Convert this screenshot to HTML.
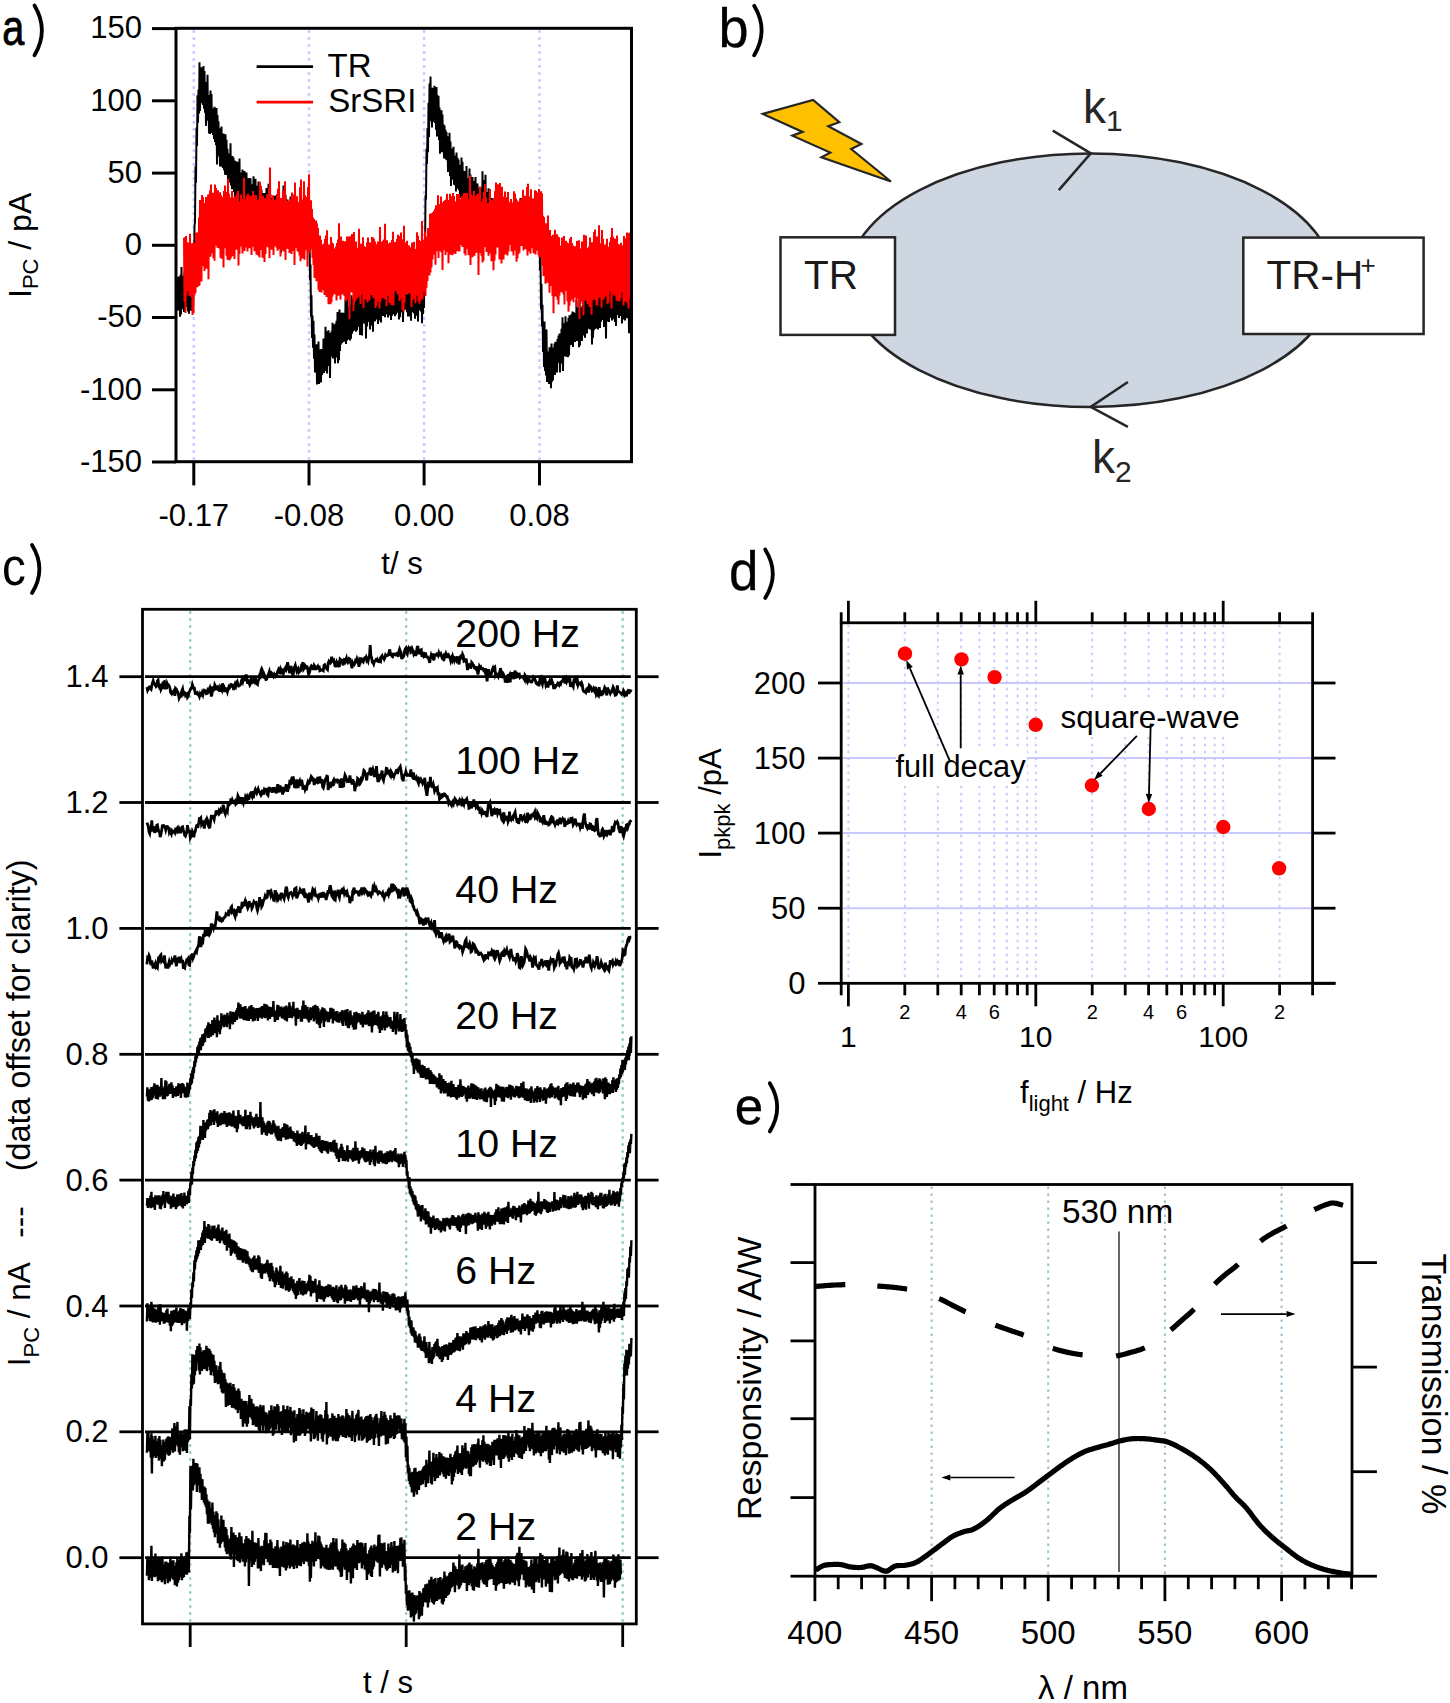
<!DOCTYPE html>
<html><head><meta charset="utf-8"><style>
html,body{margin:0;padding:0;background:#fff;}
svg{display:block;font-family:"Liberation Sans",sans-serif;}
</style></head><body>
<svg width="1450" height="1703" viewBox="0 0 1450 1703">
<rect width="1450" height="1703" fill="#fff"/>
<line x1="193.8" y1="30.3" x2="193.8" y2="459.7" stroke="#c4c4ff" stroke-width="2.5" stroke-dasharray="2.5 4.5"/>
<line x1="309" y1="30.3" x2="309" y2="459.7" stroke="#c4c4ff" stroke-width="2.5" stroke-dasharray="2.5 4.5"/>
<line x1="424.1" y1="30.3" x2="424.1" y2="459.7" stroke="#c4c4ff" stroke-width="2.5" stroke-dasharray="2.5 4.5"/>
<line x1="539.5" y1="30.3" x2="539.5" y2="459.7" stroke="#c4c4ff" stroke-width="2.5" stroke-dasharray="2.5 4.5"/>
<path d="M177.5 277.3l0.5 33.2l0.5 -34.1l0.5 31.7l0.5 -31l0.5 39.7l0.5 -42.1l0.5 39.8l0.5 -47.4l0.5 42.2l0.5 -24.5l0.5 23.4l0.5 -32.4l0.5 36.2l0.5 -39.6l0.5 39.6l0.5 -37.4l0.5 32.2l0.5 -45.5l0.5 45.8l0.5 -24.2l0.5 28.5l0.5 -27.2l0.5 29.6l0.5 -57.1l0.5 53.4l0.5 -32.3l0.5 32.9l0.5 -35.2l0.5 35.3l0.5 -31.8l0.5 30.6l0.5 -29.1l0.5 9.6l0.5 -64.4l0.5 -3.5l0.5 -55.6l0.5 16.2l0.5 -55.1l0.5 18.4l0.5 -50.9l0.5 27.6l0.5 -33.4l0.5 24.2l0.5 -51.4l0.5 48.8l0.5 -36.4l0.5 28.6l0.5 -36l0.5 35.4l0.5 -31.5l0.5 34l0.5 -39l0.5 42.6l0.5 -37.8l0.5 41.8l0.5 -28.3l0.5 41.7l0.5 -44.2l0.5 37.3l0.5 -44.4l0.5 46l0.5 -24.9l0.5 37.5l0.5 -38.4l0.5 38.9l0.5 -43.3l0.5 41.8l0.5 -38.4l0.5 39.1l0.5 -24.8l0.5 26.6l0.5 -24.3l0.5 28.5l0.5 -32.3l0.5 35.1l0.5 -29.9l0.5 33.2l0.5 -37.2l0.5 56.4l0.5 -49.5l0.5 36l0.5 -29.6l0.5 35.3l0.5 -25.4l0.5 35.2l0.5 -38.1l0.5 38.3l0.5 -40.2l0.5 40.4l0.5 -31.8l0.5 32.9l0.5 -34.5l0.5 36.9l0.5 -26.5l0.5 30.9l0.5 -40.4l0.5 40.6l0.5 -35.2l0.5 34.2l0.5 -25.1l0.5 33.4l0.5 -28.7l0.5 23.8l0.5 -23l0.5 28.1l0.5 -39.1l0.5 42.3l0.5 -28.6l0.5 32.3l0.5 -33.2l0.5 32.6l0.5 -31.2l0.5 34.4l0.5 -31.4l0.5 43.9l0.5 -43.5l0.5 29.7l0.5 -28.5l0.5 34.3l0.5 -34.7l0.5 38.2l0.5 -30.3l0.5 25.4l0.5 -36.4l0.5 48.2l0.5 -34.4l0.5 24.4l0.5 -22.9l0.5 25.5l0.5 -30l0.5 37.2l0.5 -30.6l0.5 28.6l0.5 -33.6l0.5 31l0.5 -22.6l0.5 29.8l0.5 -36.8l0.5 39.4l0.5 -31.7l0.5 26.5l0.5 -28.3l0.5 33.5l0.5 -33.7l0.5 35.5l0.5 -35.3l0.5 32.5l0.5 -26.3l0.5 37.6l0.5 -37.8l0.5 40.7l0.5 -48.7l0.5 37.5l0.5 -28.3l0.5 31.5l0.5 -38.2l0.5 46.4l0.5 -34.8l0.5 25.5l0.5 -30.2l0.5 39.5l0.5 -43.8l0.5 34.8l0.5 -30.4l0.5 32.8l0.5 -25.7l0.5 32.3l0.5 -35.7l0.5 34.4l0.5 -30.7l0.5 31.2l0.5 -31.5l0.5 39.3l0.5 -39.3l0.5 28.4l0.5 -24.8l0.5 24.4l0.5 -33l0.5 40.1l0.5 -29.9l0.5 25.4l0.5 -39.7l0.5 42.1l0.5 -31.1l0.5 32.8l0.5 -33.1l0.5 29.1l0.5 -25.8l0.5 34.6l0.5 -32.5l0.5 28.6l0.5 -32.5l0.5 36l0.5 -35.5l0.5 34.1l0.5 -35.1l0.5 31l0.5 -27.1l0.5 26.9l0.5 -28l0.5 34.4l0.5 -31.5l0.5 29.2l0.5 -30.7l0.5 30.6l0.5 -30.2l0.5 52.3l0.5 -47.6l0.5 34.3l0.5 -36.9l0.5 32.2l0.5 -49l0.5 49.1l0.5 -34.4l0.5 42.9l0.5 -48.2l0.5 34.5l0.5 -23l0.5 33.4l0.5 -40.3l0.5 32.8l0.5 -26.2l0.5 28.2l0.5 -28.9l0.5 26.2l0.5 -34.9l0.5 36.6l0.5 -32.1l0.5 37.1l0.5 -33.4l0.5 39.3l0.5 -35.3l0.5 29.6l0.5 -30.1l0.5 23.1l0.5 -25.7l0.5 39.6l0.5 -42.2l0.5 33.7l0.5 -27.4l0.5 38.5l0.5 -40.4l0.5 31.5l0.5 -32.5l0.5 39.8l0.5 -33.6l0.5 24.9l0.5 -31.1l0.5 29l0.5 -24l0.5 40.9l0.5 -43.9l0.5 34.7l0.5 -39.9l0.5 32.1l0.5 -23.2l0.5 23.5l0.5 -22.1l0.5 29.3l0.5 -31.2l0.5 26.3l0.5 -32.1l0.5 35.5l0.5 -12.2l0.5 51.2l0.5 -15.9l0.5 52.3l0.5 -21.6l0.5 42.7l0.5 -22.3l0.5 32.2l0.5 -27l0.5 37.9l0.5 -24.2l0.5 38.1l0.5 -26.7l0.5 25.8l0.5 -27.4l0.5 40.3l0.5 -30.2l0.5 25.3l0.5 -38.2l0.5 42.4l0.5 -34.5l0.5 27.4l0.5 -24.7l0.5 30.3l0.5 -33.3l0.5 25.9l0.5 -25.4l0.5 23.7l0.5 -34.9l0.5 34.5l0.5 -33l0.5 31l0.5 -44.2l0.5 38.9l0.5 -34.4l0.5 42.2l0.5 -36.3l0.5 28.9l0.5 -35.7l0.5 35l0.5 -28.3l0.5 41.1l0.5 -45.2l0.5 23.9l0.5 -25.6l0.5 25.6l0.5 -34.1l0.5 35.7l0.5 -33.8l0.5 32.5l0.5 -28.8l0.5 35.1l0.5 -39.8l0.5 34l0.5 -36.8l0.5 28.5l0.5 -37.3l0.5 51.2l0.5 -40.7l0.5 37.7l0.5 -50.7l0.5 41.6l0.5 -38.4l0.5 31.9l0.5 -26l0.5 24.4l0.5 -30.5l0.5 29.4l0.5 -26l0.5 25.8l0.5 -28.6l0.5 26.2l0.5 -39.8l0.5 44.5l0.5 -32.6l0.5 29l0.5 -42.1l0.5 41.3l0.5 -32.8l0.5 30.9l0.5 -30.4l0.5 33.1l0.5 -35.7l0.5 34l0.5 -43.5l0.5 38.6l0.5 -35.1l0.5 32.8l0.5 -25.5l0.5 24.6l0.5 -27.1l0.5 25.3l0.5 -32.3l0.5 35.3l0.5 -30.5l0.5 28.9l0.5 -38.6l0.5 35.2l0.5 -34.3l0.5 34l0.5 -26.2l0.5 34.6l0.5 -38.1l0.5 35.8l0.5 -39.1l0.5 42l0.5 -46.3l0.5 34.3l0.5 -27.2l0.5 26.9l0.5 -27l0.5 27.5l0.5 -30l0.5 44.8l0.5 -48.2l0.5 36.2l0.5 -36.3l0.5 31.9l0.5 -28.3l0.5 25.5l0.5 -23.7l0.5 33.9l0.5 -35.7l0.5 29.2l0.5 -30.7l0.5 33.3l0.5 -31.3l0.5 37.5l0.5 -54.3l0.5 44.1l0.5 -43.9l0.5 43.6l0.5 -35.9l0.5 31.6l0.5 -34.6l0.5 37.1l0.5 -35.2l0.5 39.7l0.5 -33.5l0.5 27.4l0.5 -31.3l0.5 33.8l0.5 -29.2l0.5 31.4l0.5 -44.2l0.5 35.1l0.5 -27l0.5 29.4l0.5 -32.7l0.5 30.5l0.5 -26.6l0.5 30.1l0.5 -29.3l0.5 25.8l0.5 -31.8l0.5 32.4l0.5 -26.6l0.5 29.7l0.5 -38.8l0.5 35.1l0.5 -29.8l0.5 31.7l0.5 -40.9l0.5 45.4l0.5 -32.3l0.5 28l0.5 -49.2l0.5 45.3l0.5 -27.7l0.5 30l0.5 -27.7l0.5 29.7l0.5 -28.2l0.5 26.6l0.5 -35.3l0.5 33.4l0.5 -26.4l0.5 25.9l0.5 -29.5l0.5 36.7l0.5 -37l0.5 34.9l0.5 -32.1l0.5 26.8l0.5 -31.6l0.5 31.9l0.5 -26.8l0.5 36.4l0.5 -36.2l0.5 23.3l0.5 -35l0.5 35.7l0.5 -29.7l0.5 28.8l0.5 -28l0.5 31.5l0.5 -30.6l0.5 34.9l0.5 -38l0.5 34.3l0.5 -34.1l0.5 37.6l0.5 -33.6l0.5 38l0.5 -38.5l0.5 28.4l0.5 -35l0.5 36.6l0.5 -32l0.5 32.9l0.5 -38.2l0.5 43.7l0.5 -38.7l0.5 29l0.5 -27.9l0.5 34.6l0.5 -34.4l0.5 40.3l0.5 -38.9l0.5 27.9l0.5 -30.2l0.5 27l0.5 -26l0.5 30.2l0.5 -34l0.5 45.7l0.5 -41.2l0.5 31.8l0.5 -33.4l0.5 27.5l0.5 -55.5l0.5 4.7l0.5 -62l0.5 4.6l0.5 -51l0.5 15.2l0.5 -36l0.5 24.2l0.5 -49.5l0.5 34.4l0.5 -53.7l0.5 37.8l0.5 -44.6l0.5 41.8l0.5 -30.6l0.5 39.7l0.5 -36.4l0.5 28.9l0.5 -32.2l0.5 34.2l0.5 -36.3l0.5 37.4l0.5 -26.1l0.5 32.7l0.5 -42.6l0.5 49.4l0.5 -41.4l0.5 41.2l0.5 -40.3l0.5 44.1l0.5 -32.7l0.5 46.4l0.5 -36.7l0.5 29.7l0.5 -36.5l0.5 41.9l0.5 -37.7l0.5 34l0.5 -24.2l0.5 34.2l0.5 -32.9l0.5 28.9l0.5 -24.8l0.5 29.8l0.5 -27.5l0.5 28.3l0.5 -24.1l0.5 35.8l0.5 -33.3l0.5 27.3l0.5 -33.2l0.5 43.3l0.5 -34.6l0.5 44.6l0.5 -37.6l0.5 30l0.5 -28.8l0.5 29.9l0.5 -32.8l0.5 37.9l0.5 -29.1l0.5 29.6l0.5 -28.4l0.5 34.6l0.5 -39l0.5 34.1l0.5 -28.7l0.5 30.9l0.5 -29.2l0.5 30.7l0.5 -25.5l0.5 33.2l0.5 -31.6l0.5 24.5l0.5 -33.4l0.5 46l0.5 -41.6l0.5 35.8l0.5 -26.3l0.5 32.8l0.5 -33l0.5 34l0.5 -29.8l0.5 27.5l0.5 -36.8l0.5 38.5l0.5 -26.3l0.5 31.4l0.5 -31.2l0.5 24.2l0.5 -34.2l0.5 42l0.5 -36l0.5 31.7l0.5 -23.1l0.5 36.2l0.5 -42.2l0.5 34.2l0.5 -28.7l0.5 31l0.5 -32.5l0.5 34.7l0.5 -38.6l0.5 40.6l0.5 -34.2l0.5 37.4l0.5 -37.4l0.5 31.8l0.5 -26l0.5 24.6l0.5 -25.7l0.5 26.5l0.5 -26.8l0.5 28.6l0.5 -27.3l0.5 30.6l0.5 -48.5l0.5 50.7l0.5 -27.1l0.5 28.2l0.5 -43.1l0.5 42.4l0.5 -47.6l0.5 45.4l0.5 -23.9l0.5 25.5l0.5 -29.7l0.5 35.6l0.5 -39.5l0.5 41.5l0.5 -31.4l0.5 29.9l0.5 -30.4l0.5 28.7l0.5 -28.4l0.5 32.1l0.5 -31.9l0.5 28.8l0.5 -27.5l0.5 41.1l0.5 -40.5l0.5 29.4l0.5 -27.8l0.5 28.8l0.5 -33.3l0.5 30.8l0.5 -25.3l0.5 23.9l0.5 -35.2l0.5 42.3l0.5 -31.3l0.5 24.6l0.5 -25.7l0.5 34l0.5 -32.5l0.5 31.8l0.5 -30l0.5 28.7l0.5 -29.8l0.5 28.7l0.5 -31.3l0.5 31.8l0.5 -27.3l0.5 30l0.5 -37.9l0.5 33.4l0.5 -29.1l0.5 28.8l0.5 -24.8l0.5 35l0.5 -35.9l0.5 29.3l0.5 -31.9l0.5 31.5l0.5 -28.7l0.5 33.2l0.5 -35.7l0.5 33.3l0.5 -26.5l0.5 25.2l0.5 -30.3l0.5 35.1l0.5 -29.8l0.5 23.8l0.5 -29.8l0.5 31.4l0.5 -31.4l0.5 33l0.5 -32.4l0.5 29.4l0.5 -23.4l0.5 33.3l0.5 -45.7l0.5 47.1l0.5 -45.1l0.5 37.8l0.5 -32.3l0.5 32.1l0.5 -30.7l0.5 41.2l0.5 -41.5l0.5 33.8l0.5 -32.1l0.5 26.4l0.5 -32.2l0.5 36.6l0.5 -30.6l0.5 29.3l0.5 -34.6l0.5 34.4l0.5 -31l0.5 29.4l0.5 -27.3l0.5 36.8l0.5 -45.3l0.5 37.9l0.5 -33.9l0.5 31.5l0.5 -22.2l0.5 30.7l0.5 -32.5l0.5 27.8l0.5 -28.2l0.5 25.3l0.5 -28.7l0.5 32.9l0.5 -34.3l0.5 41.6l0.5 -34.1l0.5 30.5l0.5 -23.7l0.5 49.9l0.5 -14.8l0.5 53.8l0.5 -25.9l0.5 42.7l0.5 -21.6l0.5 47.3l0.5 -28.8l0.5 43.7l0.5 -45.4l0.5 49.3l0.5 -29.9l0.5 34.5l0.5 -46l0.5 52.4l0.5 -30.3l0.5 26.2l0.5 -25.7l0.5 31.8l0.5 -36.7l0.5 31.3l0.5 -28.7l0.5 38.4l0.5 -44.7l0.5 38.3l0.5 -34l0.5 32.4l0.5 -32.6l0.5 25.3l0.5 -29.3l0.5 31.3l0.5 -33.2l0.5 26l0.5 -25.4l0.5 30.1l0.5 -33.4l0.5 24.1l0.5 -27.5l0.5 27l0.5 -29.1l0.5 39l0.5 -39l0.5 30.1l0.5 -34.9l0.5 34.8l0.5 -46.2l0.5 53.6l0.5 -47.6l0.5 33l0.5 -29l0.5 24.9l0.5 -36l0.5 40.6l0.5 -31.5l0.5 22.3l0.5 -25.8l0.5 35.4l0.5 -39.5l0.5 37.7l0.5 -40.2l0.5 30.2l0.5 -25.9l0.5 23.2l0.5 -28.4l0.5 30.8l0.5 -33.6l0.5 35.6l0.5 -35.2l0.5 29.9l0.5 -26.1l0.5 26.4l0.5 -29.1l0.5 27.1l0.5 -40l0.5 41l0.5 -33.6l0.5 30.1l0.5 -30l0.5 39.6l0.5 -53l0.5 51.2l0.5 -37l0.5 29.9l0.5 -30.9l0.5 33.5l0.5 -35.6l0.5 30.2l0.5 -33l0.5 31.2l0.5 -38.6l0.5 42.6l0.5 -41.5l0.5 31l0.5 -25.3l0.5 31.6l0.5 -33.3l0.5 28.6l0.5 -27.3l0.5 23.4l0.5 -30.3l0.5 34.8l0.5 -49.7l0.5 48.1l0.5 -28.3l0.5 44.9l0.5 -59l0.5 52.3l0.5 -43.2l0.5 35.8l0.5 -33.3l0.5 32.1l0.5 -38l0.5 37.5l0.5 -38.8l0.5 32.5l0.5 -26.4l0.5 33.6l0.5 -34.1l0.5 31.5l0.5 -37.7l0.5 38.9l0.5 -33l0.5 26.6l0.5 -32.3l0.5 29.4l0.5 -26.8l0.5 28l0.5 -36.5l0.5 43.4l0.5 -35.1l0.5 34l0.5 -35.1l0.5 47.7l0.5 -48l0.5 30.2l0.5 -36.1l0.5 37.1l0.5 -31.4l0.5 31.9l0.5 -38.7l0.5 34.3l0.5 -36.5l0.5 33l0.5 -25l0.5 31.2l0.5 -40.7l0.5 39.6l0.5 -45.2l0.5 39.5l0.5 -23.5l0.5 31.9l0.5 -34.5l0.5 38.6l0.5 -42.2l0.5 31l0.5 -27.2l0.5 24.9l0.5 -39.4l0.5 44.8l0.5 -30.9l0.5 28.9l0.5 -30.9l0.5 29.2l0.5 -31.2l0.5 40.3l0.5 -46.9l0.5 43l0.5 -38.9l0.5 37.9l0.5 -59.1l0.5 61.2l0.5 -39l0.5 29.6l0.5 -27.8l0.5 34.9l0.5 -37.6l0.5 29.1l0.5 -29.7l0.5 53.1l0.5 -54.3l0.5 36.3" fill="none" stroke="#000" stroke-width="2" />
<path d="M184 237.7l0.5 64l0.5 -64.4l0.5 75.6l0.5 -77l0.5 59.3l0.5 -53l0.5 49.3l0.5 -48.9l0.5 48.1l0.5 -41.7l0.5 47l0.5 -62.3l0.5 59.9l0.5 -45.8l0.5 49.1l0.5 -53.6l0.5 71.8l0.5 -72.2l0.5 70.3l0.5 -70.3l0.5 52.4l0.5 -47.9l0.5 45.6l0.5 -60.4l0.5 51.8l0.5 -49.5l0.5 52.4l0.5 -55.1l0.5 53.7l0.5 -68.3l0.5 67.8l0.5 -85.5l0.5 71.9l0.5 -62.7l0.5 72.4l0.5 -86.5l0.5 71.3l0.5 -69.2l0.5 59.4l0.5 -50l0.5 64.6l0.5 -68.1l0.5 52.5l0.5 -58.4l0.5 71.6l0.5 -63l0.5 48.4l0.5 -59.4l0.5 84.5l0.5 -85l0.5 53.7l0.5 -57.5l0.5 66.4l0.5 -72.3l0.5 69.1l0.5 -51.2l0.5 47.6l0.5 -57.3l0.5 65.5l0.5 -65.1l0.5 67.6l0.5 -76.1l0.5 60.2l0.5 -56.9l0.5 57.9l0.5 -46.4l0.5 48.3l0.5 -57.5l0.5 57.7l0.5 -50.9l0.5 51.5l0.5 -56.2l0.5 65.5l0.5 -62.9l0.5 63.9l0.5 -57.4l0.5 54.1l0.5 -58.5l0.5 70.5l0.5 -76.6l0.5 54l0.5 -59.5l0.5 62.9l0.5 -53.2l0.5 60.7l0.5 -63.8l0.5 67.7l0.5 -81.3l0.5 69.3l0.5 -53.9l0.5 66.7l0.5 -62.9l0.5 61.3l0.5 -58l0.5 56.1l0.5 -66l0.5 65.1l0.5 -58.6l0.5 47.4l0.5 -44.5l0.5 58.6l0.5 -62.7l0.5 48.8l0.5 -44.3l0.5 48.9l0.5 -56l0.5 52.3l0.5 -55.2l0.5 74.8l0.5 -64.1l0.5 52.6l0.5 -52.6l0.5 44.3l0.5 -51.2l0.5 51.8l0.5 -47.4l0.5 54.4l0.5 -53.8l0.5 48.3l0.5 -70.1l0.5 73.1l0.5 -47.9l0.5 41.1l0.5 -44.9l0.5 48.3l0.5 -51.7l0.5 55.6l0.5 -57.7l0.5 51.8l0.5 -48.6l0.5 51.4l0.5 -52.6l0.5 52.6l0.5 -47.5l0.5 54.3l0.5 -59.6l0.5 51.3l0.5 -55.8l0.5 53.9l0.5 -43l0.5 49.4l0.5 -56.3l0.5 49.4l0.5 -49.5l0.5 59.8l0.5 -51.9l0.5 49.6l0.5 -52.6l0.5 55.9l0.5 -52.7l0.5 54.4l0.5 -75.7l0.5 68.3l0.5 -64.1l0.5 59.5l0.5 -45.7l0.5 58l0.5 -61.9l0.5 54.7l0.5 -52.6l0.5 64.2l0.5 -62.4l0.5 54.3l0.5 -55.4l0.5 48.2l0.5 -52.5l0.5 49.7l0.5 -42.1l0.5 45.5l0.5 -59.9l0.5 70.8l0.5 -90.8l0.5 81.2l0.5 -49.2l0.5 50.3l0.5 -47.7l0.5 47l0.5 -53.9l0.5 59.9l0.5 -53.9l0.5 44.7l0.5 -45.6l0.5 45.1l0.5 -45.9l0.5 48.1l0.5 -53.7l0.5 56.8l0.5 -62l0.5 60.5l0.5 -68l0.5 63.5l0.5 -42.4l0.5 54.3l0.5 -58.6l0.5 46.4l0.5 -41.5l0.5 47.3l0.5 -59.7l0.5 61l0.5 -54.3l0.5 50.8l0.5 -66.7l0.5 78.7l0.5 -62.1l0.5 47.9l0.5 -43.3l0.5 46.3l0.5 -47.8l0.5 47.9l0.5 -46.4l0.5 50.4l0.5 -53.6l0.5 48.1l0.5 -47.6l0.5 54.2l0.5 -61.6l0.5 58.7l0.5 -49.9l0.5 44.1l0.5 -50.8l0.5 70.6l0.5 -82.6l0.5 65.3l0.5 -48.9l0.5 45.9l0.5 -48.5l0.5 54.6l0.5 -47.7l0.5 48.8l0.5 -49.7l0.5 53.1l0.5 -68.2l0.5 74.1l0.5 -81.9l0.5 68.8l0.5 -48.7l0.5 59l0.5 -55.8l0.5 43.3l0.5 -64.8l0.5 78.5l0.5 -64.4l0.5 50.2l0.5 -46l0.5 50.8l0.5 -53.4l0.5 69.8l0.5 -79.6l0.5 63.3l0.5 -76.2l0.5 78.8l0.5 -52.8l0.5 45.8l0.5 -45.7l0.5 49.3l0.5 -40.7l0.5 49.1l0.5 -40.5l0.5 47.6l0.5 -46l0.5 58.9l0.5 -56.7l0.5 54.4l0.5 -55.1l0.5 60.6l0.5 -58l0.5 55.6l0.5 -50.7l0.5 61.6l0.5 -53.3l0.5 55.6l0.5 -56.6l0.5 53.6l0.5 -49.3l0.5 52.7l0.5 -48l0.5 45.3l0.5 -44.4l0.5 44.6l0.5 -46.3l0.5 51.3l0.5 -55.8l0.5 52.6l0.5 -56.1l0.5 61.3l0.5 -66.6l0.5 64.7l0.5 -49.1l0.5 58.3l0.5 -59.8l0.5 48.1l0.5 -45.1l0.5 56.9l0.5 -67.3l0.5 65.2l0.5 -59.8l0.5 54l0.5 -52.9l0.5 50.8l0.5 -45.9l0.5 42.7l0.5 -42.5l0.5 45.6l0.5 -47.7l0.5 53.9l0.5 -57.5l0.5 52.9l0.5 -56.4l0.5 54.9l0.5 -71l0.5 72.1l0.5 -50.1l0.5 54.3l0.5 -63.1l0.5 56.2l0.5 -48.7l0.5 50.4l0.5 -53.6l0.5 52.8l0.5 -48.6l0.5 51.1l0.5 -54.8l0.5 60.1l0.5 -57.6l0.5 56.5l0.5 -63.8l0.5 62.9l0.5 -52.4l0.5 51.6l0.5 -62l0.5 82.6l0.5 -83l0.5 54.8l0.5 -42.4l0.5 43.6l0.5 -58.2l0.5 58.4l0.5 -52l0.5 70.7l0.5 -79.1l0.5 62.2l0.5 -49.9l0.5 56.9l0.5 -59.7l0.5 53.5l0.5 -47.3l0.5 50.8l0.5 -49.7l0.5 45.1l0.5 -65.1l0.5 67l0.5 -47.2l0.5 55.3l0.5 -60.2l0.5 50.9l0.5 -45.6l0.5 41.6l0.5 -53.4l0.5 70.7l0.5 -62l0.5 47.3l0.5 -45.7l0.5 52.1l0.5 -52.7l0.5 50.7l0.5 -55.1l0.5 60l0.5 -64.9l0.5 57.5l0.5 -46.9l0.5 52.3l0.5 -58l0.5 52.4l0.5 -51.6l0.5 48.1l0.5 -54.5l0.5 58.4l0.5 -57.8l0.5 60.7l0.5 -59.4l0.5 55.7l0.5 -53.1l0.5 66.6l0.5 -60.4l0.5 58l0.5 -61.3l0.5 49.7l0.5 -52.5l0.5 60l0.5 -53.5l0.5 60.6l0.5 -81.5l0.5 74.6l0.5 -55.8l0.5 47l0.5 -51.2l0.5 56.3l0.5 -57.3l0.5 54.5l0.5 -55.7l0.5 59.8l0.5 -75.6l0.5 67.1l0.5 -42.2l0.5 57.6l0.5 -66l0.5 51.1l0.5 -47.9l0.5 52.3l0.5 -49.3l0.5 56.5l0.5 -60.3l0.5 57.5l0.5 -51.6l0.5 56.5l0.5 -64.9l0.5 56.5l0.5 -64.8l0.5 73.7l0.5 -56.3l0.5 41.8l0.5 -49l0.5 48.9l0.5 -44.6l0.5 44.1l0.5 -51.5l0.5 55.2l0.5 -59.3l0.5 59.6l0.5 -58.5l0.5 65.1l0.5 -63.3l0.5 60.8l0.5 -66l0.5 60.2l0.5 -53.4l0.5 70.8l0.5 -61.3l0.5 62.6l0.5 -85.7l0.5 77.1l0.5 -60.3l0.5 51.4l0.5 -46.9l0.5 47.6l0.5 -53.8l0.5 53.7l0.5 -45.5l0.5 42.9l0.5 -46.7l0.5 48.1l0.5 -46l0.5 43.7l0.5 -43.2l0.5 59.1l0.5 -64.3l0.5 57.4l0.5 -54.5l0.5 47.2l0.5 -50.9l0.5 56.7l0.5 -49.6l0.5 54.3l0.5 -54.2l0.5 46.5l0.5 -63.2l0.5 58.7l0.5 -55.2l0.5 65.8l0.5 -61.7l0.5 63.9l0.5 -57.4l0.5 54.2l0.5 -59.5l0.5 58l0.5 -78.1l0.5 78.4l0.5 -53.5l0.5 45.9l0.5 -52l0.5 52.1l0.5 -60.3l0.5 64.5l0.5 -59.5l0.5 51.2l0.5 -49l0.5 42.3l0.5 -53.2l0.5 46.7l0.5 -45.2l0.5 46.2l0.5 -61.5l0.5 58.5l0.5 -59.3l0.5 54.2l0.5 -51.8l0.5 43.8l0.5 -47.2l0.5 42.5l0.5 -43.7l0.5 43.6l0.5 -45.9l0.5 55.9l0.5 -59.5l0.5 46.1l0.5 -45.7l0.5 45.1l0.5 -55.5l0.5 62.7l0.5 -53.8l0.5 47.2l0.5 -45.1l0.5 40.8l0.5 -50.5l0.5 56.1l0.5 -49.3l0.5 66.7l0.5 -67.5l0.5 46.1l0.5 -47.6l0.5 49.1l0.5 -49.9l0.5 54.8l0.5 -55.6l0.5 51.6l0.5 -57.3l0.5 58.4l0.5 -52.2l0.5 63.3l0.5 -59.9l0.5 50.5l0.5 -60l0.5 60.9l0.5 -52.1l0.5 50.6l0.5 -57l0.5 59l0.5 -62.3l0.5 60.7l0.5 -57.6l0.5 52.9l0.5 -47.5l0.5 52.7l0.5 -52.6l0.5 48.5l0.5 -56.1l0.5 57.3l0.5 -48.1l0.5 43.1l0.5 -52.2l0.5 57.5l0.5 -52.7l0.5 46.1l0.5 -45.6l0.5 45.6l0.5 -48.9l0.5 51l0.5 -49.8l0.5 49.7l0.5 -54l0.5 60.7l0.5 -54.8l0.5 56.6l0.5 -62.5l0.5 55.2l0.5 -55.3l0.5 56.4l0.5 -46.2l0.5 52.2l0.5 -56.3l0.5 50l0.5 -73.5l0.5 89.5l0.5 -70.8l0.5 55.6l0.5 -54.4l0.5 61.9l0.5 -53.9l0.5 50l0.5 -62.3l0.5 64.8l0.5 -59.9l0.5 56.9l0.5 -51.2l0.5 51.2l0.5 -58.6l0.5 54.7l0.5 -55.1l0.5 81.3l0.5 -79.9l0.5 51.7l0.5 -60.5l0.5 66.6l0.5 -51l0.5 53.8l0.5 -54.1l0.5 60.8l0.5 -63.5l0.5 61.7l0.5 -68.6l0.5 54.3l0.5 -62.5l0.5 63.1l0.5 -49.4l0.5 54.3l0.5 -48.7l0.5 42.1l0.5 -42.4l0.5 52.9l0.5 -53.3l0.5 51.1l0.5 -64.7l0.5 60.2l0.5 -48.8l0.5 60.9l0.5 -58.3l0.5 45.7l0.5 -49l0.5 70.7l0.5 -71.8l0.5 61.9l0.5 -69.1l0.5 63.1l0.5 -71.8l0.5 63.9l0.5 -51.5l0.5 52.6l0.5 -63.4l0.5 63.4l0.5 -49.3l0.5 61.1l0.5 -76.5l0.5 67.1l0.5 -55.7l0.5 69.2l0.5 -76.7l0.5 61.8l0.5 -52.2l0.5 63.1l0.5 -58.9l0.5 53.4l0.5 -62.5l0.5 63.1l0.5 -54.8l0.5 50.8l0.5 -51.7l0.5 56.6l0.5 -63.5l0.5 59.6l0.5 -48.5l0.5 41.9l0.5 -42.5l0.5 42l0.5 -45.6l0.5 52.7l0.5 -48.9l0.5 42.1l0.5 -41.9l0.5 52.5l0.5 -64.1l0.5 59.3l0.5 -57l0.5 55.1l0.5 -50.5l0.5 63.5l0.5 -61.1l0.5 57.9l0.5 -56.4l0.5 52l0.5 -52.3l0.5 50.6l0.5 -53.2l0.5 45.1l0.5 -42.8l0.5 44.5l0.5 -48l0.5 47.9l0.5 -56.2l0.5 60.7l0.5 -54.2l0.5 52.3l0.5 -52.8l0.5 53.4l0.5 -49.5l0.5 50l0.5 -62.6l0.5 68.5l0.5 -71.7l0.5 66l0.5 -48.2l0.5 50l0.5 -55.1l0.5 57.2l0.5 -64.4l0.5 59l0.5 -49.7l0.5 47.6l0.5 -46.1l0.5 52.8l0.5 -54.5l0.5 55.2l0.5 -63.4l0.5 64.4l0.5 -63.6l0.5 59.8l0.5 -58.3l0.5 53.7l0.5 -47l0.5 56l0.5 -66.2l0.5 68.2l0.5 -59.8l0.5 59.3l0.5 -65.5l0.5 66.4l0.5 -64.4l0.5 72.5l0.5 -49.9l0.5 60.2l0.5 -58.7l0.5 57.1l0.5 -47.8l0.5 57.2l0.5 -60.6l0.5 52.5l0.5 -45.3l0.5 52.4l0.5 -67.3l0.5 63.9l0.5 -47.2l0.5 60.5l0.5 -62.8l0.5 56l0.5 -50l0.5 50.1l0.5 -43.9l0.5 53.9l0.5 -61.3l0.5 78.5l0.5 -71.8l0.5 47.3l0.5 -59l0.5 66.8l0.5 -53.3l0.5 51.6l0.5 -60.6l0.5 65.6l0.5 -63.4l0.5 68.2l0.5 -67.3l0.5 58.3l0.5 -47.7l0.5 43.9l0.5 -46.1l0.5 46.4l0.5 -54.5l0.5 54.9l0.5 -51l0.5 52.9l0.5 -58.5l0.5 68.6l0.5 -56.1l0.5 42.4l0.5 -50.1l0.5 49.4l0.5 -47.6l0.5 58.8l0.5 -58.1l0.5 68.6l0.5 -67l0.5 60.9l0.5 -66.9l0.5 62.4l0.5 -64.1l0.5 55.6l0.5 -49.7l0.5 56.4l0.5 -54l0.5 56.9l0.5 -55.9l0.5 51.2l0.5 -51.4l0.5 48.1l0.5 -46.3l0.5 58.8l0.5 -65.7l0.5 49l0.5 -45.9l0.5 54.5l0.5 -58.4l0.5 78.6l0.5 -70.4l0.5 49.7l0.5 -49.1l0.5 52.5l0.5 -60l0.5 62.5l0.5 -57.7l0.5 68.8l0.5 -80.5l0.5 55.8l0.5 -50.3l0.5 60.2l0.5 -64.9l0.5 61.7l0.5 -49.3l0.5 56l0.5 -54.5l0.5 47.9l0.5 -50.7l0.5 60.4l0.5 -69.6l0.5 57.3l0.5 -50.8l0.5 70.8l0.5 -72.4l0.5 58l0.5 -57.7l0.5 56.8l0.5 -67.4l0.5 62.8l0.5 -65.2l0.5 70.5l0.5 -59.2l0.5 64.2l0.5 -68.6l0.5 69l0.5 -67.7l0.5 52.8l0.5 -65.4l0.5 72.6l0.5 -54.5l0.5 48.5l0.5 -47.7l0.5 63.6l0.5 -77.7l0.5 69l0.5 -60.3l0.5 61l0.5 -55.3l0.5 52.7l0.5 -52.2l0.5 51.3l0.5 -51.6l0.5 46.1l0.5 -52l0.5 65.3l0.5 -55.6l0.5 54.3l0.5 -55.9l0.5 44.3l0.5 -49.3l0.5 48.4l0.5 -52.9l0.5 71.2l0.5 -80.5l0.5 66.8l0.5 -58l0.5 54.3l0.5 -52.5l0.5 56.9l0.5 -56.8l0.5 55.1l0.5 -44.6l0.5 51.5l0.5 -65.2l0.5 54.8l0.5 -46.4l0.5 57l0.5 -56.3l0.5 57l0.5 -56.2l0.5 52.8l0.5 -55.5l0.5 47.7l0.5 -44.7l0.5 46.2l0.5 -46.4l0.5 60l0.5 -69.6l0.5 60l0.5 -53.3l0.5 59.1l0.5 -63.4l0.5 56.6l0.5 -62.5l0.5 70.9l0.5 -70l0.5 75.1l0.5 -65.2l0.5 52.4l0.5 -63.1l0.5 66.4" fill="none" stroke="#ff0000" stroke-width="2" />
<rect x="176" y="28.3" width="455.5" height="433.4" fill="none" stroke="#000" stroke-width="3"/>
<line x1="152" y1="28.6" x2="176" y2="28.6" stroke="#000" stroke-width="3" />
<text x="142" y="38.4" font-size="31" text-anchor="end" fill="#000" >150</text>
<line x1="152" y1="100.8" x2="176" y2="100.8" stroke="#000" stroke-width="3" />
<text x="142" y="110.6" font-size="31" text-anchor="end" fill="#000" >100</text>
<line x1="152" y1="173.1" x2="176" y2="173.1" stroke="#000" stroke-width="3" />
<text x="142" y="182.9" font-size="31" text-anchor="end" fill="#000" >50</text>
<line x1="152" y1="245.3" x2="176" y2="245.3" stroke="#000" stroke-width="3" />
<text x="142" y="255.1" font-size="31" text-anchor="end" fill="#000" >0</text>
<line x1="152" y1="317.5" x2="176" y2="317.5" stroke="#000" stroke-width="3" />
<text x="142" y="327.3" font-size="31" text-anchor="end" fill="#000" >-50</text>
<line x1="152" y1="389.8" x2="176" y2="389.8" stroke="#000" stroke-width="3" />
<text x="142" y="399.6" font-size="31" text-anchor="end" fill="#000" >-100</text>
<line x1="152" y1="462" x2="176" y2="462" stroke="#000" stroke-width="3" />
<text x="142" y="471.8" font-size="31" text-anchor="end" fill="#000" >-150</text>
<line x1="193.8" y1="461.7" x2="193.8" y2="485.4" stroke="#000" stroke-width="3" />
<text x="193.8" y="525.7" font-size="31" text-anchor="middle" fill="#000" >-0.17</text>
<line x1="309" y1="461.7" x2="309" y2="485.4" stroke="#000" stroke-width="3" />
<text x="309" y="525.7" font-size="31" text-anchor="middle" fill="#000" >-0.08</text>
<line x1="424.1" y1="461.7" x2="424.1" y2="485.4" stroke="#000" stroke-width="3" />
<text x="424.1" y="525.7" font-size="31" text-anchor="middle" fill="#000" >0.00</text>
<line x1="539.5" y1="461.7" x2="539.5" y2="485.4" stroke="#000" stroke-width="3" />
<text x="539.5" y="525.7" font-size="31" text-anchor="middle" fill="#000" >0.08</text>
<text x="402" y="574" font-size="31" text-anchor="middle" fill="#000" >t/ s</text>
<text transform="translate(30.6 298) rotate(-90)" font-size="32">I<tspan font-size="22" dy="7.6">PC</tspan><tspan dy="-7.6"> / pA</tspan></text>
<line x1="256.6" y1="66.6" x2="313.1" y2="66.6" stroke="#000" stroke-width="2.8" />
<line x1="256.6" y1="102.1" x2="313.1" y2="102.1" stroke="#ff0000" stroke-width="2.8" />
<text x="327.6" y="76.6" font-size="33" text-anchor="start" fill="#000" >TR</text>
<text x="328.3" y="112.4" font-size="33" text-anchor="start" fill="#000" >SrSRI</text>
<path d="M762.9 113.9 L813.1 99.9 L839.3 122.2 L828.3 126.1 L861.4 144.0 L851.2 149.0 L890.9 181.5 L821.4 157.2 L830.2 152.6 L792.4 135.7 L802.6 131.9 Z" fill="#ffc000" stroke="#262626" stroke-width="2.2" stroke-linejoin="miter"/>
<ellipse cx="1090.5" cy="280.2" rx="243" ry="126.8" fill="#cdd6e1" stroke="#262626" stroke-width="2.5"/>
<rect x="780.5" y="237.3" width="114.5" height="97.6" fill="#fff" stroke="#262626" stroke-width="2.5"/>
<rect x="1243.3" y="237.6" width="180.3" height="96.4" fill="#fff" stroke="#262626" stroke-width="2.5"/>
<path d="M1052.8 130.6 L1090.8 153.4 L1058.8 190.1" fill="none" stroke="#262626" stroke-width="2.5"/>
<path d="M1127.9 382 L1090.7 406.9 L1127.9 426.8" fill="none" stroke="#262626" stroke-width="2.5"/>
<text x="804" y="288.6" font-size="40.5" text-anchor="start" fill="#1a1a1a" >TR</text>
<text x="1266.5" y="288.6" font-size="40.5" fill="#1a1a1a">TR-H<tspan font-size="26" dx="-2.7" dy="-14.3">+</tspan></text>
<text x="1083" y="123.1" font-size="46" fill="#262626">k<tspan font-size="30" dy="8">1</tspan></text>
<text x="1092" y="473.1" font-size="46" fill="#262626">k<tspan font-size="30" dy="9">2</tspan></text>
<text transform="translate(2.17 45.05) scale(0.396 0.495)" font-size="100" stroke="#000" stroke-width="1.77" stroke-linejoin="round">a</text>
<path d="M34.5 5.5 Q49.3 30.4 34.5 55.3" fill="none" stroke="#000" stroke-width="3.8" stroke-linecap="round"/>
<text transform="translate(718.46 46.51) scale(0.541 0.558)" font-size="100" stroke="#000" stroke-width="0.55" stroke-linejoin="round">b</text>
<path d="M754.2 5.8 Q769.0 30.5 754.2 55.3" fill="none" stroke="#000" stroke-width="3.8" stroke-linecap="round"/>
<text transform="translate(1.89 585.00) scale(0.477 0.520)" font-size="100" stroke="#000" stroke-width="0.00" stroke-linejoin="round">c</text>
<path d="M32.0 544.9 Q46.8 569.0 32.0 593.0" fill="none" stroke="#000" stroke-width="3.8" stroke-linecap="round"/>
<text transform="translate(728.93 589.55) scale(0.529 0.557)" font-size="100" stroke="#000" stroke-width="0.57" stroke-linejoin="round">d</text>
<path d="M765.2 549.4 Q780.4 573.7 765.2 597.9" fill="none" stroke="#000" stroke-width="3.8" stroke-linecap="round"/>
<text transform="translate(734.81 1123.55) scale(0.511 0.522)" font-size="100" stroke="#000" stroke-width="0.59" stroke-linejoin="round">e</text>
<path d="M769.8 1083.2 Q784.6 1107.3 769.8 1131.4" fill="none" stroke="#000" stroke-width="3.8" stroke-linecap="round"/>
<line x1="190.2" y1="611.3" x2="190.2" y2="1621.9" stroke="#8cc4c4" stroke-width="2.2" stroke-dasharray="2.5 4.5"/>
<line x1="406.2" y1="611.3" x2="406.2" y2="1621.9" stroke="#8cc4c4" stroke-width="2.2" stroke-dasharray="2.5 4.5"/>
<line x1="622.7" y1="611.3" x2="622.7" y2="1621.9" stroke="#8cc4c4" stroke-width="2.2" stroke-dasharray="2.5 4.5"/>
<line x1="145" y1="1557.7" x2="630.8" y2="1557.7" stroke="#000" stroke-width="2.8" />
<line x1="119.4" y1="1557.7" x2="142.5" y2="1557.7" stroke="#000" stroke-width="2.8" />
<line x1="636.3" y1="1557.7" x2="658.6" y2="1557.7" stroke="#000" stroke-width="2.8" />
<text x="108.5" y="1568.2" font-size="31" text-anchor="end" fill="#000" >0.0</text>
<line x1="145" y1="1431.8" x2="630.8" y2="1431.8" stroke="#000" stroke-width="2.8" />
<line x1="119.4" y1="1431.8" x2="142.5" y2="1431.8" stroke="#000" stroke-width="2.8" />
<line x1="636.3" y1="1431.8" x2="658.6" y2="1431.8" stroke="#000" stroke-width="2.8" />
<text x="108.5" y="1442.3" font-size="31" text-anchor="end" fill="#000" >0.2</text>
<line x1="145" y1="1306" x2="630.8" y2="1306" stroke="#000" stroke-width="2.8" />
<line x1="119.4" y1="1306" x2="142.5" y2="1306" stroke="#000" stroke-width="2.8" />
<line x1="636.3" y1="1306" x2="658.6" y2="1306" stroke="#000" stroke-width="2.8" />
<text x="108.5" y="1316.5" font-size="31" text-anchor="end" fill="#000" >0.4</text>
<line x1="145" y1="1180.1" x2="630.8" y2="1180.1" stroke="#000" stroke-width="2.8" />
<line x1="119.4" y1="1180.1" x2="142.5" y2="1180.1" stroke="#000" stroke-width="2.8" />
<line x1="636.3" y1="1180.1" x2="658.6" y2="1180.1" stroke="#000" stroke-width="2.8" />
<text x="108.5" y="1190.6" font-size="31" text-anchor="end" fill="#000" >0.6</text>
<line x1="145" y1="1054.3" x2="630.8" y2="1054.3" stroke="#000" stroke-width="2.8" />
<line x1="119.4" y1="1054.3" x2="142.5" y2="1054.3" stroke="#000" stroke-width="2.8" />
<line x1="636.3" y1="1054.3" x2="658.6" y2="1054.3" stroke="#000" stroke-width="2.8" />
<text x="108.5" y="1064.8" font-size="31" text-anchor="end" fill="#000" >0.8</text>
<line x1="145" y1="928.4" x2="630.8" y2="928.4" stroke="#000" stroke-width="2.8" />
<line x1="119.4" y1="928.4" x2="142.5" y2="928.4" stroke="#000" stroke-width="2.8" />
<line x1="636.3" y1="928.4" x2="658.6" y2="928.4" stroke="#000" stroke-width="2.8" />
<text x="108.5" y="938.9" font-size="31" text-anchor="end" fill="#000" >1.0</text>
<line x1="145" y1="802.5" x2="630.8" y2="802.5" stroke="#000" stroke-width="2.8" />
<line x1="119.4" y1="802.5" x2="142.5" y2="802.5" stroke="#000" stroke-width="2.8" />
<line x1="636.3" y1="802.5" x2="658.6" y2="802.5" stroke="#000" stroke-width="2.8" />
<text x="108.5" y="813" font-size="31" text-anchor="end" fill="#000" >1.2</text>
<line x1="145" y1="676.7" x2="630.8" y2="676.7" stroke="#000" stroke-width="2.8" />
<line x1="119.4" y1="676.7" x2="142.5" y2="676.7" stroke="#000" stroke-width="2.8" />
<line x1="636.3" y1="676.7" x2="658.6" y2="676.7" stroke="#000" stroke-width="2.8" />
<text x="108.5" y="687.2" font-size="31" text-anchor="end" fill="#000" >1.4</text>
<rect x="142.5" y="609.3" width="493.79999999999995" height="1014.6000000000001" fill="none" stroke="#000" stroke-width="2.8"/>
<line x1="190.2" y1="1623.9" x2="190.2" y2="1647" stroke="#000" stroke-width="2.8" />
<line x1="406.2" y1="1623.9" x2="406.2" y2="1647" stroke="#000" stroke-width="2.8" />
<line x1="622.7" y1="1623.9" x2="622.7" y2="1647" stroke="#000" stroke-width="2.8" />
<text x="388" y="1693" font-size="31" text-anchor="middle" fill="#000" >t / s</text>
<path d="M146.9 687.1l0.7 3.2l0.7 -1.4l0.7 -2l0.7 -0.1l0.7 2l0.7 0.7l0.7 -3.7l0.7 -2.9l0.7 -2.1l0.7 2.4l0.7 0.9l0.7 1.1l0.7 1.4l0.7 -0.8l0.7 -4.7l0.7 -1l0.7 6l0.7 1.4l0.7 -1l0.7 3.1l0.7 -1.6l0.7 -2.9l0.7 1l0.7 -4.2l0.7 -0.3l0.7 7.7l0.7 -6.9l0.7 6.8l0.7 -5.6l0.7 1.7l0.7 -0.3l0.7 1.4l0.7 2l0.7 4.3l0.7 0.9l0.7 -3.1l0.7 3.9l0.7 -2.6l0.7 -1.3l0.7 5.3l0.7 -7.4l0.7 0.7l0.7 1.8l0.7 1l0.7 2.3l0.7 3.9l0.7 -1.5l0.7 -0l0.7 -3.5l0.7 -2.5l0.7 -1.8l0.7 4.7l0.7 -1.4l0.7 0.6l0.7 2.5l0.7 -1.2l0.7 -0.4l0.7 3.6l0.7 -1.1l0.7 -3.1l0.7 -1.7l0.7 -1.7l0.7 -1.3l0.7 -0.5l0.7 -3.2l0.7 2.2l0.7 1.9l0.7 -0.1l0.7 4.8l0.7 0.2l0.7 -0.7l0.7 -0.4l0.7 2l0.7 0.5l0.7 1.7l0.7 -2.7l0.7 1.5l0.7 -0.3l0.7 -2.5l0.7 2l0.7 -3l0.7 -1.5l0.7 0.4l0.7 1.3l0.7 1.8l0.7 -0.2l0.7 -3.3l0.7 1l0.7 -2.1l0.7 -1.6l0.7 2.7l0.7 6.3l0.7 -2.6l0.7 -7.6l0.7 4.1l0.7 -0.5l0.7 -5.1l0.7 1.4l0.7 3.6l0.7 -2.3l0.7 -0.6l0.7 3.9l0.7 -3.5l0.7 4.6l0.7 -4.8l0.7 1.2l0.7 1.5l0.7 -6.5l0.7 4.7l0.7 -0.7l0.7 4.8l0.7 -3.7l0.7 0.3l0.7 0.8l0.7 2.3l0.7 -2.8l0.7 -2l0.7 1.1l0.7 -0.9l0.7 -3.8l0.7 2.3l0.7 0.4l0.7 -0.5l0.7 4.3l0.7 -3.6l0.7 -2.2l0.7 1.8l0.7 -3.3l0.7 -1.1l0.7 3l0.7 1.5l0.7 -0.2l0.7 -0.7l0.7 -0.8l0.7 -3.5l0.7 -1.8l0.7 2.2l0.7 -3.4l0.7 3.5l0.7 -4l0.7 0.8l0.7 -3.6l0.7 5.2l0.7 4l0.7 -4.3l0.7 3.7l0.7 1.9l0.7 -1.4l0.7 -5.5l0.7 4.6l0.7 -0.2l0.7 -1.4l0.7 -1.8l0.7 1.8l0.7 -2.8l0.7 3.7l0.7 1.7l0.7 0.7l0.7 -4l0.7 -0.9l0.7 -4l0.7 0.8l0.7 -5.7l0.7 -1.7l0.7 1.6l0.7 2.7l0.7 5.1l0.7 -2.7l0.7 2.1l0.7 1.8l0.7 -0.2l0.7 -1.7l0.7 -2.6l0.7 -1.4l0.7 -2.2l0.7 2.7l0.7 -0.7l0.7 3.2l0.7 -2.7l0.7 0.9l0.7 1.4l0.7 -1.9l0.7 1.3l0.7 -2.3l0.7 3.7l0.7 -3.7l0.7 -2l0.7 -1.8l0.7 1.5l0.7 -1.6l0.7 5l0.7 -4.8l0.7 1.2l0.7 1.5l0.7 -3.6l0.7 2.5l0.7 -2.4l0.7 -1.2l0.7 1.6l0.7 -2.6l0.7 -4.4l0.7 4.2l0.7 3.3l0.7 3.5l0.7 -6l0.7 -0.1l0.7 3.5l0.7 3.5l0.7 0.5l0.7 -6.2l0.7 -1.4l0.7 -1.8l0.7 2.9l0.7 2.9l0.7 -1.7l0.7 -0.8l0.7 4l0.7 -0.7l0.7 -2l0.7 0.2l0.7 -4.9l0.7 -1l0.7 -1.8l0.7 6.7l0.7 -1.1l0.7 -2l0.7 1.3l0.7 -0.8l0.7 0.3l0.7 3.3l0.7 4.3l0.7 -1.3l0.7 -2.6l0.7 -3.5l0.7 -1.2l0.7 0.7l0.7 2.4l0.7 -0.1l0.7 -3.4l0.7 1.1l0.7 3.4l0.7 -2.6l0.7 0.4l0.7 -1.1l0.7 3l0.7 -3.7l0.7 5l0.7 -0.3l0.7 -0.5l0.7 -0.4l0.7 0.6l0.7 0.5l0.7 -5.5l0.7 -0.5l0.7 2.1l0.7 0.6l0.7 1.6l0.7 0.7l0.7 -6.6l0.7 -1.8l0.7 1.1l0.7 0.7l0.7 -0.8l0.7 -5.6l0.7 3.6l0.7 0.7l0.7 -0.7l0.7 3.2l0.7 3.6l0.7 -2.8l0.7 -2.1l0.7 2.1l0.7 -1l0.7 2.7l0.7 -0.2l0.7 -6.8l0.7 0.6l0.7 1.2l0.7 -0.2l0.7 4.8l0.7 -2.9l0.7 2.2l0.7 -6.6l0.7 2.1l0.7 -2l0.7 3.4l0.7 1l0.7 -1.3l0.7 -2.8l0.7 0.5l0.7 3.9l0.7 1.8l0.7 3.6l0.7 -5.3l0.7 1.5l0.7 0.3l0.7 -1.6l0.7 -2.6l0.7 0.6l0.7 -2.3l0.7 2.2l0.7 1.4l0.7 4.3l0.7 -6.7l0.7 1.1l0.7 -3.8l0.7 3.6l0.7 -0l0.7 0.8l0.7 -2.4l0.7 -1.3l0.7 0.6l0.7 -1.4l0.7 3.2l0.7 -1.1l0.7 1.7l0.7 -3.9l0.7 -1.7l0.7 -10.4l0.7 11l0.7 1.8l0.7 4.3l0.7 0l0.7 1.7l0.7 -2.6l0.7 -0.3l0.7 -1.1l0.7 0.6l0.7 -1.1l0.7 1.7l0.7 0.6l0.7 0.1l0.7 -2.2l0.7 1.1l0.7 -4l0.7 -1l0.7 2l0.7 -0.2l0.7 1.6l0.7 -1.4l0.7 -2.8l0.7 0.8l0.7 -0.1l0.7 -0.1l0.7 -0.8l0.7 -2.7l0.7 -2.5l0.7 6.1l0.7 -2.7l0.7 3.3l0.7 0.5l0.7 -2.1l0.7 -0.7l0.7 0.1l0.7 0.7l0.7 -0.8l0.7 -0.5l0.7 0.5l0.7 2.9l0.7 -5.5l0.7 -2.2l0.7 1.9l0.7 1.5l0.7 6.5l0.7 -2.1l0.7 0.2l0.7 -0.9l0.7 -4.8l0.7 -2.4l0.7 -0.9l0.7 4.5l0.7 1.3l0.7 -4.1l0.7 -2l0.7 1l0.7 -0.5l0.7 4l0.7 -0.6l0.7 -2.7l0.7 1.8l0.7 2.8l0.7 -1.8l0.7 0.5l0.7 3.7l0.7 -3.6l0.7 -4.7l0.7 -1.8l0.7 8.2l0.7 -2.5l0.7 0.8l0.7 -2.5l0.7 -0.3l0.7 7.3l0.7 -2.1l0.7 -2.9l0.7 4.8l0.7 -0.4l0.7 -3.7l0.7 4l0.7 0.5l0.7 -0.1l0.7 1.2l0.7 1.8l0.7 2.8l0.7 -4.4l0.7 -2.8l0.7 2.3l0.7 -4.5l0.7 4.7l0.7 2.3l0.7 -5.3l0.7 0.3l0.7 -0.2l0.7 -1.2l0.7 0.5l0.7 1.1l0.7 -2.6l0.7 2.2l0.7 0.1l0.7 -1.3l0.7 2.2l0.7 2.2l0.7 0.7l0.7 -2.6l0.7 1.4l0.7 -2.9l0.7 -1.6l0.7 2l0.7 2.5l0.7 -4.8l0.7 2.1l0.7 1.7l0.7 1.2l0.7 2.7l0.7 -2.5l0.7 1.8l0.7 -3.6l0.7 2.1l0.7 1.9l0.7 -2.8l0.7 0.3l0.7 1.9l0.7 -2.4l0.7 0.1l0.7 4.4l0.7 2.4l0.7 -6.7l0.7 -1.2l0.7 0.9l0.7 0.6l0.7 -3.7l0.7 1.5l0.7 5.4l0.7 -0.3l0.7 -0.3l0.7 -2.3l0.7 5.7l0.7 6l0.7 -4.5l0.7 -0.7l0.7 1.4l0.7 1.2l0.7 0.1l0.7 -5l0.7 0.9l0.7 1.5l0.7 0.6l0.7 2.5l0.7 0.6l0.7 -1.2l0.7 0l0.7 3.9l0.7 3.2l0.7 -4.3l0.7 -3.8l0.7 1.4l0.7 -0.8l0.7 1.9l0.7 -0l0.7 -0.2l0.7 1.7l0.7 -0l0.7 1.7l0.7 -3.8l0.7 6.1l0.7 7l0.7 -7.5l0.7 -4.7l0.7 6.5l0.7 -1.7l0.7 -0.1l0.7 0.2l0.7 -3.8l0.7 -1.7l0.7 3.3l0.7 -4.3l0.7 -0.6l0.7 7.9l0.7 -1.5l0.7 0.5l0.7 1l0.7 1.6l0.7 -2.3l0.7 2.4l0.7 -8.5l0.7 3.2l0.7 0.5l0.7 3.7l0.7 2.7l0.7 -2.8l0.7 1.7l0.7 5.4l0.7 -3.7l0.7 -2.9l0.7 7l0.7 -7.2l0.7 0.3l0.7 -1.2l0.7 7.5l0.7 -7.7l0.7 -0l0.7 -2.3l0.7 3.5l0.7 3.3l0.7 -4.5l0.7 -4.1l0.7 8.1l0.7 -5.5l0.7 0.6l0.7 1.4l0.7 -1l0.7 -0.1l0.7 3.5l0.7 -0.7l0.7 0.2l0.7 -0.2l0.7 0.1l0.7 0.9l0.7 1.3l0.7 -4l0.7 1.1l0.7 4l0.7 -1.6l0.7 2.5l0.7 -2.2l0.7 0.2l0.7 2.2l0.7 0.2l0.7 0.6l0.7 -0.2l0.7 -1.9l0.7 -2.3l0.7 1.3l0.7 -0.1l0.7 1.6l0.7 2.8l0.7 0.6l0.7 -0.7l0.7 -0.5l0.7 3.5l0.7 -4.9l0.7 -4.4l0.7 -0.3l0.7 5.8l0.7 1.9l0.7 -4.2l0.7 0.6l0.7 -4.2l0.7 3.8l0.7 4.9l0.7 -1.5l0.7 -2.1l0.7 5.9l0.7 -3.9l0.7 -2l0.7 3.3l0.7 -4.2l0.7 -1.1l0.7 2.4l0.7 1.4l0.7 4.5l0.7 -0l0.7 -3.6l0.7 2.3l0.7 -1l0.7 -0.8l0.7 -1.7l0.7 0.7l0.7 1.3l0.7 -1.7l0.7 0.7l0.7 -2.4l0.7 -0.3l0.7 -1.1l0.7 -2l0.7 -0.6l0.7 4.3l0.7 -0.4l0.7 0.9l0.7 -3.2l0.7 1.9l0.7 0.1l0.7 -0.9l0.7 -3.5l0.7 9.9l0.7 -1.9l0.7 -2.9l0.7 3.3l0.7 1.4l0.7 -6.2l0.7 0.5l0.7 -2.6l0.7 0.5l0.7 3l0.7 -1.8l0.7 4.8l0.7 -1.8l0.7 0.4l0.7 -0.5l0.7 1.4l0.7 -1.4l0.7 1.8l0.7 5.1l0.7 1.5l0.7 0.5l0.7 -0.5l0.7 0.9l0.7 -2.8l0.7 -0.9l0.7 1.1l0.7 2.8l0.7 -7.1l0.7 0.6l0.7 1l0.7 2l0.7 1.8l0.7 -0.6l0.7 -1.6l0.7 1.8l0.7 -2.5l0.7 0.1l0.7 6l0.7 -1.6l0.7 2.8l0.7 0.7l0.7 -8.7l0.7 3.9l0.7 2.2l0.7 2.7l0.7 -5.5l0.7 4.4l0.7 -2.3l0.7 -2.8l0.7 -2.3l0.7 1.2l0.7 3.3l0.7 3.4l0.7 -7.8l0.7 1.9l0.7 0.7l0.7 1.6l0.7 1.8l0.7 -1.4l0.7 -0.1l0.7 -2.8l0.7 -2.3l0.7 1.4l0.7 4.2l0.7 2.7l0.7 -0.2l0.7 -1.1l0.7 -8.6l0.7 5.5l0.7 0.7l0.7 0.3l0.7 0.6l0.7 0.6l0.7 1l0.7 -0.9l0.7 0.7l0.7 -3.2l0.7 1.3l0.7 3.1l0.7 -0.7l0.7 1.9l0.7 -4.6l0.7 -0.9l0.7 1.5l0.7 0.3l0.7 -1.8l0.7 0.1l0.7 -1.3" fill="none" stroke="#000" stroke-width="2.8" />
<path d="M146.9 822.7l0.7 1.5l0.7 2.1l0.7 5.6l0.7 1.6l0.7 -4.4l0.7 -0.4l0.7 -8.3l0.7 11.2l0.7 -4.3l0.7 0.1l0.7 5.5l0.7 -3.9l0.7 3.4l0.7 -7.1l0.7 -0.4l0.7 4l0.7 1.9l0.7 1.3l0.7 4.9l0.7 -2.4l0.7 -3.5l0.7 -5.3l0.7 -0.1l0.7 -0.1l0.7 1.1l0.7 0.4l0.7 3l0.7 -2.4l0.7 -2.3l0.7 3.8l0.7 -2.3l0.7 5.2l0.7 -1.6l0.7 2l0.7 1.6l0.7 -3l0.7 1.2l0.7 -0.4l0.7 -0.8l0.7 1.4l0.7 -3.2l0.7 0.5l0.7 -1.2l0.7 3.6l0.7 -0.4l0.7 -3l0.7 1.7l0.7 2.7l0.7 -3.5l0.7 -2.5l0.7 -0.4l0.7 3.1l0.7 2.3l0.7 3.2l0.7 0.7l0.7 -2.1l0.7 -1.9l0.7 -7l0.7 5.3l0.7 1l0.7 -0.1l0.7 6.6l0.7 -1.5l0.7 -1l0.7 -4l0.7 1.5l0.7 4.4l0.7 -4.3l0.7 -1.2l0.7 -3.8l0.7 -2.1l0.7 0.6l0.7 0.1l0.7 -3.7l0.7 -4.3l0.7 0.1l0.7 -0.8l0.7 6.4l0.7 -1.4l0.7 -2.4l0.7 3.9l0.7 4.1l0.7 -5.5l0.7 -2.3l0.7 1.1l0.7 -2.7l0.7 1.8l0.7 5.1l0.7 1.4l0.7 -0.3l0.7 -6.3l0.7 -4.6l0.7 0l0.7 0.2l0.7 1.6l0.7 1.7l0.7 -4.3l0.7 -0.4l0.7 -4.6l0.7 2.7l0.7 -0.6l0.7 1.1l0.7 -2.7l0.7 1.5l0.7 -1.8l0.7 2.8l0.7 -4.2l0.7 -0.3l0.7 -4.1l0.7 2.7l0.7 4.8l0.7 1.7l0.7 -3.2l0.7 -0.9l0.7 1.4l0.7 -7.7l0.7 -0.6l0.7 1.4l0.7 -0.6l0.7 -5.4l0.7 4.6l0.7 -2.8l0.7 1.9l0.7 0.6l0.7 -0.9l0.7 -0.9l0.7 3.4l0.7 -0.8l0.7 -2.8l0.7 -4.9l0.7 1.6l0.7 0.5l0.7 2.6l0.7 -1.1l0.7 1.5l0.7 -3.7l0.7 3.5l0.7 2.3l0.7 -2.8l0.7 0.9l0.7 -4.4l0.7 1.2l0.7 -1.5l0.7 2.5l0.7 -1.5l0.7 0.6l0.7 -3.4l0.7 -1.1l0.7 1.2l0.7 1.6l0.7 -5.2l0.7 7.1l0.7 -3.7l0.7 -3.3l0.7 -1.9l0.7 1.7l0.7 1.9l0.7 -2l0.7 -1.9l0.7 2.3l0.7 0.7l0.7 2l0.7 1.3l0.7 -1.2l0.7 -4.3l0.7 2.1l0.7 2.7l0.7 -5.7l0.7 0.4l0.7 1.1l0.7 -0.6l0.7 4.6l0.7 0.8l0.7 -4.6l0.7 -2.5l0.7 0.3l0.7 1.8l0.7 0.2l0.7 2.3l0.7 -4.2l0.7 0l0.7 -0.1l0.7 2.3l0.7 -0.5l0.7 3.2l0.7 -5.8l0.7 -3.3l0.7 4.2l0.7 3.9l0.7 -7.1l0.7 3.9l0.7 -0.6l0.7 2.2l0.7 3.7l0.7 -7.5l0.7 4.2l0.7 -0.9l0.7 -1.8l0.7 -4.2l0.7 3.4l0.7 4l0.7 -3.9l0.7 -0.3l0.7 -5.5l0.7 0.6l0.7 -2.2l0.7 2.3l0.7 -1l0.7 -5.3l0.7 5.6l0.7 5.9l0.7 -5.3l0.7 5.8l0.7 -9l0.7 3.8l0.7 4.9l0.7 -6.2l0.7 -1.2l0.7 5.3l0.7 -3.1l0.7 -3.2l0.7 3.6l0.7 6.3l0.7 -3.4l0.7 0.5l0.7 3l0.7 -1.8l0.7 2.4l0.7 -6l0.7 -2.3l0.7 1.7l0.7 -0.6l0.7 -2.4l0.7 -2.4l0.7 2.8l0.7 -3.5l0.7 0.9l0.7 0.5l0.7 6l0.7 -3.7l0.7 -2.5l0.7 3.5l0.7 0l0.7 -5.3l0.7 5.6l0.7 -0.4l0.7 -5.8l0.7 4.9l0.7 0.9l0.7 -3.1l0.7 7.7l0.7 1l0.7 -2.9l0.7 -3.2l0.7 -2.6l0.7 -0.5l0.7 -2.4l0.7 0.3l0.7 13.5l0.7 -6.2l0.7 -0.3l0.7 4.3l0.7 -2.6l0.7 -3.3l0.7 4.3l0.7 -5l0.7 -1.4l0.7 2.2l0.7 -2.1l0.7 0.2l0.7 -0.1l0.7 1.6l0.7 -1.1l0.7 1l0.7 -0.4l0.7 6.8l0.7 -6.1l0.7 -3.2l0.7 3.6l0.7 4.1l0.7 -0.3l0.7 -7.2l0.7 -3.7l0.7 1.5l0.7 2.2l0.7 2.1l0.7 -0.7l0.7 1.3l0.7 -0.1l0.7 -5.9l0.7 4.9l0.7 -0.2l0.7 4.3l0.7 -5.1l0.7 2l0.7 0.7l0.7 9.1l0.7 -4.4l0.7 -3.2l0.7 3l0.7 -8.3l0.7 0.6l0.7 4l0.7 1.2l0.7 -1l0.7 -3.9l0.7 1l0.7 -1.4l0.7 -5.2l0.7 -3.2l0.7 0.7l0.7 3.5l0.7 1.7l0.7 4.1l0.7 -6.2l0.7 -0.8l0.7 0l0.7 -1.1l0.7 -4.5l0.7 7.9l0.7 -5.2l0.7 1.2l0.7 -2.5l0.7 2.1l0.7 5.8l0.7 -3.9l0.7 -0.5l0.7 -6.6l0.7 9.5l0.7 6.5l0.7 -5.9l0.7 -2.3l0.7 3.8l0.7 -1.8l0.7 -1.6l0.7 -3.8l0.7 8.4l0.7 1.6l0.7 -4l0.7 -0.7l0.7 -2.1l0.7 -5.4l0.7 0.2l0.7 4.8l0.7 0.1l0.7 -3.6l0.7 5.3l0.7 1.1l0.7 -4.6l0.7 1.3l0.7 4.8l0.7 -4.1l0.7 2.6l0.7 -2.2l0.7 -1.1l0.7 -1.8l0.7 -1.9l0.7 4.8l0.7 -3.6l0.7 -2.1l0.7 -0.6l0.7 -1.1l0.7 3.7l0.7 5.1l0.7 -1.6l0.7 7.6l0.7 -5.2l0.7 -1.1l0.7 -0.6l0.7 -3l0.7 2.4l0.7 1.6l0.7 -0.2l0.7 -0.3l0.7 -0.7l0.7 2.3l0.7 -7.1l0.7 5.9l0.7 1.2l0.7 -2.2l0.7 -1.8l0.7 7.2l0.7 -2l0.7 0.9l0.7 -1.4l0.7 1.9l0.7 2.3l0.7 1.7l0.7 -4.5l0.7 0.7l0.7 3.6l0.7 -3.1l0.7 1.4l0.7 2.1l0.7 -1.6l0.7 0l0.7 -4l0.7 10l0.7 3.6l0.7 4.4l0.7 -5.5l0.7 -8.4l0.7 4.3l0.7 -1.1l0.7 -8.3l0.7 8.9l0.7 0.9l0.7 -0.6l0.7 -1.9l0.7 3.2l0.7 4l0.7 -1.4l0.7 -3.4l0.7 2.4l0.7 -0.9l0.7 7.2l0.7 -2.7l0.7 6.6l0.7 -0.9l0.7 -0.3l0.7 -3.2l0.7 -0.1l0.7 1.5l0.7 -0.7l0.7 -1.5l0.7 0.3l0.7 1.6l0.7 1l0.7 -0.2l0.7 2.9l0.7 3.5l0.7 -1.7l0.7 1.1l0.7 1.4l0.7 -2.8l0.7 3.2l0.7 -2l0.7 1.6l0.7 -3.1l0.7 -2.2l0.7 0.9l0.7 1.6l0.7 2l0.7 -3l0.7 5.2l0.7 -2.9l0.7 -2.7l0.7 0.8l0.7 0.9l0.7 5.1l0.7 -5.9l0.7 1.5l0.7 2.1l0.7 -3.3l0.7 0.5l0.7 -1.5l0.7 -1l0.7 3.2l0.7 0.7l0.7 5.6l0.7 -0.3l0.7 -4.3l0.7 3.4l0.7 0.1l0.7 -1.8l0.7 -1.3l0.7 -4.6l0.7 7.3l0.7 -4l0.7 3.6l0.7 -1.6l0.7 -0.4l0.7 4.6l0.7 0.5l0.7 -0.7l0.7 5l0.7 -3.2l0.7 2.5l0.7 -2.8l0.7 1.2l0.7 2.3l0.7 0.1l0.7 -0.5l0.7 -2.1l0.7 4l0.7 1.6l0.7 -8l0.7 -5.2l0.7 0l0.7 -1.3l0.7 5.1l0.7 5.4l0.7 3.2l0.7 -6.1l0.7 0.4l0.7 -0.8l0.7 4.8l0.7 -2.9l0.7 -1.8l0.7 -0.2l0.7 4l0.7 -2l0.7 -1.3l0.7 -0.1l0.7 4.2l0.7 0.7l0.7 4.8l0.7 0.9l0.7 -6.3l0.7 -1.9l0.7 7.2l0.7 -1.6l0.7 -2.4l0.7 4.9l0.7 -4.1l0.7 5.1l0.7 -1.8l0.7 -8.1l0.7 9.3l0.7 -4.6l0.7 2.6l0.7 -1.4l0.7 1l0.7 -3.5l0.7 -1.1l0.7 -1.7l0.7 4.8l0.7 1.9l0.7 3.8l0.7 -4.7l0.7 5.8l0.7 -3.9l0.7 -1.5l0.7 -4.4l0.7 4.5l0.7 1l0.7 -2.1l0.7 -0.4l0.7 -1.1l0.7 4.2l0.7 1.7l0.7 -0.2l0.7 -3.9l0.7 -5.2l0.7 6.7l0.7 -1.5l0.7 0.6l0.7 -2.1l0.7 0.8l0.7 -2.3l0.7 -0.6l0.7 1l0.7 -1.6l0.7 -1.6l0.7 6l0.7 -0.7l0.7 1l0.7 -5.6l0.7 1.4l0.7 1.7l0.7 2.5l0.7 4l0.7 -2.8l0.7 1.4l0.7 1.2l0.7 -3.5l0.7 -3.3l0.7 5.1l0.7 4.1l0.7 -2.4l0.7 1.1l0.7 -0.8l0.7 0.1l0.7 2.3l0.7 -0.4l0.7 -4.5l0.7 -1.5l0.7 1.8l0.7 -3.2l0.7 0.6l0.7 4.6l0.7 0.9l0.7 1.8l0.7 -2.1l0.7 -1l0.7 1.8l0.7 0.4l0.7 -4.6l0.7 3.5l0.7 -5.3l0.7 6.6l0.7 -2.4l0.7 -1.5l0.7 -1.4l0.7 1.3l0.7 -0.3l0.7 6.9l0.7 -4.7l0.7 1.8l0.7 -0.3l0.7 -0.2l0.7 -2.4l0.7 1.6l0.7 -0.1l0.7 -0.9l0.7 -4.4l0.7 5.7l0.7 -2l0.7 4l0.7 -1.2l0.7 -1.6l0.7 -3.5l0.7 4.5l0.7 1.7l0.7 -1l0.7 0.4l0.7 -0.1l0.7 0.9l0.7 2.7l0.7 -2.1l0.7 -2.7l0.7 6l0.7 -7.5l0.7 -5.3l0.7 -2.6l0.7 7.4l0.7 3.7l0.7 2.2l0.7 1.3l0.7 -2.5l0.7 0.3l0.7 3.5l0.7 -5.5l0.7 0.2l0.7 2.5l0.7 2.9l0.7 0.2l0.7 -2.5l0.7 0.7l0.7 2.4l0.7 -0.4l0.7 -9.8l0.7 -1.9l0.7 9.1l0.7 6.7l0.7 -0l0.7 2l0.7 -0.1l0.7 -0.3l0.7 -5.2l0.7 -1.3l0.7 1.4l0.7 5.4l0.7 -1.4l0.7 -4.1l0.7 2.2l0.7 -2.4l0.7 3.2l0.7 -1.6l0.7 -0.6l0.7 1.4l0.7 2.5l0.7 -3.3l0.7 -1.8l0.7 -3.9l0.7 4.8l0.7 -0.3l0.7 -5.5l0.7 -2.5l0.7 0.9l0.7 -0.3l0.7 -1.3l0.7 1.5l0.7 5.5l0.7 1.3l0.7 2.8l0.7 -6.8l0.7 1.8l0.7 0.3l0.7 5.6l0.7 2.2l0.7 -3l0.7 -3.9l0.7 0.4l0.7 -4.6l0.7 -0.4l0.7 2.7l0.7 -2.3l0.7 -0.7l0.7 -2.9l0.7 -0.3l0.7 -1" fill="none" stroke="#000" stroke-width="2.8" />
<path d="M146.9 964.4l0.7 -6.9l0.7 0.5l0.7 -2.7l0.7 1.7l0.7 5.8l0.7 2.2l0.7 -4.4l0.7 4.2l0.7 3.6l0.7 -3.7l0.7 0.5l0.7 -1.7l0.7 3.8l0.7 -0.7l0.7 1l0.7 -6.7l0.7 -4.5l0.7 2.2l0.7 -3l0.7 -0.8l0.7 6.4l0.7 -1l0.7 0.2l0.7 1.1l0.7 -6l0.7 6.3l0.7 6.6l0.7 -3.6l0.7 0l0.7 3.7l0.7 -4.4l0.7 -2.9l0.7 2.1l0.7 -2.5l0.7 3.7l0.7 -4.6l0.7 1.2l0.7 -0.1l0.7 -1.3l0.7 -4.3l0.7 5.6l0.7 5.2l0.7 -4.4l0.7 -2.4l0.7 0.3l0.7 -3l0.7 5.1l0.7 -0.3l0.7 -2l0.7 3.6l0.7 -3.2l0.7 7.6l0.7 -0.1l0.7 0.6l0.7 -4.5l0.7 -1.2l0.7 -2.8l0.7 -0.1l0.7 -1l0.7 6.4l0.7 0.4l0.7 -5.8l0.7 -2.6l0.7 0.8l0.7 -4.2l0.7 4.8l0.7 -1.6l0.7 -2.9l0.7 -1.4l0.7 -1.4l0.7 1.1l0.7 -4.1l0.7 -1.1l0.7 -2.5l0.7 -7.9l0.7 2.9l0.7 7.7l0.7 -3l0.7 -4l0.7 1.1l0.7 -7.1l0.7 2.9l0.7 -5.6l0.7 1l0.7 -0.3l0.7 4l0.7 -7l0.7 4.4l0.7 1.5l0.7 -1.2l0.7 -2.2l0.7 -8l0.7 2.3l0.7 0.1l0.7 2.1l0.7 -3.6l0.7 3.9l0.7 -4.2l0.7 -6l0.7 -6.7l0.7 7.2l0.7 -0.1l0.7 1l0.7 -1.3l0.7 1.5l0.7 -0.6l0.7 2l0.7 -0.4l0.7 -1.5l0.7 -1.5l0.7 -0.3l0.7 -0.6l0.7 -3l0.7 0.6l0.7 0.3l0.7 0.2l0.7 -5.3l0.7 3.2l0.7 -1.5l0.7 -3.8l0.7 -0.9l0.7 5.6l0.7 -0.8l0.7 -0.7l0.7 4.1l0.7 1.8l0.7 -4.3l0.7 1l0.7 -3.5l0.7 -0.4l0.7 -3l0.7 4.4l0.7 2l0.7 -5.7l0.7 1.8l0.7 -7l0.7 4.4l0.7 -0.7l0.7 -2.4l0.7 -1.9l0.7 4.4l0.7 -2.2l0.7 2.7l0.7 2l0.7 -1.9l0.7 -5.2l0.7 4.3l0.7 -0.6l0.7 -1.8l0.7 5.3l0.7 -1.4l0.7 -2.8l0.7 -2.6l0.7 0.8l0.7 0.6l0.7 -0.3l0.7 5.3l0.7 2.5l0.7 -2.9l0.7 -2.3l0.7 -8l0.7 4.8l0.7 -2.5l0.7 7l0.7 -1.3l0.7 -3.1l0.7 -2.2l0.7 -1l0.7 -2.9l0.7 1.3l0.7 0.4l0.7 -0.6l0.7 -7.1l0.7 3.5l0.7 0.1l0.7 -1.3l0.7 3.1l0.7 -2.3l0.7 3l0.7 0.2l0.7 3.9l0.7 0.3l0.7 -9l0.7 0.1l0.7 4.5l0.7 2.8l0.7 -2.2l0.7 2.3l0.7 -1.4l0.7 -1.4l0.7 1.4l0.7 -4.8l0.7 2.6l0.7 -0.2l0.7 2.1l0.7 1.6l0.7 -4.2l0.7 -3.6l0.7 -4.5l0.7 2.3l0.7 6.8l0.7 1.8l0.7 -3l0.7 -1.2l0.7 -0.6l0.7 -0.2l0.7 1.2l0.7 2.1l0.7 -2.8l0.7 3.1l0.7 -7.2l0.7 -0.4l0.7 -0.5l0.7 10.3l0.7 -1.7l0.7 -2.3l0.7 -1.3l0.7 -0.7l0.7 -2.9l0.7 1l0.7 2.1l0.7 -0.1l0.7 1.2l0.7 -5.1l0.7 4.1l0.7 5.5l0.7 -5l0.7 3.5l0.7 -2.5l0.7 5.5l0.7 2.9l0.7 -8.5l0.7 -0l0.7 3.1l0.7 0.9l0.7 -5.7l0.7 -3.2l0.7 1l0.7 3.1l0.7 -1.9l0.7 3.6l0.7 1.1l0.7 0.5l0.7 -0.8l0.7 2.8l0.7 -2.4l0.7 -0.9l0.7 -2l0.7 4.5l0.7 -5.2l0.7 3.3l0.7 -3.8l0.7 4.5l0.7 0.2l0.7 -1l0.7 4.2l0.7 -3l0.7 -2.2l0.7 -4.6l0.7 3.7l0.7 -6.2l0.7 -2.3l0.7 3.3l0.7 7l0.7 1.2l0.7 1l0.7 -7.2l0.7 8.7l0.7 0.6l0.7 -6.2l0.7 1.2l0.7 -0.4l0.7 -4.9l0.7 6.1l0.7 1.8l0.7 -4.6l0.7 -1.7l0.7 -1l0.7 3.7l0.7 -2.4l0.7 -1.7l0.7 3.5l0.7 -2.1l0.7 0l0.7 2.7l0.7 -1.5l0.7 3.3l0.7 0.7l0.7 0.3l0.7 6.5l0.7 -3.4l0.7 -1.1l0.7 2.4l0.7 -10l0.7 -1l0.7 -2.5l0.7 4.6l0.7 -0.9l0.7 -0l0.7 0.8l0.7 -0.2l0.7 0.7l0.7 3.7l0.7 -4.4l0.7 -1l0.7 1.2l0.7 -4.7l0.7 4.9l0.7 -1.3l0.7 1.3l0.7 -3.4l0.7 0.6l0.7 4l0.7 -2.9l0.7 3.6l0.7 1.2l0.7 -0.6l0.7 -3.3l0.7 3.5l0.7 1l0.7 -2.6l0.7 0.2l0.7 -6.1l0.7 1.1l0.7 -2.9l0.7 2.1l0.7 4.5l0.7 -2.7l0.7 2.2l0.7 1.5l0.7 -1.6l0.7 -0l0.7 1.3l0.7 0.1l0.7 0l0.7 1.5l0.7 -1.6l0.7 2.6l0.7 2.5l0.7 -2.1l0.7 -1.4l0.7 -2.4l0.7 3.7l0.7 -3l0.7 1.7l0.7 -3.8l0.7 1.4l0.7 -2l0.7 -3.3l0.7 -3.2l0.7 7l0.7 -0.4l0.7 -4.4l0.7 0.7l0.7 2.6l0.7 -0.3l0.7 1.8l0.7 -1.9l0.7 5.9l0.7 -1.5l0.7 5.2l0.7 -2l0.7 -4.7l0.7 -1.3l0.7 1.1l0.7 -4.1l0.7 9l0.7 -3.3l0.7 -4.6l0.7 7.1l0.7 -6.9l0.7 0.1l0.7 5.9l0.7 -1.4l0.7 2.7l0.7 5.3l0.7 0.6l0.7 -3.5l0.7 1.8l0.7 6l0.7 0.2l0.7 3.3l0.7 0.5l0.7 1.1l0.7 2l0.7 -1.7l0.7 2.1l0.7 2.6l0.7 3.3l0.7 4.6l0.7 -5.6l0.7 0.5l0.7 0.3l0.7 3.1l0.7 3l0.7 -5.4l0.7 -0.6l0.7 5l0.7 -4.3l0.7 -1l0.7 1.1l0.7 -0.8l0.7 3.9l0.7 2l0.7 -1l0.7 -1.6l0.7 4.1l0.7 -1.2l0.7 2.2l0.7 -2.7l0.7 -5l0.7 11.8l0.7 2.2l0.7 -2.8l0.7 2.7l0.7 -4.1l0.7 2.6l0.7 5.5l0.7 -5.8l0.7 3l0.7 -2.9l0.7 5.4l0.7 1.2l0.7 2.5l0.7 -1.5l0.7 -2.3l0.7 -1.4l0.7 4.1l0.7 -0.8l0.7 -2.1l0.7 -2.6l0.7 0.1l0.7 6.9l0.7 -0.7l0.7 -1.1l0.7 -2.4l0.7 -2.1l0.7 4.9l0.7 2.6l0.7 5.4l0.7 -8l0.7 1.7l0.7 0.2l0.7 3.5l0.7 0.8l0.7 -2.5l0.7 3.4l0.7 -0.9l0.7 -0.1l0.7 1.6l0.7 3.7l0.7 -2.1l0.7 -2.4l0.7 -3.8l0.7 -3l0.7 -1.1l0.7 7l0.7 0l0.7 0.8l0.7 -2l0.7 -1.8l0.7 2.7l0.7 5.8l0.7 -0.5l0.7 -2.4l0.7 -5.5l0.7 0.5l0.7 1.3l0.7 3.2l0.7 4.8l0.7 -3.4l0.7 1.4l0.7 0.2l0.7 4l0.7 -2.1l0.7 -0.1l0.7 -0.4l0.7 1l0.7 1.2l0.7 2.4l0.7 1.8l0.7 -2l0.7 1.7l0.7 -0.8l0.7 -4l0.7 2.3l0.7 0.8l0.7 -4.6l0.7 0.1l0.7 3.1l0.7 -2.6l0.7 0.8l0.7 -3.3l0.7 1.2l0.7 -2.5l0.7 8l0.7 1.5l0.7 -1.7l0.7 -5.9l0.7 -0.4l0.7 0.1l0.7 2.5l0.7 3.7l0.7 3.3l0.7 -1.9l0.7 -2.8l0.7 -3.2l0.7 -0.5l0.7 -0.8l0.7 5.2l0.7 -5.2l0.7 1.6l0.7 -1.6l0.7 -1.9l0.7 3.6l0.7 -0.5l0.7 2.9l0.7 1.8l0.7 -3.9l0.7 -4.5l0.7 4.8l0.7 2.3l0.7 2.2l0.7 2.9l0.7 -2.7l0.7 -0l0.7 2.8l0.7 -2l0.7 -6.1l0.7 2l0.7 4l0.7 8.3l0.7 0.5l0.7 -3.1l0.7 -8.7l0.7 5.7l0.7 3.5l0.7 -1.5l0.7 -1.8l0.7 -6.5l0.7 -6.7l0.7 1.3l0.7 2.3l0.7 4.2l0.7 -0.1l0.7 2.3l0.7 2.6l0.7 -4.1l0.7 1.4l0.7 1.9l0.7 6.9l0.7 -4.4l0.7 -5.5l0.7 0.9l0.7 -0.8l0.7 7l0.7 0.5l0.7 1l0.7 -0.4l0.7 3.8l0.7 -5.7l0.7 0.6l0.7 -2.4l0.7 -3.1l0.7 3.8l0.7 2.4l0.7 -1.4l0.7 -1.2l0.7 1.4l0.7 0.8l0.7 -4.7l0.7 3.2l0.7 -0.8l0.7 8l0.7 -6.7l0.7 0.1l0.7 -3.9l0.7 1.6l0.7 0.2l0.7 -3.6l0.7 3l0.7 6.3l0.7 -1.6l0.7 -0.4l0.7 -4.7l0.7 -1.8l0.7 -4.8l0.7 -1.5l0.7 3.2l0.7 7l0.7 -1.4l0.7 0.4l0.7 -0.7l0.7 -4.2l0.7 2.2l0.7 -2.7l0.7 3.3l0.7 6.6l0.7 -2.1l0.7 4.9l0.7 -6.6l0.7 -0.6l0.7 1.1l0.7 -5.6l0.7 1.2l0.7 -0.2l0.7 8.2l0.7 0.8l0.7 -0.6l0.7 2l0.7 -2.9l0.7 -7.9l0.7 2.7l0.7 -0.8l0.7 6.4l0.7 -0.7l0.7 -0.4l0.7 -1.8l0.7 -3.2l0.7 0.1l0.7 3.3l0.7 0.6l0.7 3.1l0.7 -4l0.7 -3l0.7 2.7l0.7 -6.4l0.7 4.5l0.7 0.7l0.7 -0.1l0.7 -3.1l0.7 -4l0.7 5.3l0.7 6.2l0.7 1.8l0.7 -4l0.7 3.4l0.7 -5.5l0.7 1.2l0.7 2.5l0.7 -2.1l0.7 -1.5l0.7 -5.9l0.7 4.2l0.7 7.4l0.7 0.5l0.7 -0.6l0.7 -2.4l0.7 -3.1l0.7 2.1l0.7 2.2l0.7 1.7l0.7 1.3l0.7 -3.1l0.7 -3.7l0.7 5.2l0.7 -1.5l0.7 -0l0.7 3.1l0.7 1.1l0.7 -4.3l0.7 -6.2l0.7 4.4l0.7 -3l0.7 -0.8l0.7 3.8l0.7 -1.6l0.7 0.1l0.7 0.9l0.7 -2.6l0.7 1.8l0.7 -1.3l0.7 3.1l0.7 -4.6l0.7 4.6l0.7 0.1l0.7 -2l0.7 -1.8l0.7 -3.1l0.7 -8.4l0.7 0.5l0.7 4.9l0.7 -0.5l0.7 -7l0.7 -2.1l0.7 -1.8l0.7 -3.7l0.7 -1.5l0.7 1.2l0.7 -2.4l0.7 -0.3l0.7 -0.1" fill="none" stroke="#000" stroke-width="2.8" />
<path d="M146.9 1096.6l0.5 -9.2l0.5 13.4l0.5 -10.9l0.5 11.5l0.5 -9.7l0.5 6.2l0.5 -9l0.5 11.3l0.5 -13.2l0.5 12.6l0.5 -12.2l0.5 10.6l0.5 -11.4l0.5 8.1l0.5 -11.4l0.5 12.1l0.5 -9.3l0.5 12.9l0.5 -14.2l0.5 11.8l0.5 -11.7l0.5 14.5l0.5 -10.6l0.5 6.8l0.5 -9.1l0.5 10.3l0.5 -9.4l0.5 6.6l0.5 -16l0.5 17.1l0.5 -6.3l0.5 10.4l0.5 -11.1l0.5 7.2l0.5 -8.8l0.5 12.8l0.5 -19l0.5 13l0.5 -12.1l0.5 15.2l0.5 -10l0.5 9.4l0.5 -9.1l0.5 7.1l0.5 -10.1l0.5 10.3l0.5 -10l0.5 8.5l0.5 -10.1l0.5 11.3l0.5 -8.3l0.5 12.5l0.5 -10l0.5 8.3l0.5 -8.2l0.5 7.9l0.5 -7.5l0.5 8.4l0.5 -10.4l0.5 9.5l0.5 -8.6l0.5 8.7l0.5 -12.6l0.5 8.2l0.5 -5.7l0.5 8.1l0.5 -10.3l0.5 14.3l0.5 -13.8l0.5 8.9l0.5 -10l0.5 7.2l0.5 -6.3l0.5 9.1l0.5 -6.5l0.5 10.5l0.5 -9.3l0.5 10l0.5 -10.6l0.5 8l0.5 -12.7l0.5 14.6l0.5 -9.6l0.5 6.3l0.5 -10.2l0.5 5.8l0.5 -11.6l0.5 7.2l0.5 -11.6l0.5 10.1l0.5 -13.6l0.5 8.7l0.5 -11.7l0.5 6.1l0.5 -12l0.5 5.9l0.5 -10.7l0.5 6.3l0.5 -8.4l0.5 4.4l0.5 -11.4l0.5 8.3l0.5 -10.6l0.5 8.5l0.5 -11.8l0.5 7.5l0.5 -10.9l0.5 12.2l0.5 -13.1l0.5 8.9l0.5 -11.9l0.5 11.4l0.5 -8.5l0.5 5.6l0.5 -9.6l0.5 8.9l0.5 -13.2l0.5 6.8l0.5 -7.6l0.5 7.9l0.5 -10.4l0.5 12.4l0.5 -15.5l0.5 15.5l0.5 -14l0.5 11.5l0.5 -10l0.5 11.3l0.5 -12.6l0.5 9.2l0.5 -13.3l0.5 15.3l0.5 -10.8l0.5 7.4l0.5 -14.3l0.5 15.5l0.5 -10.9l0.5 10.9l0.5 -13l0.5 17.1l0.5 -21.9l0.5 16.7l0.5 -11.8l0.5 9.1l0.5 -6.4l0.5 11.4l0.5 -13l0.5 7.8l0.5 -15.9l0.5 12.4l0.5 -9.8l0.5 9.8l0.5 -8.9l0.5 10.6l0.5 -12.8l0.5 8.6l0.5 -7.7l0.5 10.4l0.5 -8.8l0.5 10.2l0.5 -14.4l0.5 10.9l0.5 -7.8l0.5 7.7l0.5 -7.6l0.5 13.3l0.5 -18l0.5 10.8l0.5 -9.9l0.5 11.2l0.5 -8.4l0.5 9.4l0.5 -12.7l0.5 9.7l0.5 -8.4l0.5 9l0.5 -9.4l0.5 7.1l0.5 -9.7l0.5 9.9l0.5 -11.8l0.5 8.3l0.5 -13.8l0.5 13.7l0.5 -8.7l0.5 10.9l0.5 -14.1l0.5 10.9l0.5 -6l0.5 9.4l0.5 -11.3l0.5 8.8l0.5 -9.5l0.5 13.4l0.5 -12.2l0.5 12.3l0.5 -14.1l0.5 12.6l0.5 -8.9l0.5 10.9l0.5 -12.1l0.5 11.5l0.5 -7.7l0.5 8.5l0.5 -14.7l0.5 10.1l0.5 -8.3l0.5 11l0.5 -13.9l0.5 12.8l0.5 -8.3l0.5 11.9l0.5 -14.1l0.5 11.6l0.5 -10.2l0.5 11.9l0.5 -12.4l0.5 8.8l0.5 -7.3l0.5 8.1l0.5 -9.8l0.5 12.8l0.5 -12.4l0.5 9.2l0.5 -10l0.5 9.8l0.5 -10l0.5 9.7l0.5 -10.4l0.5 11.9l0.5 -12.6l0.5 8.3l0.5 -7.5l0.5 10.1l0.5 -13.3l0.5 14.4l0.5 -10.2l0.5 6.2l0.5 -9.8l0.5 13.3l0.5 -12l0.5 14.8l0.5 -13.5l0.5 11.5l0.5 -10.9l0.5 11.5l0.5 -12.3l0.5 10.3l0.5 -9.5l0.5 9.3l0.5 -9.1l0.5 9.1l0.5 -15.8l0.5 14.9l0.5 -4.9l0.5 10.9l0.5 -11l0.5 9.4l0.5 -9.9l0.5 8l0.5 -13.5l0.5 15l0.5 -14.7l0.5 11.5l0.5 -8.4l0.5 7.4l0.5 -8.9l0.5 9.7l0.5 -9.9l0.5 11.5l0.5 -9.9l0.5 10.6l0.5 -10.3l0.5 9.5l0.5 -11.4l0.5 13.6l0.5 -13.3l0.5 11.7l0.5 -13l0.5 15.9l0.5 -14.1l0.5 8.3l0.5 -8.1l0.5 10.3l0.5 -15.5l0.5 15.3l0.5 -12l0.5 10.1l0.5 -7.1l0.5 9.4l0.5 -10.9l0.5 8.2l0.5 -13.5l0.5 14.4l0.5 -8l0.5 6.9l0.5 -6.5l0.5 17.1l0.5 -16l0.5 8.8l0.5 -10.7l0.5 11.1l0.5 -8.2l0.5 6.3l0.5 -7.3l0.5 7.7l0.5 -6.8l0.5 10.9l0.5 -11.5l0.5 11.7l0.5 -15.9l0.5 12.7l0.5 -18l0.5 17l0.5 -10.9l0.5 11.9l0.5 -13.5l0.5 13.6l0.5 -9l0.5 7.3l0.5 -10.2l0.5 13.3l0.5 -8.1l0.5 10.4l0.5 -12.4l0.5 8.9l0.5 -11.7l0.5 12.9l0.5 -12.2l0.5 10.2l0.5 -9.2l0.5 9.4l0.5 -12.6l0.5 15.8l0.5 -12.7l0.5 10.6l0.5 -14.6l0.5 14.6l0.5 -8.4l0.5 12.6l0.5 -17.6l0.5 16.4l0.5 -14l0.5 16.6l0.5 -12.9l0.5 15.8l0.5 -13.8l0.5 9l0.5 -13.5l0.5 10.8l0.5 -13l0.5 12.4l0.5 -8.7l0.5 15.8l0.5 -18.6l0.5 13.1l0.5 -11.2l0.5 9.9l0.5 -8.8l0.5 8.8l0.5 -6.4l0.5 8.6l0.5 -10.5l0.5 10.3l0.5 -9.3l0.5 6.3l0.5 -11.2l0.5 9.9l0.5 -9.9l0.5 10.4l0.5 -8.2l0.5 13.4l0.5 -14.7l0.5 10.4l0.5 -6.6l0.5 7.9l0.5 -8.4l0.5 8.6l0.5 -9.7l0.5 11.3l0.5 -10.9l0.5 10.7l0.5 -8.6l0.5 9.3l0.5 -9l0.5 7.2l0.5 -8.9l0.5 8.7l0.5 -9.2l0.5 11.9l0.5 -13.5l0.5 15.9l0.5 -12.8l0.5 8.2l0.5 -10.1l0.5 8.6l0.5 -9.9l0.5 15.8l0.5 -12.9l0.5 12.2l0.5 -15.9l0.5 18.6l0.5 -15.2l0.5 15.8l0.5 -12.6l0.5 9.6l0.5 -14.7l0.5 13l0.5 -8.6l0.5 9.5l0.5 -8.3l0.5 11l0.5 -10.1l0.5 12.6l0.5 -17.4l0.5 14.2l0.5 -12.8l0.5 15.7l0.5 -17.7l0.5 11.5l0.5 -10.1l0.5 8.6l0.5 -8l0.5 7.9l0.5 -8.2l0.5 9l0.5 -6.6l0.5 9l0.5 -10l0.5 9.1l0.5 -12l0.5 15.5l0.5 -12.9l0.5 9.9l0.5 -8.8l0.5 6.6l0.5 -7.3l0.5 9.7l0.5 -10.6l0.5 8.3l0.5 -9.5l0.5 11.7l0.5 -14.3l0.5 15.7l0.5 -12.9l0.5 13.1l0.5 -12l0.5 8.9l0.5 -11.3l0.5 20.7l0.5 -15.6l0.5 9.5l0.5 -15.6l0.5 13.9l0.5 -14.1l0.5 14.4l0.5 -8.9l0.5 8l0.5 -9.2l0.5 10.3l0.5 -11.2l0.5 12.2l0.5 -14.3l0.5 16.9l0.5 -12.4l0.5 16.6l0.5 -16.4l0.5 10.4l0.5 -9.3l0.5 12.5l0.5 -14.7l0.5 12.5l0.5 -16.5l0.5 14.9l0.5 -11.4l0.5 15.5l0.5 -15.2l0.5 8.6l0.5 -12.3l0.5 16.3l0.5 -12.4l0.5 10l0.5 -8.2l0.5 9.3l0.5 -7.8l0.5 8l0.5 -9.7l0.5 11.8l0.5 -8.2l0.5 6.8l0.5 -5.8l0.5 10.3l0.5 -10.8l0.5 8.4l0.5 -17.7l0.5 14l0.5 -11l0.5 19.6l0.5 -17.1l0.5 10.8l0.5 -16.1l0.5 15.4l0.5 -6.8l0.5 10.8l0.5 -11.4l0.5 11.3l0.5 -17.3l0.5 15.2l0.5 -9.9l0.5 12.6l0.5 -12.6l0.5 12.2l0.5 -11.7l0.5 10.7l0.5 -12.4l0.5 12.1l0.5 -6.1l0.5 13.8l0.5 -8l0.5 17l0.5 -12.3l0.5 16.1l0.5 -9.2l0.5 10.6l0.5 -8.9l0.5 11l0.5 -7.3l0.5 10.4l0.5 -5.7l0.5 10.9l0.5 -9.3l0.5 12.6l0.5 -7.1l0.5 15.2l0.5 -14.9l0.5 9.8l0.5 -9.8l0.5 9.9l0.5 -10.7l0.5 12.3l0.5 -11.5l0.5 13.8l0.5 -13.1l0.5 12.2l0.5 -12.1l0.5 14.4l0.5 -9.2l0.5 12.8l0.5 -12l0.5 11.2l0.5 -12.2l0.5 13.2l0.5 -11l0.5 10.1l0.5 -11.1l0.5 11.7l0.5 -9.3l0.5 11.1l0.5 -9.5l0.5 8.6l0.5 -10.4l0.5 10.9l0.5 -11.2l0.5 11.5l0.5 -8.4l0.5 12.9l0.5 -13.9l0.5 12.1l0.5 -10.1l0.5 11.9l0.5 -8.3l0.5 7.2l0.5 -8.6l0.5 10l0.5 -8.3l0.5 7.8l0.5 -7l0.5 6.6l0.5 -4.1l0.5 8.2l0.5 -9.7l0.5 9.1l0.5 -8.4l0.5 10.8l0.5 -15.8l0.5 13.9l0.5 -8.9l0.5 15.1l0.5 -18.1l0.5 15.9l0.5 -10.2l0.5 7.5l0.5 -9.5l0.5 14.3l0.5 -10.6l0.5 10.7l0.5 -12.4l0.5 11.4l0.5 -9.3l0.5 9.4l0.5 -6.8l0.5 10.7l0.5 -13.5l0.5 10.2l0.5 -10.7l0.5 13.6l0.5 -12.3l0.5 13.6l0.5 -16.6l0.5 13.2l0.5 -7.6l0.5 10.6l0.5 -12.9l0.5 12.8l0.5 -9.8l0.5 9.6l0.5 -8.8l0.5 10.4l0.5 -11.2l0.5 12.7l0.5 -12l0.5 8.5l0.5 -11.3l0.5 12.6l0.5 -13.1l0.5 12l0.5 -17.1l0.5 16.2l0.5 -10.2l0.5 11.6l0.5 -7.5l0.5 6.3l0.5 -9.8l0.5 7.9l0.5 -6.8l0.5 7.1l0.5 -6.4l0.5 11l0.5 -11.2l0.5 14l0.5 -11.6l0.5 7.8l0.5 -12.2l0.5 13.1l0.5 -10.3l0.5 10.3l0.5 -10.9l0.5 8.6l0.5 -13.2l0.5 13.9l0.5 -13.4l0.5 15.3l0.5 -15.3l0.5 15.1l0.5 -13.7l0.5 14l0.5 -13.7l0.5 10.1l0.5 -9.3l0.5 13.7l0.5 -12.8l0.5 10.5l0.5 -10l0.5 10.7l0.5 -9.1l0.5 10.3l0.5 -8.1l0.5 7.6l0.5 -10.7l0.5 10.5l0.5 -7.4l0.5 7.9l0.5 -6.6l0.5 7.9l0.5 -11.7l0.5 12.9l0.5 -14.3l0.5 13.3l0.5 -10.1l0.5 11.6l0.5 -11.9l0.5 7.3l0.5 -8.3l0.5 7.9l0.5 -9.5l0.5 9.3l0.5 -10.3l0.5 20.1l0.5 -18.7l0.5 9.1l0.5 -7.2l0.5 7.4l0.5 -6.3l0.5 7.5l0.5 -7.5l0.5 13.8l0.5 -15.9l0.5 11.9l0.5 -17.1l0.5 13.4l0.5 -11.4l0.5 10.3l0.5 -10.8l0.5 11.5l0.5 -10.2l0.5 11.1l0.5 -10.5l0.5 10.2l0.5 -11l0.5 14.9l0.5 -12.2l0.5 10.1l0.5 -12.4l0.5 14.9l0.5 -13.2l0.5 8.6l0.5 -8l0.5 7.3l0.5 -9.4l0.5 10.2l0.5 -10.6l0.5 11.4l0.5 -8.3l0.5 6.2l0.5 -11.4l0.5 12.3l0.5 -11.9l0.5 14.6l0.5 -11.2l0.5 7.3l0.5 -10l0.5 9.5l0.5 -7.6l0.5 9.4l0.5 -8l0.5 8.4l0.5 -8l0.5 6.2l0.5 -9.8l0.5 9l0.5 -7.3l0.5 9l0.5 -9.9l0.5 11.6l0.5 -11.8l0.5 11.2l0.5 -10.7l0.5 7.2l0.5 -11l0.5 13.7l0.5 -9.8l0.5 10.7l0.5 -16.2l0.5 16.1l0.5 -9l0.5 11.7l0.5 -11.9l0.5 9.8l0.5 -9.7l0.5 12.5l0.5 -12.2l0.5 12.4l0.5 -11.3l0.5 10.9l0.5 -9.4l0.5 8.3l0.5 -11.4l0.5 14.6l0.5 -16.5l0.5 10l0.5 -6l0.5 8.3l0.5 -7l0.5 11.1l0.5 -9.7l0.5 7.6l0.5 -12.4l0.5 12.7l0.5 -9.1l0.5 10.5l0.5 -16.4l0.5 13.3l0.5 -10.1l0.5 8.8l0.5 -10.1l0.5 14l0.5 -14.6l0.5 11.2l0.5 -9l0.5 8.5l0.5 -7.7l0.5 10.4l0.5 -10.2l0.5 9.5l0.5 -12.6l0.5 9.5l0.5 -8.1l0.5 14.8l0.5 -13.9l0.5 8.7l0.5 -9.9l0.5 7.7l0.5 -7.8l0.5 8.6l0.5 -10.2l0.5 11.5l0.5 -13.9l0.5 12l0.5 -13l0.5 13.7l0.5 -11l0.5 8.9l0.5 -7.5l0.5 6.8l0.5 -6.1l0.5 10.2l0.5 -10.9l0.5 9.4l0.5 -7l0.5 6.7l0.5 -9.3l0.5 11.4l0.5 -12.9l0.5 14.4l0.5 -10.5l0.5 9.7l0.5 -9.7l0.5 15.4l0.5 -17.1l0.5 9.3l0.5 -8.6l0.5 8l0.5 -9.7l0.5 7.2l0.5 -6.5l0.5 9.1l0.5 -12.6l0.5 16.8l0.5 -18.2l0.5 16.2l0.5 -16.7l0.5 11.5l0.5 -8.5l0.5 9.3l0.5 -8l0.5 9.1l0.5 -12l0.5 12.6l0.5 -9.9l0.5 7.3l0.5 -9.2l0.5 11.9l0.5 -13.9l0.5 12.6l0.5 -8.2l0.5 9.9l0.5 -11.9l0.5 7.8l0.5 -6.8l0.5 6.1l0.5 -9.4l0.5 8.2l0.5 -8.2l0.5 10.6l0.5 -8.2l0.5 12.3l0.5 -11.8l0.5 8.7l0.5 -8.3l0.5 6.6l0.5 -6.6l0.5 13.7l0.5 -13.4l0.5 11.8l0.5 -10.7l0.5 8.2l0.5 -11.2l0.5 13.8l0.5 -14.8l0.5 9.2l0.5 -13.4l0.5 15.9l0.5 -10.2l0.5 7.9l0.5 -11.2l0.5 10.7l0.5 -7.2l0.5 6.7l0.5 -8l0.5 10.5l0.5 -11.3l0.5 7.4l0.5 -6.2l0.5 12.1l0.5 -14.9l0.5 9.3l0.5 -11.8l0.5 13.3l0.5 -14.2l0.5 14.7l0.5 -8.8l0.5 8l0.5 -11.8l0.5 13.4l0.5 -15.1l0.5 13.8l0.5 -12.8l0.5 9.6l0.5 -7l0.5 7.6l0.5 -8.2l0.5 12.1l0.5 -15l0.5 13.7l0.5 -9l0.5 16l0.5 -21.8l0.5 17.9l0.5 -16.2l0.5 17.9l0.5 -13.8l0.5 11l0.5 -11.5l0.5 9l0.5 -6.5l0.5 9.2l0.5 -10.2l0.5 8.7l0.5 -8.1l0.5 6.2l0.5 -10.9l0.5 12.9l0.5 -15.5l0.5 11.7l0.5 -7.4l0.5 7.6l0.5 -9l0.5 11.6l0.5 -13l0.5 10.9l0.5 -11.5l0.5 9.6l0.5 -10l0.5 6.2l0.5 -9.9l0.5 4.5l0.5 -10.2l0.5 8.8l0.5 -12.2l0.5 8.8l0.5 -13.8l0.5 12.3l0.5 -12.1l0.5 8.4l0.5 -9l0.5 10.3l0.5 -12.4l0.5 6.8l0.5 -9.2l0.5 5.5l0.5 -10.6l0.5 8.6l0.5 -12.1l0.5 13.6l0.5 -16.7l0.5 9.3l0.5 -15.2l0.5 15.3l0.5 -16.6" fill="none" stroke="#000" stroke-width="2.4" />
<path d="M146.9 1205.9l0.5 -7.8l0.5 9.9l0.5 -8.1l0.5 7.3l0.5 -8.7l0.5 8.4l0.5 -11.3l0.5 12.6l0.5 -16.3l0.5 14.6l0.5 -8.5l0.5 9.4l0.5 -10.1l0.5 8l0.5 -6.2l0.5 10.8l0.5 -14.7l0.5 8.9l0.5 -8.4l0.5 6.1l0.5 -5.6l0.5 8.4l0.5 -9.4l0.5 8.7l0.5 -8.6l0.5 13.3l0.5 -11.9l0.5 12.6l0.5 -12.2l0.5 8.4l0.5 -10.8l0.5 8.7l0.5 -12.3l0.5 12.3l0.5 -8.7l0.5 13.2l0.5 -13.4l0.5 6.4l0.5 -9.2l0.5 9.4l0.5 -5.8l0.5 7.5l0.5 -11l0.5 12.4l0.5 -8.8l0.5 8.3l0.5 -7.2l0.5 12.2l0.5 -10.1l0.5 6.1l0.5 -8.9l0.5 11.5l0.5 -13.7l0.5 13l0.5 -9.2l0.5 7.4l0.5 -8l0.5 12.3l0.5 -11.7l0.5 9.9l0.5 -13.1l0.5 11.9l0.5 -10.4l0.5 8.9l0.5 -10.4l0.5 11.6l0.5 -10.1l0.5 10.1l0.5 -12.7l0.5 13.9l0.5 -11l0.5 12.4l0.5 -12l0.5 7.9l0.5 -11.7l0.5 13.4l0.5 -9.9l0.5 7.7l0.5 -8l0.5 8.4l0.5 -7.5l0.5 4.8l0.5 -10.6l0.5 12.1l0.5 -14.4l0.5 6.5l0.5 -12.8l0.5 3.2l0.5 -13.5l0.5 12.5l0.5 -16.9l0.5 6.7l0.5 -13.3l0.5 5.3l0.5 -10.7l0.5 5.6l0.5 -11.5l0.5 8.5l0.5 -15.7l0.5 10.6l0.5 -12.3l0.5 10.2l0.5 -14l0.5 10.4l0.5 -11.6l0.5 7.8l0.5 -17.7l0.5 10.8l0.5 -7.6l0.5 10.5l0.5 -13.3l0.5 13.7l0.5 -20l0.5 11.3l0.5 -8.2l0.5 14.9l0.5 -14.3l0.5 7.2l0.5 -9l0.5 7.1l0.5 -9.3l0.5 9.5l0.5 -10.1l0.5 7.4l0.5 -13.6l0.5 11.8l0.5 -14.7l0.5 15.5l0.5 -10.2l0.5 6.5l0.5 -10.3l0.5 8.8l0.5 -9.9l0.5 14.5l0.5 -15.7l0.5 10.4l0.5 -6.3l0.5 7.7l0.5 -8.3l0.5 10.6l0.5 -12l0.5 15.6l0.5 -11.6l0.5 8.3l0.5 -6.6l0.5 8.4l0.5 -11.4l0.5 11.1l0.5 -12.3l0.5 9.6l0.5 -8.5l0.5 10.2l0.5 -10.7l0.5 8.6l0.5 -10.9l0.5 12.5l0.5 -10.5l0.5 11.7l0.5 -11.8l0.5 13.9l0.5 -14.1l0.5 12.6l0.5 -12.2l0.5 10.9l0.5 -11.9l0.5 13.5l0.5 -12.3l0.5 11.5l0.5 -10.7l0.5 12.4l0.5 -9.6l0.5 9.4l0.5 -15.9l0.5 14l0.5 -8l0.5 11.6l0.5 -12.3l0.5 8.6l0.5 -7.5l0.5 15.2l0.5 -15.9l0.5 12.5l0.5 -18.6l0.5 13.5l0.5 -8.3l0.5 7.4l0.5 -7.8l0.5 8.7l0.5 -5l0.5 6.2l0.5 -7.3l0.5 8.7l0.5 -9.9l0.5 9.8l0.5 -8l0.5 7.1l0.5 -15.3l0.5 19.2l0.5 -10.9l0.5 10.9l0.5 -13.4l0.5 10.6l0.5 -11.2l0.5 7.3l0.5 -7.2l0.5 14.2l0.5 -17.5l0.5 11.1l0.5 -6.9l0.5 7.4l0.5 -4.5l0.5 6.8l0.5 -7.9l0.5 10.5l0.5 -11.1l0.5 9.3l0.5 -9.9l0.5 7.2l0.5 -10.1l0.5 12.1l0.5 -8.7l0.5 10.8l0.5 -10.1l0.5 6.5l0.5 -7.4l0.5 10.3l0.5 -25.2l0.5 25.4l0.5 -8.9l0.5 16.2l0.5 -17.6l0.5 15.2l0.5 -11l0.5 8.8l0.5 -7l0.5 9.3l0.5 -7.3l0.5 9.7l0.5 -8.4l0.5 9.3l0.5 -13.6l0.5 10.9l0.5 -12.3l0.5 12.1l0.5 -11.6l0.5 10.3l0.5 -8.7l0.5 11.6l0.5 -8.6l0.5 8.5l0.5 -9.4l0.5 7.4l0.5 -12.1l0.5 11.2l0.5 -8.3l0.5 10.3l0.5 -8.1l0.5 11.3l0.5 -9.8l0.5 11.9l0.5 -9.6l0.5 11.6l0.5 -15l0.5 14.7l0.5 -11.4l0.5 9.1l0.5 -9.4l0.5 12.5l0.5 -12.3l0.5 7.1l0.5 -8.5l0.5 9.8l0.5 -10.3l0.5 10.4l0.5 -14.2l0.5 14.1l0.5 -6.7l0.5 9l0.5 -15.3l0.5 14.3l0.5 -13.6l0.5 14.1l0.5 -11.3l0.5 10.3l0.5 -7.4l0.5 7.7l0.5 -11.9l0.5 10.9l0.5 -7.3l0.5 8.7l0.5 -7.4l0.5 7.1l0.5 -7.4l0.5 10.2l0.5 -7.5l0.5 7.8l0.5 -8.7l0.5 9.8l0.5 -7.1l0.5 10.2l0.5 -15.3l0.5 11.8l0.5 -8.8l0.5 11.2l0.5 -9.3l0.5 6.3l0.5 -8.3l0.5 12.4l0.5 -10.4l0.5 9.6l0.5 -13.4l0.5 12.1l0.5 -8.2l0.5 7l0.5 -9.3l0.5 8.4l0.5 -16.1l0.5 23.8l0.5 -15.1l0.5 8.7l0.5 -6.6l0.5 7.7l0.5 -12.1l0.5 11.8l0.5 -6.2l0.5 6.9l0.5 -9.3l0.5 9.4l0.5 -9.6l0.5 10.9l0.5 -8.8l0.5 9.5l0.5 -7.6l0.5 9l0.5 -10.8l0.5 9.7l0.5 -10.1l0.5 9.6l0.5 -13l0.5 13.4l0.5 -9.2l0.5 7l0.5 -8.4l0.5 12.8l0.5 -13.1l0.5 14.7l0.5 -9.1l0.5 10.7l0.5 -11.5l0.5 12.6l0.5 -13.2l0.5 7.3l0.5 -6.7l0.5 9.9l0.5 -9.3l0.5 7.2l0.5 -7.7l0.5 9.9l0.5 -8l0.5 9.6l0.5 -10.9l0.5 12.2l0.5 -9.4l0.5 4.2l0.5 -5.7l0.5 5.9l0.5 -6.5l0.5 9.5l0.5 -9.3l0.5 9.1l0.5 -7.1l0.5 6.4l0.5 -10.1l0.5 11.9l0.5 -12.8l0.5 10.1l0.5 -6.9l0.5 13l0.5 -13l0.5 15.7l0.5 -10l0.5 8.7l0.5 -7.2l0.5 11.8l0.5 -10.6l0.5 6.3l0.5 -10.3l0.5 10.6l0.5 -14l0.5 12.5l0.5 -9.6l0.5 14.1l0.5 -9l0.5 5.7l0.5 -7.6l0.5 11.1l0.5 -9.3l0.5 8.3l0.5 -8.3l0.5 7.2l0.5 -13.6l0.5 16.2l0.5 -11.5l0.5 7.6l0.5 -7.7l0.5 8.2l0.5 -7.5l0.5 8.1l0.5 -6.1l0.5 7l0.5 -10.1l0.5 12.2l0.5 -13.9l0.5 11.8l0.5 -8l0.5 8.9l0.5 -19.2l0.5 15.9l0.5 -7.8l0.5 10.8l0.5 -12.6l0.5 12.7l0.5 -9.4l0.5 12.8l0.5 -13l0.5 8.7l0.5 -8.7l0.5 7.1l0.5 -7.5l0.5 6.7l0.5 -9.9l0.5 10l0.5 -4.7l0.5 7l0.5 -11l0.5 13.2l0.5 -9.1l0.5 9.5l0.5 -11.1l0.5 10.2l0.5 -9.3l0.5 9.5l0.5 -10.2l0.5 9.8l0.5 -9l0.5 13l0.5 -15.5l0.5 12.6l0.5 -9.5l0.5 6.9l0.5 -7.4l0.5 7.3l0.5 -9.9l0.5 14.9l0.5 -12.4l0.5 14.3l0.5 -20.4l0.5 13.5l0.5 -6.7l0.5 8l0.5 -6.5l0.5 8.9l0.5 -11.1l0.5 11.7l0.5 -13.2l0.5 10.8l0.5 -10.8l0.5 11.3l0.5 -11l0.5 11.1l0.5 -8.7l0.5 10.2l0.5 -8.8l0.5 7.3l0.5 -7.6l0.5 9.1l0.5 -10.7l0.5 11.5l0.5 -9.8l0.5 9.5l0.5 -12.5l0.5 9.1l0.5 -9.2l0.5 10.8l0.5 -9.8l0.5 8.6l0.5 -10.5l0.5 8.7l0.5 -7.6l0.5 10.8l0.5 -11.1l0.5 8.5l0.5 -6.2l0.5 7l0.5 -10.1l0.5 11l0.5 -13.4l0.5 13l0.5 -5.5l0.5 6.6l0.5 -6.1l0.5 7l0.5 -9.4l0.5 13.6l0.5 -11.7l0.5 8.7l0.5 -9.5l0.5 8.3l0.5 -9.5l0.5 9.6l0.5 -7.8l0.5 11.7l0.5 -12.3l0.5 8.8l0.5 -11.8l0.5 10.3l0.5 -7.2l0.5 12.8l0.5 -7.9l0.5 15.9l0.5 -4.5l0.5 9.6l0.5 -3.4l0.5 11.3l0.5 -11.5l0.5 16.7l0.5 -7.4l0.5 9.1l0.5 -6.6l0.5 8.5l0.5 -6.3l0.5 10.3l0.5 -5.1l0.5 8.2l0.5 -9.7l0.5 10.8l0.5 -9.3l0.5 12.8l0.5 -8.6l0.5 10.2l0.5 -5l0.5 11l0.5 -12.6l0.5 9.6l0.5 -6.9l0.5 9.1l0.5 -9.8l0.5 15.3l0.5 -16.2l0.5 11l0.5 -11.1l0.5 13.5l0.5 -7.3l0.5 8.6l0.5 -8.2l0.5 8.8l0.5 -12.2l0.5 16.2l0.5 -10.2l0.5 8.1l0.5 -11.3l0.5 13l0.5 -12.4l0.5 15.5l0.5 -10.6l0.5 8.4l0.5 -6.4l0.5 15.1l0.5 -16.3l0.5 10.6l0.5 -10.8l0.5 8l0.5 -9.7l0.5 11.6l0.5 -7.9l0.5 10.7l0.5 -11.3l0.5 10.7l0.5 -8.3l0.5 7.2l0.5 -10.1l0.5 9.9l0.5 -8.5l0.5 10.6l0.5 -8.5l0.5 7.7l0.5 -8.6l0.5 11.7l0.5 -10.4l0.5 7.1l0.5 -7.2l0.5 8.6l0.5 -12.5l0.5 11.4l0.5 -9.5l0.5 11.5l0.5 -12.5l0.5 7.2l0.5 -8.4l0.5 7.8l0.5 -7.7l0.5 7.4l0.5 -6.3l0.5 8.1l0.5 -8l0.5 10.5l0.5 -11.1l0.5 7l0.5 -7.8l0.5 7.8l0.5 -10.3l0.5 10.5l0.5 -10l0.5 10.2l0.5 -7.8l0.5 7.7l0.5 -8.4l0.5 7.4l0.5 -7l0.5 10.3l0.5 -10.8l0.5 13.2l0.5 -15l0.5 10.8l0.5 -10l0.5 15.7l0.5 -14l0.5 9.9l0.5 -10.6l0.5 7.8l0.5 -10.1l0.5 10.6l0.5 -11.6l0.5 11.6l0.5 -10l0.5 8.3l0.5 -7.3l0.5 17.4l0.5 -20.1l0.5 12.1l0.5 -7.9l0.5 7.5l0.5 -12.8l0.5 12.5l0.5 -10.7l0.5 8.7l0.5 -9.6l0.5 8.9l0.5 -7.7l0.5 9.4l0.5 -9.5l0.5 8.6l0.5 -7.4l0.5 7l0.5 -7.8l0.5 6.7l0.5 -9l0.5 8.6l0.5 -4.4l0.5 5.8l0.5 -7.3l0.5 15.3l0.5 -18.4l0.5 14.3l0.5 -12.2l0.5 14.4l0.5 -13.7l0.5 9.3l0.5 -8.6l0.5 14l0.5 -16.4l0.5 11.3l0.5 -10.8l0.5 10.6l0.5 -12.8l0.5 11l0.5 -6.4l0.5 12.2l0.5 -15l0.5 12.9l0.5 -10.9l0.5 8.7l0.5 -12.4l0.5 14.4l0.5 -9.2l0.5 12.4l0.5 -14.6l0.5 10.7l0.5 -10.5l0.5 10.6l0.5 -9.6l0.5 7.2l0.5 -8.2l0.5 8.1l0.5 -8.6l0.5 10.1l0.5 -12.4l0.5 7.4l0.5 -10.5l0.5 12.6l0.5 -8.4l0.5 8.2l0.5 -14.4l0.5 14.8l0.5 -7.4l0.5 9.6l0.5 -12.7l0.5 12.6l0.5 -15.6l0.5 11.5l0.5 -9l0.5 13l0.5 -16.2l0.5 16.6l0.5 -14.2l0.5 10.1l0.5 -13l0.5 14.1l0.5 -10.9l0.5 9.9l0.5 -14.3l0.5 16.8l0.5 -21l0.5 15.1l0.5 -9.1l0.5 8.6l0.5 -7l0.5 7l0.5 -6.7l0.5 7.6l0.5 -9.6l0.5 11l0.5 -13.1l0.5 8.3l0.5 -7.6l0.5 8.7l0.5 -5.9l0.5 10.9l0.5 -12.2l0.5 8.4l0.5 -8.3l0.5 9.1l0.5 -9.1l0.5 8.7l0.5 -11.2l0.5 11.6l0.5 -9.6l0.5 15l0.5 -15l0.5 7.2l0.5 -10.3l0.5 9.7l0.5 -7.3l0.5 7.3l0.5 -11l0.5 9.3l0.5 -7.5l0.5 8.5l0.5 -8.8l0.5 10.6l0.5 -10.4l0.5 9l0.5 -13.3l0.5 13.2l0.5 -8l0.5 7.5l0.5 -14.4l0.5 13l0.5 -7.3l0.5 6.4l0.5 -9.5l0.5 6.9l0.5 -6l0.5 8.3l0.5 -7.6l0.5 11.6l0.5 -10.8l0.5 12l0.5 -12.6l0.5 10.3l0.5 -12.7l0.5 11.3l0.5 -20.4l0.5 20.9l0.5 -8.1l0.5 7.4l0.5 -9.8l0.5 12.1l0.5 -12.9l0.5 10.2l0.5 -8.6l0.5 5.7l0.5 -7.1l0.5 6l0.5 -8.5l0.5 10.5l0.5 -9.2l0.5 6.5l0.5 -6.2l0.5 11.3l0.5 -9.7l0.5 10.7l0.5 -11l0.5 9.3l0.5 -8.9l0.5 9.7l0.5 -8.8l0.5 5.2l0.5 -5.7l0.5 5.6l0.5 -7.1l0.5 10.5l0.5 -7.7l0.5 6.6l0.5 -18.5l0.5 18.4l0.5 -8.8l0.5 8.9l0.5 -11.1l0.5 10.3l0.5 -9.7l0.5 6.7l0.5 -4.3l0.5 7.7l0.5 -8.6l0.5 4.8l0.5 -9.3l0.5 11.1l0.5 -10l0.5 6.8l0.5 -6.7l0.5 5.8l0.5 -9.3l0.5 12.9l0.5 -9.4l0.5 7.9l0.5 -10.9l0.5 12.5l0.5 -8.1l0.5 8.8l0.5 -8.6l0.5 7.7l0.5 -11.5l0.5 13.2l0.5 -12.3l0.5 9l0.5 -5.2l0.5 7.9l0.5 -13.2l0.5 11.9l0.5 -10.2l0.5 8.9l0.5 -8.2l0.5 9.9l0.5 -15.1l0.5 15l0.5 -12.3l0.5 11.8l0.5 -12.6l0.5 8l0.5 -10.7l0.5 13.1l0.5 -9.4l0.5 7.9l0.5 -8.3l0.5 7.7l0.5 -8.5l0.5 9.7l0.5 -9.4l0.5 12.7l0.5 -10.7l0.5 13.5l0.5 -12.7l0.5 10.6l0.5 -9.9l0.5 9.3l0.5 -11.6l0.5 13.7l0.5 -13.4l0.5 7l0.5 -7.2l0.5 6.3l0.5 -9.5l0.5 16l0.5 -12.8l0.5 6.5l0.5 -7.8l0.5 7.5l0.5 -10.3l0.5 12.2l0.5 -11.1l0.5 12.3l0.5 -8.5l0.5 8.5l0.5 -6.8l0.5 5.7l0.5 -7.1l0.5 10l0.5 -11.9l0.5 11.5l0.5 -8.4l0.5 10.8l0.5 -12.3l0.5 7.5l0.5 -9l0.5 10.3l0.5 -12.8l0.5 9.1l0.5 -9l0.5 11.8l0.5 -7.3l0.5 10.8l0.5 -11.2l0.5 11.5l0.5 -14l0.5 10.4l0.5 -11l0.5 12.8l0.5 -9.5l0.5 8.7l0.5 -9.5l0.5 8.2l0.5 -10.6l0.5 9.7l0.5 -14l0.5 12.2l0.5 -5.2l0.5 8.7l0.5 -9.4l0.5 9.3l0.5 -11.3l0.5 9.6l0.5 -12.8l0.5 12.9l0.5 -9.8l0.5 12.1l0.5 -13.8l0.5 12l0.5 -10.1l0.5 10.1l0.5 -12.8l0.5 11l0.5 -9.8l0.5 14.2l0.5 -11.6l0.5 5.9l0.5 -13.1l0.5 7.3l0.5 -12.8l0.5 4.8l0.5 -9.5l0.5 5l0.5 -10.2l0.5 5.8l0.5 -14.9l0.5 11.5l0.5 -12.2l0.5 4.5l0.5 -10l0.5 6.2l0.5 -11.4l0.5 5.3l0.5 -12l0.5 6.2l0.5 -9.5l0.5 11l0.5 -13.9l0.5 4.7l0.5 -10" fill="none" stroke="#000" stroke-width="2.4" />
<path d="M146.9 1321.5l0.5 -18.1l0.5 14.2l0.5 -10.3l0.5 10.8l0.5 -10.9l0.5 13.7l0.5 -10l0.5 10.6l0.5 -19.6l0.5 19.4l0.5 -16.5l0.5 17.7l0.5 -14.8l0.5 14.4l0.5 -10.9l0.5 9.7l0.5 -12.2l0.5 13.9l0.5 -11.5l0.5 7.6l0.5 -8.7l0.5 11.9l0.5 -17.1l0.5 16.2l0.5 -11.8l0.5 15.5l0.5 -20.5l0.5 13l0.5 -4.8l0.5 8.8l0.5 -8.5l0.5 7.8l0.5 -7.1l0.5 10.2l0.5 -10.7l0.5 10.2l0.5 -9l0.5 7.8l0.5 -11.6l0.5 11.3l0.5 -13l0.5 13.9l0.5 -7.2l0.5 7.4l0.5 -8.4l0.5 11.5l0.5 -11.9l0.5 17.4l0.5 -20.6l0.5 15.3l0.5 -10.9l0.5 9.3l0.5 -13.8l0.5 12.2l0.5 -13.1l0.5 12.6l0.5 -9.7l0.5 7l0.5 -12l0.5 14.9l0.5 -10.2l0.5 10.6l0.5 -10.4l0.5 8.5l0.5 -10.4l0.5 12.3l0.5 -14.9l0.5 13.5l0.5 -12.7l0.5 16.3l0.5 -13.4l0.5 8.6l0.5 -11.3l0.5 14.5l0.5 -13l0.5 10.5l0.5 -10.5l0.5 11.6l0.5 -10.9l0.5 19.5l0.5 -19l0.5 9.3l0.5 -13.5l0.5 11.7l0.5 -8.4l0.5 8.4l0.5 -16.6l0.5 6.2l0.5 -19.6l0.5 8.7l0.5 -15.7l0.5 5l0.5 -14.7l0.5 9l0.5 -21.3l0.5 9.2l0.5 -14.2l0.5 6.8l0.5 -11.7l0.5 8.9l0.5 -12.1l0.5 9.4l0.5 -16.3l0.5 13.2l0.5 -10.8l0.5 5.3l0.5 -7.7l0.5 9.7l0.5 -12.7l0.5 8.6l0.5 -13.2l0.5 12.3l0.5 -14.8l0.5 11.1l0.5 -20.1l0.5 21.9l0.5 -16.5l0.5 10.4l0.5 -9.7l0.5 10.4l0.5 -9.7l0.5 10.9l0.5 -14.7l0.5 9.8l0.5 -8.5l0.5 13.6l0.5 -9.5l0.5 10.5l0.5 -9.3l0.5 10l0.5 -15l0.5 12.2l0.5 -10.8l0.5 11.3l0.5 -12.9l0.5 12.1l0.5 -8.4l0.5 9.1l0.5 -8l0.5 10.6l0.5 -13.4l0.5 12.9l0.5 -15.8l0.5 12.8l0.5 -8.1l0.5 14l0.5 -11.6l0.5 9.1l0.5 -9.4l0.5 9.1l0.5 -12.9l0.5 12l0.5 -7.7l0.5 11.6l0.5 -11.2l0.5 12.6l0.5 -13.9l0.5 11.9l0.5 -13.1l0.5 21l0.5 -16.3l0.5 12.3l0.5 -10.2l0.5 10.6l0.5 -13.6l0.5 14.3l0.5 -7.5l0.5 15.4l0.5 -16.6l0.5 14.2l0.5 -10.8l0.5 9.2l0.5 -11.5l0.5 11.4l0.5 -10.7l0.5 12.6l0.5 -11.5l0.5 11.2l0.5 -10.5l0.5 14.1l0.5 -10.7l0.5 13.6l0.5 -13.3l0.5 8.3l0.5 -6.7l0.5 12l0.5 -12.1l0.5 10.8l0.5 -7.5l0.5 8.8l0.5 -11.4l0.5 13.9l0.5 -10.9l0.5 7.4l0.5 -9.9l0.5 12.3l0.5 -11.8l0.5 14l0.5 -12.8l0.5 12.4l0.5 -11.9l0.5 12.3l0.5 -7.5l0.5 8.4l0.5 -6.7l0.5 9.3l0.5 -8l0.5 11l0.5 -9.3l0.5 10.7l0.5 -13.1l0.5 13.8l0.5 -14.9l0.5 11.2l0.5 -13l0.5 14l0.5 -10.2l0.5 9.7l0.5 -8.6l0.5 9l0.5 -11.2l0.5 11.9l0.5 -14.9l0.5 17.7l0.5 -16.2l0.5 15.8l0.5 -9l0.5 14.2l0.5 -14.4l0.5 15.5l0.5 -14.4l0.5 9.3l0.5 -9.1l0.5 6.1l0.5 -6.9l0.5 9.5l0.5 -8.8l0.5 7.6l0.5 -9.7l0.5 9.4l0.5 -12.1l0.5 14.5l0.5 -10.2l0.5 13l0.5 -13.9l0.5 17.9l0.5 -16.4l0.5 14l0.5 -15.8l0.5 15.9l0.5 -12.5l0.5 14.8l0.5 -10.6l0.5 11.7l0.5 -9.1l0.5 14.1l0.5 -13.2l0.5 10.9l0.5 -17.4l0.5 14.3l0.5 -11.5l0.5 10.9l0.5 -8l0.5 11.8l0.5 -13l0.5 8.7l0.5 -15l0.5 22.3l0.5 -15.7l0.5 12.7l0.5 -13.5l0.5 17.2l0.5 -14.2l0.5 10.4l0.5 -8.5l0.5 8.4l0.5 -11.5l0.5 17.1l0.5 -18.9l0.5 15l0.5 -13.5l0.5 17.3l0.5 -12.8l0.5 14.2l0.5 -14l0.5 12.6l0.5 -10.7l0.5 8.2l0.5 -11.4l0.5 11.5l0.5 -7.8l0.5 10.9l0.5 -11.7l0.5 13.5l0.5 -9.3l0.5 11.3l0.5 -10.8l0.5 15l0.5 -16l0.5 12.8l0.5 -14.9l0.5 14.1l0.5 -11.7l0.5 7.1l0.5 -12.3l0.5 11.5l0.5 -8l0.5 12.8l0.5 -12.2l0.5 7.7l0.5 -9.3l0.5 14.8l0.5 -13.9l0.5 12.9l0.5 -13.4l0.5 11.8l0.5 -8.8l0.5 10.1l0.5 -9.7l0.5 7.4l0.5 -8.9l0.5 7.8l0.5 -10l0.5 9.2l0.5 -15l0.5 16.4l0.5 -15.3l0.5 20.5l0.5 -16l0.5 12l0.5 -8.8l0.5 9.5l0.5 -12.1l0.5 10.7l0.5 -7.7l0.5 8.2l0.5 -13.4l0.5 14.1l0.5 -6.2l0.5 15.2l0.5 -15.7l0.5 8.1l0.5 -9.8l0.5 14l0.5 -18.2l0.5 16l0.5 -8.5l0.5 11.3l0.5 -13.3l0.5 13.5l0.5 -10.9l0.5 7.2l0.5 -9.2l0.5 15.3l0.5 -13.1l0.5 9.9l0.5 -12.1l0.5 9.8l0.5 -10.6l0.5 11.5l0.5 -7l0.5 6.9l0.5 -12.7l0.5 11.1l0.5 -9.6l0.5 10.3l0.5 -11.4l0.5 11.3l0.5 -8.5l0.5 10.5l0.5 -10.4l0.5 12l0.5 -13l0.5 15.2l0.5 -13.8l0.5 12.4l0.5 -9.1l0.5 7.1l0.5 -13.1l0.5 16.8l0.5 -11.3l0.5 12.2l0.5 -13.7l0.5 10.8l0.5 -13.7l0.5 14l0.5 -12.3l0.5 11.8l0.5 -15.3l0.5 12.1l0.5 -9.2l0.5 10.5l0.5 -8.5l0.5 8.6l0.5 -9.4l0.5 14.8l0.5 -18.7l0.5 11.8l0.5 -10.2l0.5 14.7l0.5 -11.7l0.5 11.4l0.5 -10.3l0.5 10.3l0.5 -10.7l0.5 10.5l0.5 -11.5l0.5 12.7l0.5 -10.6l0.5 8.2l0.5 -8.9l0.5 9.3l0.5 -14.1l0.5 14.1l0.5 -8.7l0.5 7.8l0.5 -12.3l0.5 10.8l0.5 -12.1l0.5 12.5l0.5 -8.2l0.5 10.5l0.5 -12.5l0.5 9.4l0.5 -7.9l0.5 17.1l0.5 -18.5l0.5 11.5l0.5 -13.2l0.5 12l0.5 -10.3l0.5 10.1l0.5 -8.3l0.5 6.9l0.5 -14l0.5 17l0.5 -9.9l0.5 8.1l0.5 -6.8l0.5 11.1l0.5 -12.2l0.5 10.5l0.5 -10.1l0.5 22.1l0.5 -20.2l0.5 11l0.5 -10.8l0.5 8.5l0.5 -9.6l0.5 7.8l0.5 -8.4l0.5 8.7l0.5 -10.5l0.5 13.4l0.5 -13.2l0.5 9.4l0.5 -9.3l0.5 10.8l0.5 -9.8l0.5 8.8l0.5 -7.1l0.5 10.4l0.5 -10l0.5 9.3l0.5 -18.9l0.5 17.6l0.5 -8.2l0.5 11.7l0.5 -9.2l0.5 8.8l0.5 -6.9l0.5 14.4l0.5 -19.4l0.5 10l0.5 -9.7l0.5 10l0.5 -9.8l0.5 10.8l0.5 -10.7l0.5 15.6l0.5 -15.3l0.5 13l0.5 -9l0.5 9l0.5 -11.1l0.5 14.8l0.5 -12.7l0.5 8.8l0.5 -8.6l0.5 9.8l0.5 -12.4l0.5 10l0.5 -10.7l0.5 10.8l0.5 -9.8l0.5 13.5l0.5 -9.6l0.5 12.3l0.5 -13.2l0.5 8.2l0.5 -7.6l0.5 12.3l0.5 -13.8l0.5 12.7l0.5 -12l0.5 15.4l0.5 -15.7l0.5 11.7l0.5 -11.4l0.5 7.1l0.5 -7.9l0.5 7.9l0.5 -7.8l0.5 10.5l0.5 -11.1l0.5 11l0.5 -14.5l0.5 15.5l0.5 -6.1l0.5 9.6l0.5 -11.6l0.5 16.2l0.5 -5.8l0.5 15.8l0.5 -9.1l0.5 11l0.5 -7.7l0.5 13.1l0.5 -12.5l0.5 14.8l0.5 -8.4l0.5 8.9l0.5 -8.3l0.5 9.6l0.5 -6.8l0.5 12l0.5 -11.1l0.5 11.3l0.5 -7.4l0.5 8l0.5 -6.5l0.5 11l0.5 -10.9l0.5 7.8l0.5 -11.1l0.5 14.1l0.5 -11l0.5 13.1l0.5 -9.2l0.5 10.4l0.5 -9.1l0.5 8.6l0.5 -8.5l0.5 9.6l0.5 -15.3l0.5 16.5l0.5 -7.5l0.5 12.7l0.5 -15.8l0.5 13.9l0.5 -8.3l0.5 9.8l0.5 -8.2l0.5 14l0.5 -21.5l0.5 20.6l0.5 -12.5l0.5 10.5l0.5 -10l0.5 13.6l0.5 -17l0.5 12.1l0.5 -11l0.5 9.3l0.5 -13.4l0.5 8.3l0.5 -9.7l0.5 10l0.5 -11.2l0.5 14.7l0.5 -17.4l0.5 13.6l0.5 -6.4l0.5 11.5l0.5 -10.5l0.5 12.2l0.5 -11.4l0.5 9.7l0.5 -9l0.5 13.5l0.5 -15.9l0.5 13.9l0.5 -13.9l0.5 10.4l0.5 -11.5l0.5 10.9l0.5 -9.2l0.5 10.2l0.5 -12.6l0.5 9.7l0.5 -6.9l0.5 13l0.5 -14.6l0.5 9.7l0.5 -12.6l0.5 8.6l0.5 -6.1l0.5 9.9l0.5 -11.8l0.5 10.3l0.5 -10.9l0.5 9.1l0.5 -11.6l0.5 12.5l0.5 -10.6l0.5 9.6l0.5 -13.3l0.5 11.8l0.5 -12.7l0.5 9.9l0.5 -14.1l0.5 17.7l0.5 -11l0.5 11l0.5 -14.5l0.5 14.9l0.5 -14.8l0.5 9l0.5 -8.2l0.5 10.1l0.5 -10.4l0.5 12.7l0.5 -16.2l0.5 12.1l0.5 -9l0.5 8.1l0.5 -11.1l0.5 10.6l0.5 -13l0.5 11.5l0.5 -9l0.5 6.1l0.5 -6.9l0.5 11.6l0.5 -10.6l0.5 9.4l0.5 -15.5l0.5 11.7l0.5 -12.1l0.5 12.1l0.5 -10.9l0.5 9.4l0.5 -11l0.5 12.9l0.5 -10.4l0.5 7.7l0.5 -10.8l0.5 13.9l0.5 -10.1l0.5 8l0.5 -9.6l0.5 8.1l0.5 -8.5l0.5 10.2l0.5 -9.7l0.5 11.5l0.5 -13.8l0.5 10.8l0.5 -9l0.5 14.4l0.5 -15.3l0.5 10.8l0.5 -12.5l0.5 10.9l0.5 -8.7l0.5 11.9l0.5 -15.2l0.5 13l0.5 -10.6l0.5 8.8l0.5 -8.6l0.5 10.8l0.5 -16.7l0.5 15.2l0.5 -11.2l0.5 9.4l0.5 -10.3l0.5 13.9l0.5 -12.7l0.5 12.7l0.5 -13.8l0.5 16.2l0.5 -13.3l0.5 12.2l0.5 -11.6l0.5 8.4l0.5 -10.7l0.5 10.5l0.5 -9.1l0.5 11.3l0.5 -13.2l0.5 12.4l0.5 -14.3l0.5 10.9l0.5 -13.8l0.5 16.1l0.5 -13.8l0.5 7l0.5 -11.4l0.5 16.6l0.5 -14.8l0.5 9.2l0.5 -7.6l0.5 13.7l0.5 -10.7l0.5 7l0.5 -7.2l0.5 7.6l0.5 -12.7l0.5 14.7l0.5 -16.5l0.5 13.2l0.5 -9.8l0.5 8.6l0.5 -11.7l0.5 9.8l0.5 -10.1l0.5 15.4l0.5 -17.9l0.5 14.7l0.5 -10.7l0.5 13.2l0.5 -14.7l0.5 12.1l0.5 -13.4l0.5 14.4l0.5 -11.8l0.5 11l0.5 -9.2l0.5 8.2l0.5 -10.2l0.5 10.7l0.5 -7.7l0.5 9.7l0.5 -9.8l0.5 10.2l0.5 -11.2l0.5 14l0.5 -13.9l0.5 8.4l0.5 -15.4l0.5 14.4l0.5 -9.2l0.5 10.2l0.5 -12.1l0.5 14.1l0.5 -14.3l0.5 10.7l0.5 -9.7l0.5 10.9l0.5 -14.1l0.5 12.9l0.5 -7.5l0.5 15.5l0.5 -19.3l0.5 14.8l0.5 -12.5l0.5 10.1l0.5 -9.4l0.5 11.6l0.5 -12.9l0.5 13.9l0.5 -16.5l0.5 13.6l0.5 -12.5l0.5 6.5l0.5 -10.2l0.5 11.3l0.5 -9.8l0.5 7.9l0.5 -11.7l0.5 12.5l0.5 -8.5l0.5 7.8l0.5 -7.7l0.5 13.4l0.5 -10.5l0.5 10.9l0.5 -16.9l0.5 13l0.5 -13.4l0.5 12.7l0.5 -10.1l0.5 11l0.5 -10.5l0.5 7.1l0.5 -9l0.5 10.9l0.5 -11.7l0.5 11.5l0.5 -8.8l0.5 8.8l0.5 -11.1l0.5 9.3l0.5 -6.2l0.5 7.9l0.5 -10.9l0.5 15.8l0.5 -15.3l0.5 11.7l0.5 -10.5l0.5 10.3l0.5 -10.6l0.5 10.1l0.5 -14.9l0.5 12.1l0.5 -14.8l0.5 15.1l0.5 -9.7l0.5 12.7l0.5 -13l0.5 11.5l0.5 -11.3l0.5 9.7l0.5 -10.2l0.5 13l0.5 -17.6l0.5 11.5l0.5 -6.7l0.5 9.4l0.5 -10.4l0.5 12.3l0.5 -16.3l0.5 13.8l0.5 -10.1l0.5 8.7l0.5 -8.2l0.5 10.4l0.5 -9.6l0.5 10.9l0.5 -9.2l0.5 9.2l0.5 -12.7l0.5 14.2l0.5 -11l0.5 9.7l0.5 -15.4l0.5 16.4l0.5 -13.4l0.5 13.5l0.5 -12.1l0.5 13.5l0.5 -12.9l0.5 12.6l0.5 -11.6l0.5 9.6l0.5 -8l0.5 9.5l0.5 -14.3l0.5 14.5l0.5 -11.9l0.5 9.7l0.5 -10.9l0.5 10.6l0.5 -10.7l0.5 9.5l0.5 -9.3l0.5 10.6l0.5 -11.5l0.5 10.7l0.5 -18.5l0.5 17.6l0.5 -10.6l0.5 12.6l0.5 -15.1l0.5 15.3l0.5 -11.2l0.5 11l0.5 -11l0.5 9.7l0.5 -9.6l0.5 8.4l0.5 -7.3l0.5 10.8l0.5 -10.6l0.5 9.1l0.5 -8.1l0.5 10.3l0.5 -11.6l0.5 7.1l0.5 -8.5l0.5 8l0.5 -9.5l0.5 11.8l0.5 -10.2l0.5 13.9l0.5 -17.1l0.5 12.3l0.5 -10.3l0.5 14.3l0.5 -10.9l0.5 8.3l0.5 -7.5l0.5 19.2l0.5 -22.2l0.5 17.3l0.5 -16.9l0.5 13.1l0.5 -17.8l0.5 14.6l0.5 -13.8l0.5 11.1l0.5 -16.2l0.5 16.3l0.5 -10.1l0.5 15l0.5 -16.2l0.5 14.8l0.5 -13.6l0.5 12.8l0.5 -12.8l0.5 12.8l0.5 -14.4l0.5 13.8l0.5 -11.6l0.5 15l0.5 -12.5l0.5 9l0.5 -11.2l0.5 10.5l0.5 -8l0.5 8.1l0.5 -11.1l0.5 13.4l0.5 -17.8l0.5 15.1l0.5 -8.1l0.5 6.5l0.5 -7.5l0.5 7.5l0.5 -8.9l0.5 9.2l0.5 -9.2l0.5 9.5l0.5 -9.4l0.5 7.5l0.5 -6.6l0.5 8.4l0.5 -10.8l0.5 12.8l0.5 -10.1l0.5 6.8l0.5 -15l0.5 14.3l0.5 -23.2l0.5 8.8l0.5 -13.4l0.5 10.8l0.5 -17.8l0.5 4.8l0.5 -17l0.5 7.5l0.5 -9l0.5 10.2l0.5 -19.7l0.5 4.9l0.5 -16.3l0.5 9.4l0.5 -15.7" fill="none" stroke="#000" stroke-width="2.4" />
<path d="M146.9 1452.8l0.5 -19.7l0.5 14.7l0.5 -15.5l0.5 18.6l0.5 -13.2l0.5 13.9l0.5 -12.9l0.5 18.9l0.5 -24.4l0.5 40.4l0.5 -37.5l0.5 21.5l0.5 -17.7l0.5 13.3l0.5 -12l0.5 15l0.5 -20.5l0.5 22.3l0.5 -14.9l0.5 12.4l0.5 -14.3l0.5 14.9l0.5 -17.6l0.5 22.1l0.5 -24.6l0.5 22.9l0.5 -19.1l0.5 18.3l0.5 -12.5l0.5 20.7l0.5 -20.8l0.5 14.1l0.5 -20l0.5 21.9l0.5 -16l0.5 14.3l0.5 -17.8l0.5 11.1l0.5 -14.4l0.5 14.1l0.5 -15.4l0.5 17.4l0.5 -18.4l0.5 19.3l0.5 -18.4l0.5 17.4l0.5 -17.7l0.5 13.3l0.5 -13.2l0.5 11.7l0.5 -20.4l0.5 24.3l0.5 -19l0.5 12.1l0.5 -22.8l0.5 28.4l0.5 -25.2l0.5 15.8l0.5 -15.7l0.5 18.5l0.5 -22.9l0.5 24.6l0.5 -10.6l0.5 16.4l0.5 -17.9l0.5 20.2l0.5 -22.6l0.5 15.2l0.5 -15.9l0.5 15.2l0.5 -12.3l0.5 17.1l0.5 -15.1l0.5 13.9l0.5 -20.2l0.5 19.7l0.5 -20.2l0.5 21.6l0.5 -18.9l0.5 20.9l0.5 -23.2l0.5 12.2l0.5 -12.7l0.5 10.9l0.5 -33.9l0.5 32.7l0.5 -40l0.5 7.1l0.5 -31.6l0.5 14l0.5 -34.3l0.5 30.4l0.5 -20.8l0.5 20l0.5 -29l0.5 20.5l0.5 -19.2l0.5 14.8l0.5 -20.9l0.5 12.2l0.5 -16.1l0.5 15.5l0.5 -11.7l0.5 20.5l0.5 -26.9l0.5 31l0.5 -27.1l0.5 21.6l0.5 -17.3l0.5 19.3l0.5 -18.9l0.5 16.9l0.5 -18.8l0.5 14.5l0.5 -12.5l0.5 16.9l0.5 -19l0.5 19.2l0.5 -23.6l0.5 25.4l0.5 -23.3l0.5 16.1l0.5 -13.9l0.5 16.8l0.5 -17.9l0.5 21.2l0.5 -19.1l0.5 24.3l0.5 -21.7l0.5 18.5l0.5 -16.7l0.5 16.7l0.5 -17.2l0.5 21.1l0.5 -15.2l0.5 22.1l0.5 -15.6l0.5 10.6l0.5 -12.6l0.5 16.8l0.5 -11.8l0.5 14l0.5 -13.5l0.5 13l0.5 -17.8l0.5 17.2l0.5 -21.3l0.5 26.9l0.5 -19.1l0.5 22.5l0.5 -17.7l0.5 19l0.5 -20.6l0.5 17.4l0.5 -16.9l0.5 19.6l0.5 -13.8l0.5 27.9l0.5 -24.9l0.5 17l0.5 -16l0.5 22.6l0.5 -22.2l0.5 17l0.5 -10.5l0.5 14.9l0.5 -22.1l0.5 18.9l0.5 -15.5l0.5 21.5l0.5 -19.2l0.5 17.7l0.5 -22.3l0.5 24.2l0.5 -20.6l0.5 18.7l0.5 -12.4l0.5 15.7l0.5 -19.1l0.5 16.9l0.5 -13.4l0.5 19.1l0.5 -24.5l0.5 18.1l0.5 -15.7l0.5 18.6l0.5 -10.5l0.5 19.9l0.5 -20.3l0.5 18.1l0.5 -15.7l0.5 25.7l0.5 -20l0.5 16.1l0.5 -22.2l0.5 22.7l0.5 -16.8l0.5 12.6l0.5 -18.2l0.5 25.7l0.5 -20.1l0.5 17.2l0.5 -19.2l0.5 10.2l0.5 -19.8l0.5 22.3l0.5 -14.8l0.5 13.7l0.5 -17.4l0.5 20.3l0.5 -15.6l0.5 21.6l0.5 -21.3l0.5 20.8l0.5 -18.2l0.5 17.5l0.5 -17.1l0.5 20l0.5 -13.2l0.5 13.4l0.5 -20.7l0.5 15.6l0.5 -14.4l0.5 22.7l0.5 -17.2l0.5 18.1l0.5 -26.4l0.5 20.5l0.5 -11.2l0.5 10.3l0.5 -17.4l0.5 23.8l0.5 -25.4l0.5 20.5l0.5 -14l0.5 13.1l0.5 -11.8l0.5 20.2l0.5 -20.8l0.5 20l0.5 -17.7l0.5 16.9l0.5 -15.7l0.5 14.6l0.5 -20.1l0.5 18.5l0.5 -13.8l0.5 12.1l0.5 -21.9l0.5 19.1l0.5 -14.6l0.5 25.8l0.5 -23.8l0.5 22.4l0.5 -28.1l0.5 16.8l0.5 -11.8l0.5 18.5l0.5 -23l0.5 17.3l0.5 -19.9l0.5 20.2l0.5 -18.2l0.5 25l0.5 -19.1l0.5 15.9l0.5 -14.7l0.5 13.4l0.5 -15.4l0.5 23.7l0.5 -24l0.5 18.4l0.5 -24.1l0.5 27.3l0.5 -19.8l0.5 14.7l0.5 -18l0.5 22.8l0.5 -19.2l0.5 13.3l0.5 -20.6l0.5 25.8l0.5 -21.4l0.5 17.6l0.5 -15.8l0.5 15.8l0.5 -20.8l0.5 28.3l0.5 -24.4l0.5 22.3l0.5 -14.8l0.5 14.5l0.5 -20.7l0.5 30.5l0.5 -32.3l0.5 25.2l0.5 -17.5l0.5 23l0.5 -20.3l0.5 12.2l0.5 -18.9l0.5 21.6l0.5 -21.2l0.5 15.4l0.5 -21.8l0.5 27.7l0.5 -26.1l0.5 24.7l0.5 -19.7l0.5 15.7l0.5 -16.2l0.5 16.8l0.5 -21.5l0.5 22.4l0.5 -14.8l0.5 19l0.5 -21l0.5 18.7l0.5 -21.8l0.5 17.3l0.5 -15.8l0.5 15.5l0.5 -16.2l0.5 15.6l0.5 -14.6l0.5 20.1l0.5 -21.9l0.5 29.6l0.5 -34.1l0.5 24.2l0.5 -20.5l0.5 22.1l0.5 -24.2l0.5 30.1l0.5 -18.8l0.5 17.8l0.5 -15.8l0.5 10.4l0.5 -21.7l0.5 24.4l0.5 -18.9l0.5 24.2l0.5 -25.1l0.5 16.2l0.5 -15.8l0.5 15.7l0.5 -17.5l0.5 15.8l0.5 -14.9l0.5 24.2l0.5 -17.9l0.5 20.4l0.5 -23.5l0.5 16.1l0.5 -14.1l0.5 11.7l0.5 -21.9l0.5 22.3l0.5 -30.5l0.5 42.5l0.5 -30l0.5 23.6l0.5 -18.8l0.5 17.1l0.5 -16.8l0.5 14.8l0.5 -16.3l0.5 18.8l0.5 -16.2l0.5 10.4l0.5 -17.6l0.5 27.4l0.5 -16.4l0.5 15.1l0.5 -23.8l0.5 18l0.5 -15.7l0.5 23.1l0.5 -21.8l0.5 11.6l0.5 -13.2l0.5 23.6l0.5 -27.2l0.5 23.6l0.5 -17l0.5 14.5l0.5 -18.6l0.5 16.9l0.5 -14.7l0.5 16.6l0.5 -20.1l0.5 21.6l0.5 -20.6l0.5 18.4l0.5 -14.8l0.5 17.4l0.5 -18.7l0.5 19.3l0.5 -28.9l0.5 26.4l0.5 -22.2l0.5 15l0.5 -12.8l0.5 21.7l0.5 -21.7l0.5 21.1l0.5 -17.4l0.5 18.4l0.5 -19.5l0.5 23l0.5 -30.3l0.5 21.2l0.5 -12.3l0.5 15.6l0.5 -12.3l0.5 19.2l0.5 -23.7l0.5 17.2l0.5 -20.7l0.5 19l0.5 -20.3l0.5 17.2l0.5 -21.1l0.5 30.7l0.5 -20.2l0.5 15.4l0.5 -18l0.5 14.6l0.5 -15.7l0.5 24.2l0.5 -20.9l0.5 20l0.5 -20.3l0.5 18.9l0.5 -16.4l0.5 13.6l0.5 -18.3l0.5 19.7l0.5 -21l0.5 26.7l0.5 -23.4l0.5 21.9l0.5 -25.6l0.5 17.4l0.5 -13.3l0.5 20.5l0.5 -26.3l0.5 24.8l0.5 -21.6l0.5 16.7l0.5 -12.4l0.5 17l0.5 -18.1l0.5 24.6l0.5 -27.4l0.5 20.8l0.5 -22.8l0.5 18l0.5 -19.8l0.5 18.8l0.5 -14.7l0.5 19.8l0.5 -13.1l0.5 21.5l0.5 -22.6l0.5 12.4l0.5 -17.4l0.5 18l0.5 -25.3l0.5 21.5l0.5 -16.3l0.5 19.1l0.5 -15.6l0.5 14.6l0.5 -22.6l0.5 23.7l0.5 -20.7l0.5 29.6l0.5 -26.4l0.5 17.1l0.5 -15l0.5 23.6l0.5 -23.2l0.5 15.1l0.5 -13.5l0.5 16.2l0.5 -22.9l0.5 22.2l0.5 -19.4l0.5 15.4l0.5 -14.6l0.5 17l0.5 -16.6l0.5 19.6l0.5 -26.3l0.5 25.2l0.5 -20.7l0.5 17.2l0.5 -18.8l0.5 18.4l0.5 -15.7l0.5 10.7l0.5 -13.6l0.5 13.6l0.5 -13.4l0.5 15.8l0.5 -13.1l0.5 14.1l0.5 -13.9l0.5 20.7l0.5 -14.7l0.5 15l0.5 -15.9l0.5 17.5l0.5 -22.3l0.5 24.3l0.5 -20.2l0.5 34.7l0.5 -21.1l0.5 25.3l0.5 -16.1l0.5 27.1l0.5 -8l0.5 16.2l0.5 -13.2l0.5 16.4l0.5 -9.6l0.5 12.4l0.5 -14.3l0.5 19.8l0.5 -20.6l0.5 19.9l0.5 -12.1l0.5 17l0.5 -28.4l0.5 22.5l0.5 -23l0.5 24l0.5 -16l0.5 18.7l0.5 -22.6l0.5 17.6l0.5 -13.2l0.5 13.6l0.5 -19.2l0.5 14.4l0.5 -14.2l0.5 14.4l0.5 -13.5l0.5 12.1l0.5 -14.3l0.5 14.7l0.5 -17.1l0.5 13l0.5 -14.1l0.5 13.5l0.5 -14.3l0.5 21.8l0.5 -27.3l0.5 18.2l0.5 -11l0.5 16.3l0.5 -19.3l0.5 11.8l0.5 -25.4l0.5 25.4l0.5 -14.3l0.5 21.8l0.5 -21.3l0.5 22.4l0.5 -21.6l0.5 14.2l0.5 -24.1l0.5 23l0.5 -16.1l0.5 21.3l0.5 -23.3l0.5 20.7l0.5 -24.5l0.5 18.4l0.5 -14.5l0.5 20l0.5 -19.6l0.5 16.6l0.5 -22.8l0.5 23.3l0.5 -20l0.5 15.5l0.5 -17.4l0.5 18.2l0.5 -15.5l0.5 17.6l0.5 -17.5l0.5 20.5l0.5 -19.6l0.5 19.1l0.5 -15.6l0.5 18l0.5 -21.2l0.5 17.4l0.5 -17.2l0.5 12.8l0.5 -12.4l0.5 17.9l0.5 -17.9l0.5 10l0.5 -14.2l0.5 18.6l0.5 -14.7l0.5 26.6l0.5 -27.3l0.5 23.7l0.5 -21.1l0.5 17.2l0.5 -22.2l0.5 18l0.5 -21.2l0.5 16.5l0.5 -17.4l0.5 18.7l0.5 -23.7l0.5 28.3l0.5 -20.5l0.5 16l0.5 -13.2l0.5 16l0.5 -18.8l0.5 19.6l0.5 -20l0.5 22l0.5 -29.7l0.5 24.4l0.5 -21.5l0.5 19.5l0.5 -14.1l0.5 12l0.5 -22.8l0.5 25.9l0.5 -17.3l0.5 11.6l0.5 -12.2l0.5 16.9l0.5 -16.1l0.5 22.3l0.5 -19.7l0.5 22.1l0.5 -22l0.5 21.9l0.5 -29l0.5 19l0.5 -21.7l0.5 22.1l0.5 -19l0.5 18.1l0.5 -21.6l0.5 18.5l0.5 -17.7l0.5 19.8l0.5 -19l0.5 16.7l0.5 -18.8l0.5 15.5l0.5 -20.6l0.5 21.6l0.5 -15.1l0.5 22.7l0.5 -21.5l0.5 12.8l0.5 -14l0.5 14.9l0.5 -19.5l0.5 21.4l0.5 -26.5l0.5 23.9l0.5 -17.3l0.5 18.2l0.5 -15.7l0.5 18.1l0.5 -18l0.5 19.9l0.5 -20.7l0.5 18.7l0.5 -18.1l0.5 17.7l0.5 -16.7l0.5 20.4l0.5 -20.1l0.5 20.4l0.5 -18.7l0.5 12.7l0.5 -18.1l0.5 17.3l0.5 -16.2l0.5 21.9l0.5 -25.1l0.5 15.1l0.5 -14.8l0.5 15.3l0.5 -15.6l0.5 14.8l0.5 -16l0.5 16.9l0.5 -17.4l0.5 21.4l0.5 -24.8l0.5 25.3l0.5 -19.7l0.5 27.6l0.5 -29.2l0.5 19.7l0.5 -18.2l0.5 18.8l0.5 -24l0.5 23.4l0.5 -21.8l0.5 20.2l0.5 -21.4l0.5 18.2l0.5 -17.3l0.5 19l0.5 -17.5l0.5 20.5l0.5 -26.5l0.5 29.9l0.5 -24.3l0.5 13.6l0.5 -14.4l0.5 20.6l0.5 -18.4l0.5 21.1l0.5 -26.1l0.5 20.9l0.5 -12.7l0.5 14.9l0.5 -15.9l0.5 12.1l0.5 -16.3l0.5 16.6l0.5 -23.3l0.5 20.7l0.5 -16.6l0.5 20.8l0.5 -14.2l0.5 16.7l0.5 -22.1l0.5 22.6l0.5 -19.6l0.5 17.9l0.5 -17l0.5 19.7l0.5 -22.1l0.5 17.1l0.5 -17.3l0.5 16.8l0.5 -27.5l0.5 19l0.5 -10.2l0.5 16.1l0.5 -18.2l0.5 12.1l0.5 -14.4l0.5 14.4l0.5 -16.8l0.5 19.4l0.5 -18.5l0.5 22.3l0.5 -22.7l0.5 20.3l0.5 -16.4l0.5 15.9l0.5 -25.6l0.5 26.7l0.5 -17.7l0.5 23.8l0.5 -19.7l0.5 16.9l0.5 -19.2l0.5 19.9l0.5 -18.1l0.5 14.5l0.5 -18l0.5 19.9l0.5 -20.6l0.5 21.6l0.5 -20.8l0.5 21.4l0.5 -16.9l0.5 19.9l0.5 -19.7l0.5 14.1l0.5 -17.1l0.5 19l0.5 -20.7l0.5 19l0.5 -14.5l0.5 14.7l0.5 -18.9l0.5 19.1l0.5 -25.6l0.5 23.2l0.5 -15.5l0.5 12.4l0.5 -13.8l0.5 27.4l0.5 -29l0.5 32.7l0.5 -32.2l0.5 21l0.5 -16l0.5 19.2l0.5 -26.7l0.5 16.6l0.5 -17.3l0.5 21.8l0.5 -21.6l0.5 15.1l0.5 -10.9l0.5 13.6l0.5 -16.1l0.5 23.8l0.5 -19.3l0.5 13.4l0.5 -25.3l0.5 27.2l0.5 -17.2l0.5 22.2l0.5 -27l0.5 22.3l0.5 -12.4l0.5 14l0.5 -14l0.5 14.1l0.5 -16.8l0.5 18.2l0.5 -19.3l0.5 17l0.5 -14.2l0.5 18.9l0.5 -21.3l0.5 12.9l0.5 -17.8l0.5 19.1l0.5 -18.2l0.5 23.8l0.5 -22.5l0.5 22.1l0.5 -20.4l0.5 19.2l0.5 -17.3l0.5 17.9l0.5 -17.9l0.5 14.3l0.5 -17.8l0.5 19.8l0.5 -18l0.5 14.9l0.5 -16.3l0.5 17l0.5 -19.6l0.5 20.7l0.5 -13.7l0.5 14.3l0.5 -17.6l0.5 18.9l0.5 -29.2l0.5 21.9l0.5 -22.7l0.5 23.3l0.5 -12.1l0.5 16.7l0.5 -17.2l0.5 22l0.5 -20.6l0.5 15.5l0.5 -17l0.5 15.1l0.5 -16.4l0.5 17.9l0.5 -20.1l0.5 19.5l0.5 -17.9l0.5 17.4l0.5 -27.4l0.5 23.2l0.5 -14.4l0.5 17.2l0.5 -20.9l0.5 19.6l0.5 -17.6l0.5 23.8l0.5 -20.4l0.5 17.1l0.5 -12.6l0.5 11.3l0.5 -13.2l0.5 16.6l0.5 -14.6l0.5 22l0.5 -26.6l0.5 18.8l0.5 -20.5l0.5 21.1l0.5 -13.7l0.5 11.5l0.5 -14.2l0.5 16.2l0.5 -15.9l0.5 16.3l0.5 -16.5l0.5 14.5l0.5 -11.2l0.5 15.9l0.5 -16.4l0.5 15.6l0.5 -16.4l0.5 19.4l0.5 -23.5l0.5 21.4l0.5 -16.5l0.5 13.4l0.5 -13.9l0.5 18.4l0.5 -22l0.5 14.8l0.5 -12l0.5 14.2l0.5 -15.8l0.5 16.8l0.5 -16.3l0.5 15.1l0.5 -17.1l0.5 26.9l0.5 -26.5l0.5 16.7l0.5 -15l0.5 14.2l0.5 -13.8l0.5 17.3l0.5 -20.2l0.5 17.9l0.5 -11l0.5 18.1l0.5 -23l0.5 21.3l0.5 -20.4l0.5 23.7l0.5 -19l0.5 7.8l0.5 -22.6l0.5 15.1l0.5 -33.3l0.5 7.7l0.5 -30.4l0.5 15.7l0.5 -36.4l0.5 12.5l0.5 -20.1l0.5 18.4l0.5 -24.3l0.5 25.7l0.5 -22.9l0.5 16.3l0.5 -18.5l0.5 14.1l0.5 -20.7l0.5 13.6l0.5 -11.9l0.5 10.9l0.5 -18.3" fill="none" stroke="#000" stroke-width="2.4" />
<path d="M146.9 1575.7l0.5 -17.2l0.5 14l0.5 -14l0.5 21.6l0.5 -15.7l0.5 13.8l0.5 -18.6l0.5 15.1l0.5 -28.9l0.5 35.2l0.5 -21.4l0.5 16.2l0.5 -14.8l0.5 15.8l0.5 -19.9l0.5 20.4l0.5 -23.8l0.5 22.8l0.5 -15.5l0.5 15.3l0.5 -16.8l0.5 21.8l0.5 -22.1l0.5 18.5l0.5 -14.8l0.5 17.4l0.5 -21.9l0.5 15.8l0.5 -15.8l0.5 24l0.5 -25.4l0.5 23.2l0.5 -15.4l0.5 15.5l0.5 -13.7l0.5 17.7l0.5 -22.5l0.5 14.4l0.5 -14.3l0.5 16.7l0.5 -14.1l0.5 18.8l0.5 -20.3l0.5 14.3l0.5 -14.4l0.5 18.7l0.5 -24.7l0.5 21.1l0.5 -17.2l0.5 14.3l0.5 -13.9l0.5 18.1l0.5 -18.7l0.5 19.6l0.5 -13.6l0.5 18.9l0.5 -19.3l0.5 17.9l0.5 -21.7l0.5 24.4l0.5 -29.6l0.5 25.8l0.5 -18.9l0.5 16.4l0.5 -20.4l0.5 16.1l0.5 -16.9l0.5 18.1l0.5 -24l0.5 27l0.5 -23.5l0.5 21.2l0.5 -13.7l0.5 12.8l0.5 -19l0.5 15.8l0.5 -17.8l0.5 18.3l0.5 -22l0.5 22.4l0.5 -20.8l0.5 17.1l0.5 -19.5l0.5 21.1l0.5 -56.9l0.5 17.3l0.5 -66.7l0.5 43.3l0.5 -28.6l0.5 5.7l0.5 -21l0.5 24.9l0.5 -31.8l0.5 26.3l0.5 -22.3l0.5 16.3l0.5 -14.3l0.5 19l0.5 -20.9l0.5 29.2l0.5 -28.2l0.5 21.3l0.5 -15.1l0.5 14.5l0.5 -17.4l0.5 25.6l0.5 -19l0.5 17.6l0.5 -12.6l0.5 21.1l0.5 -20.5l0.5 20.6l0.5 -13.3l0.5 15.7l0.5 -15.8l0.5 18l0.5 -16.5l0.5 19.1l0.5 -12.9l0.5 19.9l0.5 -14.8l0.5 24.3l0.5 -21.3l0.5 21.3l0.5 -22.2l0.5 20.4l0.5 -14.2l0.5 15l0.5 -14l0.5 16.2l0.5 -22.3l0.5 26.1l0.5 -16.8l0.5 20.5l0.5 -16.9l0.5 21.7l0.5 -22l0.5 18.6l0.5 -22.6l0.5 20.6l0.5 -18.6l0.5 30.1l0.5 -24.1l0.5 22.3l0.5 -14.4l0.5 20.5l0.5 -18.6l0.5 14.7l0.5 -28.2l0.5 26.5l0.5 -18.3l0.5 17.8l0.5 -21.7l0.5 21.3l0.5 -12.1l0.5 18.5l0.5 -20.4l0.5 24.3l0.5 -22.7l0.5 25.5l0.5 -18.8l0.5 17.2l0.5 -13.3l0.5 14.1l0.5 -11.8l0.5 14.2l0.5 -17.6l0.5 21.4l0.5 -32.7l0.5 26.9l0.5 -14.9l0.5 13.8l0.5 -20.2l0.5 34.4l0.5 -28.5l0.5 16.3l0.5 -19.6l0.5 17.4l0.5 -13.1l0.5 20.6l0.5 -22.8l0.5 24l0.5 -20.2l0.5 16.9l0.5 -25.5l0.5 30.3l0.5 -22.7l0.5 17l0.5 -20.6l0.5 22.4l0.5 -12.1l0.5 15.1l0.5 -18.5l0.5 16.6l0.5 -16l0.5 22.6l0.5 -27.2l0.5 22.9l0.5 -26.2l0.5 21.3l0.5 -12.7l0.5 13.8l0.5 -20.1l0.5 47.8l0.5 -45.9l0.5 20.5l0.5 -20.8l0.5 19.6l0.5 -12.1l0.5 19.5l0.5 -36.1l0.5 27.2l0.5 -15l0.5 21.8l0.5 -22.4l0.5 19.3l0.5 -17.5l0.5 13.4l0.5 -14.5l0.5 13.3l0.5 -13.7l0.5 25.7l0.5 -30.3l0.5 27.6l0.5 -18.4l0.5 21.2l0.5 -20.8l0.5 23.4l0.5 -25.4l0.5 16.3l0.5 -14.3l0.5 16.7l0.5 -18.3l0.5 19.2l0.5 -25l0.5 16.6l0.5 -24.2l0.5 24.4l0.5 -24.1l0.5 25l0.5 -14.6l0.5 18.9l0.5 -15.7l0.5 15.2l0.5 -18.4l0.5 21.7l0.5 -25.6l0.5 25.1l0.5 -22.9l0.5 21.2l0.5 -14.9l0.5 19.9l0.5 -18.8l0.5 15.1l0.5 -14.8l0.5 18.6l0.5 -21.6l0.5 21.6l0.5 -21l0.5 14.9l0.5 -21.9l0.5 28.3l0.5 -21.1l0.5 17.5l0.5 -15.5l0.5 26.7l0.5 -23.6l0.5 10.7l0.5 -16.4l0.5 20l0.5 -19.4l0.5 19.2l0.5 -25.2l0.5 26.4l0.5 -20.6l0.5 18.4l0.5 -20.4l0.5 25.5l0.5 -28.4l0.5 26.2l0.5 -25l0.5 22.1l0.5 -16.6l0.5 14.8l0.5 -20.8l0.5 25.8l0.5 -29.2l0.5 26.8l0.5 -20l0.5 20.1l0.5 -20.9l0.5 21.4l0.5 -22.4l0.5 24.6l0.5 -23.6l0.5 19.7l0.5 -19.1l0.5 17.1l0.5 -12.2l0.5 17.4l0.5 -28.2l0.5 22.7l0.5 -13.4l0.5 15.9l0.5 -17.2l0.5 17.6l0.5 -21.6l0.5 22.2l0.5 -17.8l0.5 10.9l0.5 -16.9l0.5 19.1l0.5 -18.8l0.5 21.1l0.5 -22l0.5 19l0.5 -17.8l0.5 16.9l0.5 -14.6l0.5 16.4l0.5 -28.6l0.5 26.5l0.5 -18.1l0.5 24l0.5 -21.8l0.5 38l0.5 -37.9l0.5 34.1l0.5 -30.2l0.5 13.8l0.5 -20.7l0.5 20l0.5 -17.4l0.5 23l0.5 -24.1l0.5 18.6l0.5 -28.7l0.5 28.9l0.5 -16.7l0.5 12.1l0.5 -14.3l0.5 15.3l0.5 -22l0.5 18.3l0.5 -17.7l0.5 23.3l0.5 -17.8l0.5 26.9l0.5 -24.4l0.5 19.7l0.5 -17.3l0.5 18.8l0.5 -17l0.5 18.2l0.5 -15.9l0.5 17.8l0.5 -21l0.5 16.5l0.5 -19.2l0.5 24.6l0.5 -21.1l0.5 19.8l0.5 -19.5l0.5 21.4l0.5 -22.5l0.5 22.2l0.5 -25.3l0.5 18.7l0.5 -20.6l0.5 26.8l0.5 -22.1l0.5 22.5l0.5 -31.8l0.5 26.6l0.5 -15.4l0.5 17.3l0.5 -24.2l0.5 21.7l0.5 -25.4l0.5 28.1l0.5 -17.2l0.5 19.8l0.5 -17.6l0.5 18.4l0.5 -15.7l0.5 17.5l0.5 -20.6l0.5 25.9l0.5 -28.6l0.5 28l0.5 -37.1l0.5 27.9l0.5 -22.8l0.5 18.7l0.5 -20.8l0.5 27.4l0.5 -25.7l0.5 21.8l0.5 -17.5l0.5 31.5l0.5 -24.2l0.5 15.6l0.5 -20.2l0.5 21.1l0.5 -22.2l0.5 17.9l0.5 -20.2l0.5 35.8l0.5 -32l0.5 15.3l0.5 -20.5l0.5 32l0.5 -34.9l0.5 24.5l0.5 -16.7l0.5 17.1l0.5 -22.9l0.5 19.9l0.5 -17.2l0.5 21.9l0.5 -30l0.5 19.7l0.5 -16.6l0.5 20.1l0.5 -17.7l0.5 16.8l0.5 -19.7l0.5 16.4l0.5 -16.6l0.5 26l0.5 -25.1l0.5 21.7l0.5 -16.4l0.5 16l0.5 -17.2l0.5 22.3l0.5 -26.7l0.5 26.3l0.5 -15.7l0.5 26.3l0.5 -26.3l0.5 20.9l0.5 -20.9l0.5 17.3l0.5 -20.8l0.5 23l0.5 -25.7l0.5 28.5l0.5 -30.4l0.5 31.4l0.5 -28.9l0.5 21.3l0.5 -19.3l0.5 16.8l0.5 -22.2l0.5 15.9l0.5 -13.8l0.5 12.9l0.5 -12.4l0.5 14.2l0.5 -15.6l0.5 17l0.5 -27.8l0.5 27.7l0.5 -28.2l0.5 42.1l0.5 -28.7l0.5 17.4l0.5 -22.4l0.5 24.8l0.5 -24l0.5 20.5l0.5 -17.6l0.5 15.6l0.5 -19.6l0.5 22.9l0.5 -13.2l0.5 16.6l0.5 -17.5l0.5 19.2l0.5 -19.6l0.5 18.1l0.5 -25.5l0.5 19.1l0.5 -14.6l0.5 19.9l0.5 -20.4l0.5 17.2l0.5 -22.7l0.5 22.5l0.5 -14.2l0.5 22l0.5 -25.8l0.5 23.1l0.5 -28.7l0.5 30l0.5 -23l0.5 21.3l0.5 -23.2l0.5 23.3l0.5 -23.6l0.5 27.5l0.5 -24.4l0.5 12.1l0.5 -15.8l0.5 14.9l0.5 -22.3l0.5 23.1l0.5 -23.5l0.5 22.5l0.5 -13.9l0.5 20.8l0.5 -23l0.5 22.3l0.5 -26.4l0.5 41.4l0.5 -15.3l0.5 27.9l0.5 -9l0.5 20.3l0.5 -12.2l0.5 18l0.5 -19.8l0.5 19.3l0.5 -20.1l0.5 18.1l0.5 -15l0.5 24.1l0.5 -20.7l0.5 13.6l0.5 -17.7l0.5 23.3l0.5 -15.2l0.5 20.9l0.5 -26.5l0.5 19.6l0.5 -18.5l0.5 17.2l0.5 -15.7l0.5 11.2l0.5 -13.6l0.5 14.8l0.5 -14.5l0.5 23.6l0.5 -28.3l0.5 25.9l0.5 -24.3l0.5 17.6l0.5 -12.7l0.5 18.2l0.5 -22l0.5 13.2l0.5 -18.5l0.5 14l0.5 -14.4l0.5 13l0.5 -16.5l0.5 18.1l0.5 -17.9l0.5 16.1l0.5 -17.2l0.5 23.9l0.5 -17.2l0.5 12.2l0.5 -22.5l0.5 18.9l0.5 -15.1l0.5 12.2l0.5 -19.1l0.5 25.1l0.5 -22.2l0.5 23.2l0.5 -22.9l0.5 24.4l0.5 -25.3l0.5 22.6l0.5 -23.8l0.5 19.1l0.5 -14.2l0.5 18.1l0.5 -16.9l0.5 12.8l0.5 -18.7l0.5 21.4l0.5 -17.8l0.5 17l0.5 -21.7l0.5 20.7l0.5 -17.6l0.5 23l0.5 -21.2l0.5 22.5l0.5 -26.1l0.5 23.3l0.5 -30.1l0.5 26.5l0.5 -22.5l0.5 22.4l0.5 -17.8l0.5 15.5l0.5 -18.7l0.5 18.4l0.5 -19.6l0.5 18.6l0.5 -21.3l0.5 18.6l0.5 -19.9l0.5 16.6l0.5 -16.1l0.5 14.7l0.5 -14.8l0.5 13.2l0.5 -22.8l0.5 23.4l0.5 -20.5l0.5 26.9l0.5 -25.5l0.5 18l0.5 -13.3l0.5 12.6l0.5 -15.1l0.5 16.8l0.5 -15.9l0.5 19.3l0.5 -34.8l0.5 33.1l0.5 -21.7l0.5 19.5l0.5 -16.6l0.5 14.1l0.5 -18.3l0.5 18.1l0.5 -11.5l0.5 10.2l0.5 -11.3l0.5 13l0.5 -16.8l0.5 15.3l0.5 -12.7l0.5 22.1l0.5 -25.7l0.5 17.9l0.5 -18.6l0.5 20.7l0.5 -22.7l0.5 19l0.5 -12.7l0.5 14.5l0.5 -18.7l0.5 21.8l0.5 -15.2l0.5 18.7l0.5 -20.5l0.5 21.3l0.5 -24.5l0.5 20l0.5 -16.2l0.5 16l0.5 -18.4l0.5 19.5l0.5 -23.5l0.5 17.7l0.5 -32.6l0.5 38.9l0.5 -17.3l0.5 9.7l0.5 -16.5l0.5 15.4l0.5 -15.9l0.5 16.4l0.5 -17.2l0.5 20.1l0.5 -15.6l0.5 17.4l0.5 -19.9l0.5 15.7l0.5 -17.5l0.5 22.5l0.5 -25.2l0.5 27.2l0.5 -26.4l0.5 19.9l0.5 -21.4l0.5 18.7l0.5 -14.4l0.5 16.2l0.5 -22.3l0.5 20.8l0.5 -15.3l0.5 16.3l0.5 -14l0.5 13.8l0.5 -12.3l0.5 18.4l0.5 -17.5l0.5 13.6l0.5 -13.3l0.5 23l0.5 -26.7l0.5 21.8l0.5 -23.9l0.5 17.7l0.5 -22l0.5 26.7l0.5 -26.3l0.5 17l0.5 -12l0.5 19.9l0.5 -25.9l0.5 26.1l0.5 -20.7l0.5 19.1l0.5 -16.4l0.5 23.6l0.5 -28.4l0.5 16.3l0.5 -18.4l0.5 25.8l0.5 -18l0.5 15.8l0.5 -22.2l0.5 23.8l0.5 -26.6l0.5 22.1l0.5 -11.7l0.5 17.2l0.5 -24.5l0.5 22.4l0.5 -20.6l0.5 15.6l0.5 -14l0.5 19.4l0.5 -15.3l0.5 12.1l0.5 -15.6l0.5 21.2l0.5 -20.2l0.5 14.8l0.5 -24.2l0.5 22.8l0.5 -25.6l0.5 28.5l0.5 -20.8l0.5 25.9l0.5 -39.6l0.5 32.7l0.5 -19l0.5 14.3l0.5 -21.6l0.5 19l0.5 -12.6l0.5 14.8l0.5 -14.8l0.5 20.7l0.5 -18l0.5 13.8l0.5 -15.6l0.5 27.1l0.5 -26l0.5 19.6l0.5 -14l0.5 18.1l0.5 -17.1l0.5 18.7l0.5 -19.8l0.5 16.7l0.5 -17.8l0.5 20.6l0.5 -26.9l0.5 29.9l0.5 -23.4l0.5 20.1l0.5 -22.8l0.5 29.5l0.5 -34l0.5 20.5l0.5 -21l0.5 23.9l0.5 -24.4l0.5 22.7l0.5 -16.6l0.5 16l0.5 -10.9l0.5 13.6l0.5 -26.1l0.5 15.5l0.5 -19.1l0.5 24.7l0.5 -18.8l0.5 28.5l0.5 -32.5l0.5 18.2l0.5 -12.5l0.5 18.8l0.5 -19.3l0.5 16.1l0.5 -14l0.5 24.4l0.5 -27.9l0.5 15.9l0.5 -17.4l0.5 26.3l0.5 -20.3l0.5 20.6l0.5 -15.7l0.5 23.8l0.5 -29l0.5 15.6l0.5 -19.7l0.5 33.4l0.5 -29.2l0.5 10.2l0.5 -15.6l0.5 18.6l0.5 -14.2l0.5 18.2l0.5 -19.1l0.5 18l0.5 -20.9l0.5 19.1l0.5 -21.1l0.5 27.3l0.5 -27.7l0.5 20l0.5 -28.3l0.5 27.4l0.5 -18l0.5 16.9l0.5 -17.5l0.5 13.7l0.5 -15.3l0.5 18l0.5 -23.3l0.5 24.7l0.5 -19.1l0.5 23l0.5 -18l0.5 15.5l0.5 -24l0.5 27.6l0.5 -26.7l0.5 18.5l0.5 -13.1l0.5 23.6l0.5 -22.6l0.5 19.2l0.5 -18.5l0.5 13.2l0.5 -19.6l0.5 26.3l0.5 -14.2l0.5 15.1l0.5 -14.2l0.5 12l0.5 -15.4l0.5 15.3l0.5 -18.6l0.5 16.9l0.5 -12.6l0.5 14.9l0.5 -22.2l0.5 19.5l0.5 -18.4l0.5 18.6l0.5 -15.7l0.5 15.7l0.5 -22.8l0.5 19.9l0.5 -18.7l0.5 25.1l0.5 -29.5l0.5 24.7l0.5 -17.6l0.5 19.6l0.5 -15.4l0.5 20.1l0.5 -20.2l0.5 19.1l0.5 -20.9l0.5 18.2l0.5 -23.6l0.5 23.4l0.5 -19.6l0.5 16.3l0.5 -11.6l0.5 10.5l0.5 -17.3l0.5 24.1l0.5 -27.9l0.5 20.4l0.5 -13.2l0.5 19l0.5 -18.1l0.5 19.8l0.5 -20.9l0.5 15.1l0.5 -23.3l0.5 26l0.5 -18.2l0.5 21.8l0.5 -16.8l0.5 22.4l0.5 -23l0.5 16.5l0.5 -12.9l0.5 11.7l0.5 -15.9l0.5 19.6l0.5 -17.8l0.5 14.2l0.5 -14.7l0.5 18l0.5 -20l0.5 35.7l0.5 -38.4l0.5 13.9l0.5 -11.6l0.5 18.2l0.5 -21.3l0.5 16.9l0.5 -13.6l0.5 23.1l0.5 -24.3l0.5 20.6l0.5 -15.7l0.5 18.9l0.5 -21.5l0.5 18.7l0.5 -20.4l0.5 18.4l0.5 -16.5l0.5 14l0.5 -22.2l0.5 25.6l0.5 -22.1l0.5 29.7l0.5 -26.2l0.5 20.8l0.5 -25.2l0.5 24.2l0.5 -14.2l0.5 13.5l0.5 -26.5l0.5 26.3l0.5 -18.5l0.5 17.5l0.5 -20l0.5 14.9" fill="none" stroke="#000" stroke-width="2.4" />
<text x="455.3" y="646.6" font-size="39.3" text-anchor="start" fill="#000" >200 Hz</text>
<text x="455.3" y="774" font-size="39.3" text-anchor="start" fill="#000" >100 Hz</text>
<text x="455.3" y="902.5" font-size="39.3" text-anchor="start" fill="#000" >40 Hz</text>
<text x="455.3" y="1029.4" font-size="39.3" text-anchor="start" fill="#000" >20 Hz</text>
<text x="455.3" y="1157.2" font-size="39.3" text-anchor="start" fill="#000" >10 Hz</text>
<text x="455.3" y="1284.4" font-size="39.3" text-anchor="start" fill="#000" >6 Hz</text>
<text x="455.3" y="1411.6" font-size="39.3" text-anchor="start" fill="#000" >4 Hz</text>
<text x="455.3" y="1540.3" font-size="39.3" text-anchor="start" fill="#000" >2 Hz</text>
<text transform="translate(30 1366.3) rotate(-90)" font-size="31.5" style="white-space:pre">I<tspan font-size="22" dy="8.8">PC</tspan><tspan dy="-8.8"> / nA   ---    </tspan><tspan font-size="32.3">(data offset for clarity)</tspan></text>
<line x1="842.7" y1="908.2" x2="1311.1" y2="908.2" stroke="#c8c8ff" stroke-width="2" />
<line x1="842.7" y1="833.1" x2="1311.1" y2="833.1" stroke="#c8c8ff" stroke-width="2" />
<line x1="842.7" y1="758.1" x2="1311.1" y2="758.1" stroke="#c8c8ff" stroke-width="2" />
<line x1="842.7" y1="683" x2="1311.1" y2="683" stroke="#c8c8ff" stroke-width="2" />
<line x1="848.4" y1="624.8" x2="848.4" y2="981.3" stroke="#c8c8ff" stroke-width="2" stroke-dasharray="2.5 4.5"/>
<line x1="904.8" y1="624.8" x2="904.8" y2="981.3" stroke="#c8c8ff" stroke-width="2" stroke-dasharray="2.5 4.5"/>
<line x1="937.8" y1="624.8" x2="937.8" y2="981.3" stroke="#c8c8ff" stroke-width="2" stroke-dasharray="2.5 4.5"/>
<line x1="961.2" y1="624.8" x2="961.2" y2="981.3" stroke="#c8c8ff" stroke-width="2" stroke-dasharray="2.5 4.5"/>
<line x1="979.4" y1="624.8" x2="979.4" y2="981.3" stroke="#c8c8ff" stroke-width="2" stroke-dasharray="2.5 4.5"/>
<line x1="994.2" y1="624.8" x2="994.2" y2="981.3" stroke="#c8c8ff" stroke-width="2" stroke-dasharray="2.5 4.5"/>
<line x1="1006.8" y1="624.8" x2="1006.8" y2="981.3" stroke="#c8c8ff" stroke-width="2" stroke-dasharray="2.5 4.5"/>
<line x1="1017.6" y1="624.8" x2="1017.6" y2="981.3" stroke="#c8c8ff" stroke-width="2" stroke-dasharray="2.5 4.5"/>
<line x1="1027.2" y1="624.8" x2="1027.2" y2="981.3" stroke="#c8c8ff" stroke-width="2" stroke-dasharray="2.5 4.5"/>
<line x1="1035.8" y1="624.8" x2="1035.8" y2="981.3" stroke="#c8c8ff" stroke-width="2" stroke-dasharray="2.5 4.5"/>
<line x1="1092.2" y1="624.8" x2="1092.2" y2="981.3" stroke="#c8c8ff" stroke-width="2" stroke-dasharray="2.5 4.5"/>
<line x1="1125.2" y1="624.8" x2="1125.2" y2="981.3" stroke="#c8c8ff" stroke-width="2" stroke-dasharray="2.5 4.5"/>
<line x1="1148.6" y1="624.8" x2="1148.6" y2="981.3" stroke="#c8c8ff" stroke-width="2" stroke-dasharray="2.5 4.5"/>
<line x1="1166.8" y1="624.8" x2="1166.8" y2="981.3" stroke="#c8c8ff" stroke-width="2" stroke-dasharray="2.5 4.5"/>
<line x1="1181.6" y1="624.8" x2="1181.6" y2="981.3" stroke="#c8c8ff" stroke-width="2" stroke-dasharray="2.5 4.5"/>
<line x1="1194.2" y1="624.8" x2="1194.2" y2="981.3" stroke="#c8c8ff" stroke-width="2" stroke-dasharray="2.5 4.5"/>
<line x1="1205" y1="624.8" x2="1205" y2="981.3" stroke="#c8c8ff" stroke-width="2" stroke-dasharray="2.5 4.5"/>
<line x1="1214.6" y1="624.8" x2="1214.6" y2="981.3" stroke="#c8c8ff" stroke-width="2" stroke-dasharray="2.5 4.5"/>
<line x1="1223.2" y1="624.8" x2="1223.2" y2="981.3" stroke="#c8c8ff" stroke-width="2" stroke-dasharray="2.5 4.5"/>
<line x1="1279.6" y1="624.8" x2="1279.6" y2="981.3" stroke="#c8c8ff" stroke-width="2" stroke-dasharray="2.5 4.5"/>
<rect x="841.2" y="622.8" width="471.39999999999986" height="360.5" fill="none" stroke="#000" stroke-width="2.8"/>
<line x1="818" y1="983.3" x2="841.2" y2="983.3" stroke="#000" stroke-width="2.8" />
<line x1="1312.6" y1="983.3" x2="1335.5" y2="983.3" stroke="#000" stroke-width="2.8" />
<text x="805.5" y="994.3" font-size="31" text-anchor="end" fill="#000" >0</text>
<line x1="818" y1="908.2" x2="841.2" y2="908.2" stroke="#000" stroke-width="2.8" />
<line x1="1312.6" y1="908.2" x2="1335.5" y2="908.2" stroke="#000" stroke-width="2.8" />
<text x="805.5" y="919.2" font-size="31" text-anchor="end" fill="#000" >50</text>
<line x1="818" y1="833.1" x2="841.2" y2="833.1" stroke="#000" stroke-width="2.8" />
<line x1="1312.6" y1="833.1" x2="1335.5" y2="833.1" stroke="#000" stroke-width="2.8" />
<text x="805.5" y="844.1" font-size="31" text-anchor="end" fill="#000" >100</text>
<line x1="818" y1="758.1" x2="841.2" y2="758.1" stroke="#000" stroke-width="2.8" />
<line x1="1312.6" y1="758.1" x2="1335.5" y2="758.1" stroke="#000" stroke-width="2.8" />
<text x="805.5" y="769.1" font-size="31" text-anchor="end" fill="#000" >150</text>
<line x1="818" y1="683" x2="841.2" y2="683" stroke="#000" stroke-width="2.8" />
<line x1="1312.6" y1="683" x2="1335.5" y2="683" stroke="#000" stroke-width="2.8" />
<text x="805.5" y="694" font-size="31" text-anchor="end" fill="#000" >200</text>
<line x1="1312.6" y1="983.3" x2="1335.5" y2="983.3" stroke="#000" stroke-width="2.8" />
<line x1="841.2" y1="622.8" x2="841.2" y2="612.3" stroke="#000" stroke-width="2.8" />
<line x1="841.2" y1="983.3" x2="841.2" y2="995.3" stroke="#000" stroke-width="2.8" />
<line x1="848.4" y1="622.8" x2="848.4" y2="600.8" stroke="#000" stroke-width="2.8" />
<line x1="848.4" y1="983.3" x2="848.4" y2="1006.3" stroke="#000" stroke-width="2.8" />
<line x1="904.8" y1="622.8" x2="904.8" y2="612.3" stroke="#000" stroke-width="2.8" />
<line x1="904.8" y1="983.3" x2="904.8" y2="995.3" stroke="#000" stroke-width="2.8" />
<line x1="937.8" y1="622.8" x2="937.8" y2="612.3" stroke="#000" stroke-width="2.8" />
<line x1="937.8" y1="983.3" x2="937.8" y2="995.3" stroke="#000" stroke-width="2.8" />
<line x1="961.2" y1="622.8" x2="961.2" y2="612.3" stroke="#000" stroke-width="2.8" />
<line x1="961.2" y1="983.3" x2="961.2" y2="995.3" stroke="#000" stroke-width="2.8" />
<line x1="979.4" y1="622.8" x2="979.4" y2="612.3" stroke="#000" stroke-width="2.8" />
<line x1="979.4" y1="983.3" x2="979.4" y2="995.3" stroke="#000" stroke-width="2.8" />
<line x1="994.2" y1="622.8" x2="994.2" y2="612.3" stroke="#000" stroke-width="2.8" />
<line x1="994.2" y1="983.3" x2="994.2" y2="995.3" stroke="#000" stroke-width="2.8" />
<line x1="1006.8" y1="622.8" x2="1006.8" y2="612.3" stroke="#000" stroke-width="2.8" />
<line x1="1006.8" y1="983.3" x2="1006.8" y2="995.3" stroke="#000" stroke-width="2.8" />
<line x1="1017.6" y1="622.8" x2="1017.6" y2="612.3" stroke="#000" stroke-width="2.8" />
<line x1="1017.6" y1="983.3" x2="1017.6" y2="995.3" stroke="#000" stroke-width="2.8" />
<line x1="1027.2" y1="622.8" x2="1027.2" y2="612.3" stroke="#000" stroke-width="2.8" />
<line x1="1027.2" y1="983.3" x2="1027.2" y2="995.3" stroke="#000" stroke-width="2.8" />
<line x1="1035.8" y1="622.8" x2="1035.8" y2="600.8" stroke="#000" stroke-width="2.8" />
<line x1="1035.8" y1="983.3" x2="1035.8" y2="1006.3" stroke="#000" stroke-width="2.8" />
<line x1="1092.2" y1="622.8" x2="1092.2" y2="612.3" stroke="#000" stroke-width="2.8" />
<line x1="1092.2" y1="983.3" x2="1092.2" y2="995.3" stroke="#000" stroke-width="2.8" />
<line x1="1125.2" y1="622.8" x2="1125.2" y2="612.3" stroke="#000" stroke-width="2.8" />
<line x1="1125.2" y1="983.3" x2="1125.2" y2="995.3" stroke="#000" stroke-width="2.8" />
<line x1="1148.6" y1="622.8" x2="1148.6" y2="612.3" stroke="#000" stroke-width="2.8" />
<line x1="1148.6" y1="983.3" x2="1148.6" y2="995.3" stroke="#000" stroke-width="2.8" />
<line x1="1166.8" y1="622.8" x2="1166.8" y2="612.3" stroke="#000" stroke-width="2.8" />
<line x1="1166.8" y1="983.3" x2="1166.8" y2="995.3" stroke="#000" stroke-width="2.8" />
<line x1="1181.6" y1="622.8" x2="1181.6" y2="612.3" stroke="#000" stroke-width="2.8" />
<line x1="1181.6" y1="983.3" x2="1181.6" y2="995.3" stroke="#000" stroke-width="2.8" />
<line x1="1194.2" y1="622.8" x2="1194.2" y2="612.3" stroke="#000" stroke-width="2.8" />
<line x1="1194.2" y1="983.3" x2="1194.2" y2="995.3" stroke="#000" stroke-width="2.8" />
<line x1="1205" y1="622.8" x2="1205" y2="612.3" stroke="#000" stroke-width="2.8" />
<line x1="1205" y1="983.3" x2="1205" y2="995.3" stroke="#000" stroke-width="2.8" />
<line x1="1214.6" y1="622.8" x2="1214.6" y2="612.3" stroke="#000" stroke-width="2.8" />
<line x1="1214.6" y1="983.3" x2="1214.6" y2="995.3" stroke="#000" stroke-width="2.8" />
<line x1="1223.2" y1="622.8" x2="1223.2" y2="600.8" stroke="#000" stroke-width="2.8" />
<line x1="1223.2" y1="983.3" x2="1223.2" y2="1006.3" stroke="#000" stroke-width="2.8" />
<line x1="1279.6" y1="622.8" x2="1279.6" y2="612.3" stroke="#000" stroke-width="2.8" />
<line x1="1279.6" y1="983.3" x2="1279.6" y2="995.3" stroke="#000" stroke-width="2.8" />
<line x1="1312.6" y1="622.8" x2="1312.6" y2="612.3" stroke="#000" stroke-width="2.8" />
<line x1="1312.6" y1="983.3" x2="1312.6" y2="995.3" stroke="#000" stroke-width="2.8" />
<text x="904.8" y="1018.6" font-size="20" text-anchor="middle" fill="#000" >2</text>
<text x="961.2" y="1018.6" font-size="20" text-anchor="middle" fill="#000" >4</text>
<text x="994.2" y="1018.6" font-size="20" text-anchor="middle" fill="#000" >6</text>
<text x="1092.2" y="1018.6" font-size="20" text-anchor="middle" fill="#000" >2</text>
<text x="1148.6" y="1018.6" font-size="20" text-anchor="middle" fill="#000" >4</text>
<text x="1181.6" y="1018.6" font-size="20" text-anchor="middle" fill="#000" >6</text>
<text x="1279.6" y="1018.6" font-size="20" text-anchor="middle" fill="#000" >2</text>
<text x="848.4" y="1046.8" font-size="30" text-anchor="middle" fill="#000" >1</text>
<text x="1035.8" y="1046.8" font-size="30" text-anchor="middle" fill="#000" >10</text>
<text x="1223.2" y="1046.8" font-size="30" text-anchor="middle" fill="#000" >100</text>
<circle cx="905" cy="653.7" r="7.2" fill="#ff0000"/>
<circle cx="961.5" cy="659.4" r="7.2" fill="#ff0000"/>
<circle cx="994.6" cy="677.1" r="7.2" fill="#ff0000"/>
<circle cx="1035.7" cy="724.8" r="7.2" fill="#ff0000"/>
<circle cx="1091.9" cy="785.5" r="7.2" fill="#ff0000"/>
<circle cx="1148.8" cy="809" r="7.2" fill="#ff0000"/>
<circle cx="1223.3" cy="827" r="7.2" fill="#ff0000"/>
<circle cx="1279.1" cy="868.3" r="7.2" fill="#ff0000"/>
<rect x="896" y="749" width="131" height="36.5" fill="#fff"/>
<rect x="1058" y="700.5" width="185" height="36" fill="#fff"/>
<text x="895.5" y="777.2" font-size="30.8" text-anchor="start" fill="#000" >full decay</text>
<text x="1060.5" y="728.2" font-size="31.3" text-anchor="start" fill="#000" >square-wave</text>
<line x1="949.7" y1="760.7" x2="909.9" y2="668.3" stroke="#000" stroke-width="1.8" />
<path d="M906.3 660.0 L912.8 667.0 L906.9 669.5 Z" fill="#000"/>
<line x1="960.7" y1="748.3" x2="960.7" y2="674.5" stroke="#000" stroke-width="1.8" />
<path d="M960.7 665.5 L963.9 674.5 L957.5 674.5 Z" fill="#000"/>
<line x1="1136.9" y1="735.9" x2="1100.4" y2="773.5" stroke="#000" stroke-width="1.8" />
<path d="M1094.1 780.0 L1098.1 771.3 L1102.7 775.8 Z" fill="#000"/>
<line x1="1150.7" y1="723.4" x2="1149" y2="793.9" stroke="#000" stroke-width="1.8" />
<path d="M1148.8 802.9 L1145.8 793.8 L1152.2 794.0 Z" fill="#000"/>
<text transform="translate(721.3 858.5) rotate(-90)" font-size="31">I<tspan font-size="22" dy="8.5">pkpk</tspan><tspan dy="-8.5"> /pA</tspan></text>
<text x="1020" y="1102.8" font-size="31">f<tspan font-size="22" dy="8">light</tspan><tspan dy="-8"> / Hz</tspan></text>
<line x1="931.6" y1="1186.5" x2="931.6" y2="1574.2" stroke="#9cc0d0" stroke-width="2" stroke-dasharray="2.5 4.5"/>
<line x1="1048.2" y1="1186.5" x2="1048.2" y2="1574.2" stroke="#9cc0d0" stroke-width="2" stroke-dasharray="2.5 4.5"/>
<line x1="1164.9" y1="1186.5" x2="1164.9" y2="1574.2" stroke="#9cc0d0" stroke-width="2" stroke-dasharray="2.5 4.5"/>
<line x1="1281.6" y1="1186.5" x2="1281.6" y2="1574.2" stroke="#9cc0d0" stroke-width="2" stroke-dasharray="2.5 4.5"/>
<line x1="1119" y1="1231.4" x2="1119" y2="1572" stroke="#404040" stroke-width="1.6" />
<path d="M815.5 1286.5 L816.5 1286.4 L817.5 1286.3 L818.5 1286.2 L819.5 1286.2 L820.5 1286.1 L821.5 1286.0 L822.5 1285.9 L823.5 1285.8 L824.5 1285.7 L825.5 1285.6 L826.5 1285.5 L827.5 1285.5 L828.5 1285.4 L829.5 1285.3 L830.5 1285.3 L831.5 1285.2 L832.5 1285.2 L833.5 1285.1 L834.5 1285.0 L835.5 1285.0 L836.5 1285.0 L837.5 1284.9 L838.5 1284.9 L839.5 1284.8 L840.5 1284.8 L841.5 1284.8 L842.5 1284.7 L843.5 1284.7 L844.5 1284.7 L845.3 1284.7" fill="none" stroke="#000" stroke-width="5.2"/>
<path d="M877.3 1286.0 L878.3 1286.1 L879.3 1286.1 L880.3 1286.2 L881.3 1286.3 L882.3 1286.4 L883.3 1286.4 L884.3 1286.5 L885.3 1286.6 L886.3 1286.7 L887.3 1286.8 L888.3 1286.8 L889.3 1286.9 L890.3 1287.0 L891.3 1287.1 L892.3 1287.2 L893.3 1287.3 L894.3 1287.4 L895.3 1287.5 L896.3 1287.6 L897.3 1287.8 L898.3 1287.9 L899.3 1288.0 L900.3 1288.1 L901.3 1288.2 L902.3 1288.4 L903.3 1288.5 L904.3 1288.6 L905.3 1288.8 L906.3 1289.0 L907.1 1289.1" fill="none" stroke="#000" stroke-width="5.2"/>
<path d="M939.1 1298.6 L940.1 1299.0 L941.1 1299.5 L942.1 1299.9 L943.1 1300.4 L944.1 1300.9 L945.1 1301.4 L946.1 1301.9 L947.1 1302.5 L948.1 1303.0 L949.1 1303.5 L950.1 1304.0 L951.1 1304.5 L952.1 1305.1 L953.1 1305.6 L954.1 1306.1 L955.1 1306.6 L956.1 1307.1 L957.1 1307.6 L958.1 1308.1 L959.1 1308.6 L960.1 1309.2 L961.1 1309.7 L962.1 1310.2 L963.1 1310.7 L964.1 1311.2 L965.1 1311.7 L965.6 1311.9" fill="none" stroke="#000" stroke-width="5.2"/>
<path d="M995.4 1325.1 L996.4 1325.5 L997.4 1325.9 L998.4 1326.3 L999.4 1326.6 L1000.4 1327.0 L1001.4 1327.3 L1002.4 1327.7 L1003.4 1328.0 L1004.4 1328.4 L1005.4 1328.7 L1006.4 1329.1 L1007.4 1329.4 L1008.4 1329.8 L1009.4 1330.1 L1010.4 1330.5 L1011.4 1330.8 L1012.4 1331.2 L1013.4 1331.5 L1014.4 1331.8 L1015.4 1332.1 L1016.4 1332.5 L1017.4 1332.8 L1018.4 1333.1 L1019.4 1333.5 L1020.4 1333.8 L1021.4 1334.2 L1022.4 1334.6 L1023.4 1335.0 L1023.7 1335.1" fill="none" stroke="#000" stroke-width="5.2"/>
<path d="M1052.8 1348.3 L1053.8 1348.6 L1054.8 1349.0 L1055.8 1349.3 L1056.8 1349.6 L1057.8 1349.9 L1058.8 1350.2 L1059.8 1350.4 L1060.8 1350.7 L1061.8 1350.9 L1062.8 1351.2 L1063.8 1351.4 L1064.8 1351.7 L1065.8 1351.9 L1066.8 1352.1 L1067.8 1352.4 L1068.8 1352.6 L1069.8 1352.8 L1070.8 1353.0 L1071.8 1353.2 L1072.8 1353.4 L1073.8 1353.5 L1074.8 1353.7 L1075.8 1353.9 L1076.8 1354.0 L1077.8 1354.2 L1078.8 1354.4 L1079.8 1354.5 L1080.8 1354.6 L1081.8 1354.8 L1082.6 1354.9" fill="none" stroke="#000" stroke-width="5.2"/>
<path d="M1116.1 1355.9 L1117.1 1355.7 L1118.1 1355.6 L1119.1 1355.4 L1120.1 1355.2 L1121.1 1355.0 L1122.1 1354.7 L1123.1 1354.5 L1124.1 1354.2 L1125.1 1354.0 L1126.1 1353.7 L1127.1 1353.4 L1128.1 1353.1 L1129.1 1352.9 L1130.1 1352.6 L1131.1 1352.3 L1132.1 1352.0 L1133.1 1351.7 L1134.1 1351.5 L1135.1 1351.2 L1136.1 1350.9 L1137.1 1350.6 L1138.1 1350.3 L1139.1 1350.0 L1140.1 1349.7 L1141.1 1349.3 L1142.1 1348.9 L1143.1 1348.5 L1144.1 1348.1 L1144.8 1347.8" fill="none" stroke="#000" stroke-width="5.2"/>
<path d="M1170.8 1329.9 L1171.8 1329.1 L1172.8 1328.2 L1173.8 1327.4 L1174.8 1326.5 L1175.8 1325.6 L1176.8 1324.7 L1177.8 1323.8 L1178.8 1322.9 L1179.8 1322.0 L1180.8 1321.1 L1181.8 1320.2 L1182.8 1319.3 L1183.8 1318.4 L1184.8 1317.6 L1185.8 1316.7 L1186.8 1315.9 L1187.8 1315.1 L1188.8 1314.2 L1189.8 1313.3 L1190.8 1312.4 L1191.8 1311.5 L1192.8 1310.5 L1193.8 1309.5 L1194.1 1309.2" fill="none" stroke="#000" stroke-width="5.2"/>
<path d="M1214.8 1284.1 L1215.8 1283.1 L1216.8 1282.1 L1217.8 1281.1 L1218.8 1280.2 L1219.8 1279.3 L1220.8 1278.4 L1221.8 1277.6 L1222.8 1276.7 L1223.8 1275.9 L1224.8 1275.0 L1225.8 1274.2 L1226.8 1273.3 L1227.8 1272.5 L1228.8 1271.8 L1229.8 1271.0 L1230.8 1270.3 L1231.8 1269.5 L1232.8 1268.8 L1233.8 1268.0 L1234.8 1267.2 L1235.8 1266.4 L1236.8 1265.6 L1237.8 1264.7 L1238.1 1264.4" fill="none" stroke="#000" stroke-width="5.2"/>
<path d="M1260.5 1241.1 L1261.5 1240.3 L1262.5 1239.6 L1263.5 1238.8 L1264.5 1238.1 L1265.5 1237.5 L1266.5 1236.9 L1267.5 1236.2 L1268.5 1235.6 L1269.5 1235.0 L1270.5 1234.5 L1271.5 1233.9 L1272.5 1233.3 L1273.5 1232.7 L1274.5 1232.2 L1275.5 1231.6 L1276.5 1231.1 L1277.5 1230.6 L1278.5 1230.1 L1279.5 1229.6 L1280.5 1229.1 L1281.5 1228.6 L1282.5 1228.1 L1283.5 1227.6 L1284.5 1227.0 L1285.5 1226.5 L1286.5 1225.9" fill="none" stroke="#000" stroke-width="5.2"/>
<path d="M1314.3 1209.7 L1315.3 1209.2 L1316.3 1208.7 L1317.3 1208.3 L1318.3 1207.8 L1319.3 1207.3 L1320.3 1206.9 L1321.3 1206.5 L1322.3 1206.0 L1323.3 1205.6 L1324.3 1205.3 L1325.3 1204.9 L1326.3 1204.5 L1327.3 1204.2 L1328.3 1203.9 L1329.3 1203.6 L1330.3 1203.3 L1331.3 1203.1 L1332.3 1203.0 L1333.3 1203.0 L1334.3 1203.1 L1335.3 1203.2 L1336.3 1203.4 L1337.3 1203.6 L1338.3 1203.9 L1339.3 1204.2 L1340.3 1204.5 L1341.3 1204.8 L1342.3 1205.0 L1343.0 1205.2" fill="none" stroke="#000" stroke-width="5.2"/>
<path d="M815.5 1570.1 L816.5 1569.5 L817.5 1568.9 L818.5 1568.3 L819.5 1567.6 L820.5 1567.0 L821.5 1566.5 L822.5 1566.0 L823.5 1565.6 L824.5 1565.3 L825.5 1565.1 L826.5 1564.9 L827.5 1564.8 L828.5 1564.7 L829.5 1564.6 L830.5 1564.6 L831.5 1564.5 L832.5 1564.5 L833.5 1564.4 L834.5 1564.4 L835.5 1564.4 L836.5 1564.4 L837.5 1564.4 L838.5 1564.4 L839.5 1564.5 L840.5 1564.6 L841.5 1564.7 L842.5 1564.9 L843.5 1565.1 L844.5 1565.4 L845.5 1565.7 L846.5 1566.0 L847.5 1566.3 L848.5 1566.6 L849.5 1566.8 L850.5 1566.9 L851.5 1567.0 L852.5 1567.2 L853.5 1567.3 L854.5 1567.4 L855.5 1567.4 L856.5 1567.5 L857.5 1567.5 L858.5 1567.6 L859.5 1567.5 L860.5 1567.5 L861.5 1567.4 L862.5 1567.3 L863.5 1567.1 L864.5 1566.9 L865.5 1566.6 L866.5 1566.3 L867.5 1566.1 L868.5 1565.9 L869.5 1565.8 L870.5 1565.7 L871.5 1565.8 L872.5 1566.0 L873.5 1566.4 L874.5 1566.8 L875.5 1567.2 L876.5 1567.6 L877.5 1568.0 L878.5 1568.5 L879.5 1569.0 L880.5 1569.5 L881.5 1570.0 L882.5 1570.5 L883.5 1570.8 L884.5 1571.1 L885.5 1571.2 L886.5 1571.2 L887.5 1570.9 L888.5 1570.4 L889.5 1569.7 L890.5 1569.0 L891.5 1568.2 L892.5 1567.5 L893.5 1566.8 L894.5 1566.3 L895.5 1566.0 L896.5 1565.7 L897.5 1565.6 L898.5 1565.6 L899.5 1565.5 L900.5 1565.5 L901.5 1565.5 L902.5 1565.5 L903.5 1565.5 L904.5 1565.4 L905.5 1565.2 L906.5 1565.0 L907.5 1564.9 L908.5 1564.7 L909.5 1564.5 L910.5 1564.3 L911.5 1564.0 L912.5 1563.7 L913.5 1563.4 L914.5 1563.1 L915.5 1562.6 L916.5 1562.2 L917.5 1561.6 L918.5 1561.1 L919.5 1560.4 L920.5 1559.8 L921.5 1559.1 L922.5 1558.4 L923.5 1557.7 L924.5 1557.0 L925.5 1556.3 L926.5 1555.6 L927.5 1554.8 L928.5 1554.1 L929.5 1553.4 L930.5 1552.7 L931.5 1551.9 L932.5 1551.2 L933.5 1550.4 L934.5 1549.7 L935.5 1548.9 L936.5 1548.1 L937.5 1547.4 L938.5 1546.6 L939.5 1545.8 L940.5 1545.1 L941.5 1544.3 L942.5 1543.6 L943.5 1542.9 L944.5 1542.1 L945.5 1541.4 L946.5 1540.6 L947.5 1539.9 L948.5 1539.1 L949.5 1538.4 L950.5 1537.7 L951.5 1537.1 L952.5 1536.5 L953.5 1535.9 L954.5 1535.4 L955.5 1534.9 L956.5 1534.4 L957.5 1534.0 L958.5 1533.6 L959.5 1533.2 L960.5 1532.9 L961.5 1532.5 L962.5 1532.2 L963.5 1531.8 L964.5 1531.5 L965.5 1531.2 L966.5 1531.0 L967.5 1530.8 L968.5 1530.7 L969.5 1530.5 L970.5 1530.3 L971.5 1530.0 L972.5 1529.7 L973.5 1529.2 L974.5 1528.7 L975.5 1528.2 L976.5 1527.6 L977.5 1527.0 L978.5 1526.3 L979.5 1525.7 L980.5 1525.0 L981.5 1524.3 L982.5 1523.6 L983.5 1522.8 L984.5 1522.0 L985.5 1521.3 L986.5 1520.5 L987.5 1519.7 L988.5 1518.8 L989.5 1517.9 L990.5 1517.0 L991.5 1516.0 L992.5 1515.0 L993.5 1514.0 L994.5 1513.1 L995.5 1512.1 L996.5 1511.2 L997.5 1510.2 L998.5 1509.4 L999.5 1508.5 L1000.5 1507.8 L1001.5 1507.0 L1002.5 1506.3 L1003.5 1505.6 L1004.5 1504.9 L1005.5 1504.2 L1006.5 1503.6 L1007.5 1503.0 L1008.5 1502.3 L1009.5 1501.7 L1010.5 1501.1 L1011.5 1500.5 L1012.5 1499.9 L1013.5 1499.3 L1014.5 1498.6 L1015.5 1498.1 L1016.5 1497.5 L1017.5 1496.9 L1018.5 1496.3 L1019.5 1495.8 L1020.5 1495.2 L1021.5 1494.6 L1022.5 1494.1 L1023.5 1493.5 L1024.5 1492.9 L1025.5 1492.2 L1026.5 1491.6 L1027.5 1490.9 L1028.5 1490.2 L1029.5 1489.5 L1030.5 1488.7 L1031.5 1488.0 L1032.5 1487.2 L1033.5 1486.5 L1034.5 1485.7 L1035.5 1484.9 L1036.5 1484.2 L1037.5 1483.4 L1038.5 1482.6 L1039.5 1481.9 L1040.5 1481.1 L1041.5 1480.4 L1042.5 1479.6 L1043.5 1478.9 L1044.5 1478.1 L1045.5 1477.4 L1046.5 1476.6 L1047.5 1475.8 L1048.5 1475.1 L1049.5 1474.3 L1050.5 1473.6 L1051.5 1472.9 L1052.5 1472.1 L1053.5 1471.4 L1054.5 1470.6 L1055.5 1469.9 L1056.5 1469.2 L1057.5 1468.4 L1058.5 1467.7 L1059.5 1466.9 L1060.5 1466.2 L1061.5 1465.5 L1062.5 1464.8 L1063.5 1464.1 L1064.5 1463.4 L1065.5 1462.7 L1066.5 1462.0 L1067.5 1461.3 L1068.5 1460.7 L1069.5 1460.0 L1070.5 1459.4 L1071.5 1458.8 L1072.5 1458.1 L1073.5 1457.5 L1074.5 1456.9 L1075.5 1456.3 L1076.5 1455.8 L1077.5 1455.2 L1078.5 1454.6 L1079.5 1454.1 L1080.5 1453.6 L1081.5 1453.1 L1082.5 1452.6 L1083.5 1452.1 L1084.5 1451.6 L1085.5 1451.2 L1086.5 1450.8 L1087.5 1450.5 L1088.5 1450.1 L1089.5 1449.8 L1090.5 1449.5 L1091.5 1449.2 L1092.5 1448.9 L1093.5 1448.6 L1094.5 1448.3 L1095.5 1448.0 L1096.5 1447.8 L1097.5 1447.4 L1098.5 1447.2 L1099.5 1446.9 L1100.5 1446.6 L1101.5 1446.3 L1102.5 1446.0 L1103.5 1445.8 L1104.5 1445.5 L1105.5 1445.2 L1106.5 1445.0 L1107.5 1444.7 L1108.5 1444.4 L1109.5 1444.1 L1110.5 1443.9 L1111.5 1443.5 L1112.5 1443.2 L1113.5 1442.9 L1114.5 1442.5 L1115.5 1442.2 L1116.5 1441.9 L1117.5 1441.6 L1118.5 1441.3 L1119.5 1441.1 L1120.5 1440.8 L1121.5 1440.6 L1122.5 1440.4 L1123.5 1440.1 L1124.5 1439.9 L1125.5 1439.7 L1126.5 1439.5 L1127.5 1439.3 L1128.5 1439.2 L1129.5 1439.0 L1130.5 1438.9 L1131.5 1438.8 L1132.5 1438.7 L1133.5 1438.7 L1134.5 1438.6 L1135.5 1438.6 L1136.5 1438.6 L1137.5 1438.5 L1138.5 1438.5 L1139.5 1438.6 L1140.5 1438.6 L1141.5 1438.6 L1142.5 1438.6 L1143.5 1438.7 L1144.5 1438.7 L1145.5 1438.8 L1146.5 1438.8 L1147.5 1438.9 L1148.5 1439.0 L1149.5 1439.1 L1150.5 1439.2 L1151.5 1439.4 L1152.5 1439.5 L1153.5 1439.6 L1154.5 1439.8 L1155.5 1439.9 L1156.5 1440.1 L1157.5 1440.2 L1158.5 1440.3 L1159.5 1440.4 L1160.5 1440.6 L1161.5 1440.7 L1162.5 1440.8 L1163.5 1440.9 L1164.5 1441.1 L1165.5 1441.4 L1166.5 1441.6 L1167.5 1441.9 L1168.5 1442.3 L1169.5 1442.7 L1170.5 1443.1 L1171.5 1443.5 L1172.5 1444.0 L1173.5 1444.4 L1174.5 1444.9 L1175.5 1445.4 L1176.5 1445.9 L1177.5 1446.4 L1178.5 1447.0 L1179.5 1447.5 L1180.5 1448.0 L1181.5 1448.6 L1182.5 1449.1 L1183.5 1449.7 L1184.5 1450.3 L1185.5 1450.9 L1186.5 1451.4 L1187.5 1452.0 L1188.5 1452.7 L1189.5 1453.3 L1190.5 1453.9 L1191.5 1454.6 L1192.5 1455.2 L1193.5 1455.9 L1194.5 1456.6 L1195.5 1457.3 L1196.5 1458.0 L1197.5 1458.7 L1198.5 1459.4 L1199.5 1460.2 L1200.5 1461.0 L1201.5 1461.7 L1202.5 1462.5 L1203.5 1463.3 L1204.5 1464.1 L1205.5 1465.0 L1206.5 1465.8 L1207.5 1466.7 L1208.5 1467.6 L1209.5 1468.5 L1210.5 1469.4 L1211.5 1470.3 L1212.5 1471.3 L1213.5 1472.3 L1214.5 1473.4 L1215.5 1474.4 L1216.5 1475.5 L1217.5 1476.5 L1218.5 1477.6 L1219.5 1478.7 L1220.5 1479.8 L1221.5 1480.9 L1222.5 1482.0 L1223.5 1483.2 L1224.5 1484.3 L1225.5 1485.4 L1226.5 1486.5 L1227.5 1487.7 L1228.5 1488.9 L1229.5 1490.1 L1230.5 1491.3 L1231.5 1492.5 L1232.5 1493.7 L1233.5 1494.9 L1234.5 1496.0 L1235.5 1497.1 L1236.5 1498.2 L1237.5 1499.2 L1238.5 1500.1 L1239.5 1501.1 L1240.5 1502.0 L1241.5 1503.0 L1242.5 1503.9 L1243.5 1504.9 L1244.5 1505.9 L1245.5 1507.0 L1246.5 1508.1 L1247.5 1509.3 L1248.5 1510.6 L1249.5 1511.9 L1250.5 1513.2 L1251.5 1514.5 L1252.5 1515.9 L1253.5 1517.3 L1254.5 1518.6 L1255.5 1519.9 L1256.5 1521.2 L1257.5 1522.5 L1258.5 1523.7 L1259.5 1524.8 L1260.5 1525.9 L1261.5 1527.0 L1262.5 1528.0 L1263.5 1529.1 L1264.5 1530.1 L1265.5 1531.1 L1266.5 1532.1 L1267.5 1533.0 L1268.5 1533.9 L1269.5 1534.9 L1270.5 1535.8 L1271.5 1536.7 L1272.5 1537.6 L1273.5 1538.4 L1274.5 1539.3 L1275.5 1540.1 L1276.5 1541.0 L1277.5 1541.8 L1278.5 1542.6 L1279.5 1543.4 L1280.5 1544.2 L1281.5 1544.9 L1282.5 1545.7 L1283.5 1546.5 L1284.5 1547.3 L1285.5 1548.0 L1286.5 1548.8 L1287.5 1549.6 L1288.5 1550.4 L1289.5 1551.2 L1290.5 1552.0 L1291.5 1552.8 L1292.5 1553.6 L1293.5 1554.3 L1294.5 1555.1 L1295.5 1555.8 L1296.5 1556.6 L1297.5 1557.3 L1298.5 1558.0 L1299.5 1558.6 L1300.5 1559.2 L1301.5 1559.9 L1302.5 1560.4 L1303.5 1561.0 L1304.5 1561.5 L1305.5 1562.1 L1306.5 1562.6 L1307.5 1563.1 L1308.5 1563.5 L1309.5 1564.0 L1310.5 1564.5 L1311.5 1564.9 L1312.5 1565.3 L1313.5 1565.7 L1314.5 1566.1 L1315.5 1566.5 L1316.5 1566.9 L1317.5 1567.3 L1318.5 1567.6 L1319.5 1568.0 L1320.5 1568.3 L1321.5 1568.6 L1322.5 1568.9 L1323.5 1569.2 L1324.5 1569.5 L1325.5 1569.7 L1326.5 1570.0 L1327.5 1570.3 L1328.5 1570.5 L1329.5 1570.8 L1330.5 1571.0 L1331.5 1571.2 L1332.5 1571.4 L1333.5 1571.6 L1334.5 1571.8 L1335.5 1572.0 L1336.5 1572.2 L1337.5 1572.4 L1338.5 1572.6 L1339.5 1572.7 L1340.5 1572.9 L1341.5 1573.0 L1342.5 1573.2 L1343.5 1573.4 L1344.5 1573.5 L1345.5 1573.6 L1346.5 1573.7 L1347.5 1573.8 L1348.5 1573.9 L1349.5 1574.0 L1350.5 1574.1 L1351.2 1574.2" fill="none" stroke="#000" stroke-width="5.2" stroke-linejoin="round"/>
<rect x="815" y="1184.5" width="537" height="391.70000000000005" fill="none" stroke="#000" stroke-width="2.8"/>
<line x1="790.5" y1="1184.5" x2="815" y2="1184.5" stroke="#000" stroke-width="2.8" />
<line x1="790.5" y1="1262.6" x2="815" y2="1262.6" stroke="#000" stroke-width="2.8" />
<line x1="790.5" y1="1340.9" x2="815" y2="1340.9" stroke="#000" stroke-width="2.8" />
<line x1="790.5" y1="1418.7" x2="815" y2="1418.7" stroke="#000" stroke-width="2.8" />
<line x1="790.5" y1="1497.6" x2="815" y2="1497.6" stroke="#000" stroke-width="2.8" />
<line x1="790.5" y1="1576.2" x2="815" y2="1576.2" stroke="#000" stroke-width="2.8" />
<line x1="1352" y1="1262.6" x2="1376.9" y2="1262.6" stroke="#000" stroke-width="2.8" />
<line x1="1352" y1="1367.1" x2="1376.9" y2="1367.1" stroke="#000" stroke-width="2.8" />
<line x1="1352" y1="1471.7" x2="1376.9" y2="1471.7" stroke="#000" stroke-width="2.8" />
<line x1="1352" y1="1576.2" x2="1376.9" y2="1576.2" stroke="#000" stroke-width="2.8" />
<line x1="814.9" y1="1576.2" x2="814.9" y2="1601.2" stroke="#000" stroke-width="2.8" />
<line x1="838.2" y1="1576.2" x2="838.2" y2="1589.2" stroke="#000" stroke-width="2.8" />
<line x1="861.6" y1="1576.2" x2="861.6" y2="1589.2" stroke="#000" stroke-width="2.8" />
<line x1="884.9" y1="1576.2" x2="884.9" y2="1589.2" stroke="#000" stroke-width="2.8" />
<line x1="908.2" y1="1576.2" x2="908.2" y2="1589.2" stroke="#000" stroke-width="2.8" />
<line x1="931.6" y1="1576.2" x2="931.6" y2="1601.2" stroke="#000" stroke-width="2.8" />
<line x1="954.9" y1="1576.2" x2="954.9" y2="1589.2" stroke="#000" stroke-width="2.8" />
<line x1="978.2" y1="1576.2" x2="978.2" y2="1589.2" stroke="#000" stroke-width="2.8" />
<line x1="1001.6" y1="1576.2" x2="1001.6" y2="1589.2" stroke="#000" stroke-width="2.8" />
<line x1="1024.9" y1="1576.2" x2="1024.9" y2="1589.2" stroke="#000" stroke-width="2.8" />
<line x1="1048.2" y1="1576.2" x2="1048.2" y2="1601.2" stroke="#000" stroke-width="2.8" />
<line x1="1071.6" y1="1576.2" x2="1071.6" y2="1589.2" stroke="#000" stroke-width="2.8" />
<line x1="1094.9" y1="1576.2" x2="1094.9" y2="1589.2" stroke="#000" stroke-width="2.8" />
<line x1="1118.3" y1="1576.2" x2="1118.3" y2="1589.2" stroke="#000" stroke-width="2.8" />
<line x1="1141.6" y1="1576.2" x2="1141.6" y2="1589.2" stroke="#000" stroke-width="2.8" />
<line x1="1164.9" y1="1576.2" x2="1164.9" y2="1601.2" stroke="#000" stroke-width="2.8" />
<line x1="1188.3" y1="1576.2" x2="1188.3" y2="1589.2" stroke="#000" stroke-width="2.8" />
<line x1="1211.6" y1="1576.2" x2="1211.6" y2="1589.2" stroke="#000" stroke-width="2.8" />
<line x1="1234.9" y1="1576.2" x2="1234.9" y2="1589.2" stroke="#000" stroke-width="2.8" />
<line x1="1258.3" y1="1576.2" x2="1258.3" y2="1589.2" stroke="#000" stroke-width="2.8" />
<line x1="1281.6" y1="1576.2" x2="1281.6" y2="1601.2" stroke="#000" stroke-width="2.8" />
<line x1="1304.9" y1="1576.2" x2="1304.9" y2="1589.2" stroke="#000" stroke-width="2.8" />
<line x1="1328.3" y1="1576.2" x2="1328.3" y2="1589.2" stroke="#000" stroke-width="2.8" />
<line x1="1351.6" y1="1576.2" x2="1351.6" y2="1589.2" stroke="#000" stroke-width="2.8" />
<text x="814.9" y="1644.4" font-size="33" text-anchor="middle" fill="#000" >400</text>
<text x="931.6" y="1644.4" font-size="33" text-anchor="middle" fill="#000" >450</text>
<text x="1048.2" y="1644.4" font-size="33" text-anchor="middle" fill="#000" >500</text>
<text x="1164.9" y="1644.4" font-size="33" text-anchor="middle" fill="#000" >550</text>
<text x="1281.6" y="1644.4" font-size="33" text-anchor="middle" fill="#000" >600</text>
<text x="1117.6" y="1223.1" font-size="33.3" text-anchor="middle" fill="#000" >530 nm</text>
<line x1="1014.5" y1="1477.5" x2="950.4" y2="1477.5" stroke="#000" stroke-width="1.6" />
<path d="M941.4 1477.5 L950.4 1474.5 L950.4 1480.5 Z" fill="#000"/>
<line x1="1221" y1="1314.1" x2="1286.5" y2="1314.1" stroke="#000" stroke-width="1.6" />
<path d="M1295.5 1314.1 L1286.5 1317.1 L1286.5 1311.1 Z" fill="#000"/>
<text x="1083" y="1698.6" font-size="33" text-anchor="middle" fill="#000" >λ / nm</text>
<text transform="translate(760.9 1520) rotate(-90)" font-size="34">Responsivity / A/W</text>
<text transform="translate(1421.5 1253.5) rotate(90)" font-size="34.2">Transmission / %</text>
</svg></body></html>
